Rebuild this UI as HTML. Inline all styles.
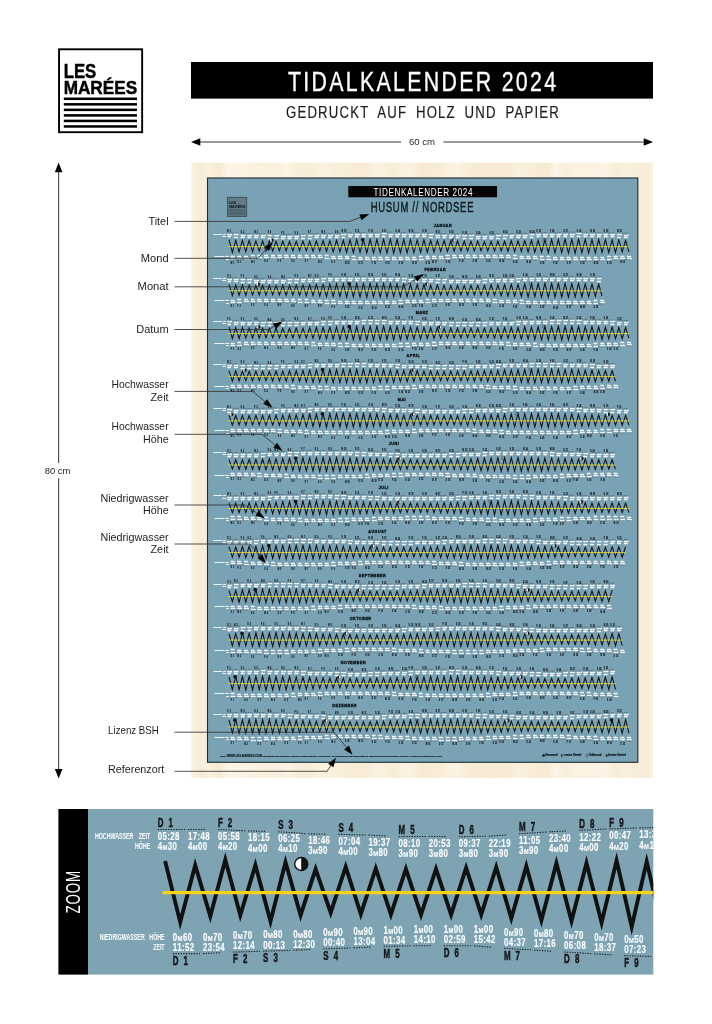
<!DOCTYPE html>
<html lang="de"><head><meta charset="utf-8"><title>Tidalkalender 2024</title>
<style>
html,body{margin:0;padding:0;background:#fff}
svg{display:block}
text{font-family:"Liberation Sans",sans-serif}
.lb{font-size:10.2px;fill:#1e1e1e}
.w{fill:#fff;font-weight:bold;font-size:10.6px;font-variant:small-caps;stroke:#fff;stroke-width:.12px;letter-spacing:.5px}
.d{fill:#161616;font-weight:bold;font-size:12.8px;word-spacing:4.6px;stroke:#161616;stroke-width:.5px}
.h{fill:#fff;font-weight:bold;font-size:8.4px}
.pr .w{stroke:#fff;stroke-width:1.9px;letter-spacing:0}
.pr .z{stroke-width:4.7px}
.pr .y{stroke-width:3.6px;stroke:#f6e52a}
.pr .d{stroke:#161616;stroke-width:.7px}
.pr .h{stroke:#fff;stroke-width:1px}
.pr .dt{stroke-width:1.6px;stroke-dasharray:none;stroke:#2a3a42}
.z{fill:none;stroke:#111;stroke-width:3.9;stroke-linejoin:miter;stroke-miterlimit:10}
.y{stroke:#f2d21a;stroke-width:3.3;fill:none}
.dt{stroke:#1b1b1b;stroke-width:1.1;stroke-dasharray:1.3 1.3;fill:none}
.mo{font-weight:bold;font-size:3.7px;fill:#10191d;stroke:#10191d;stroke-width:.35px}
</style></head><body>
<svg width="712" height="1024" viewBox="0 0 712 1024">
<defs>
<linearGradient id="wood" x1="0" x2="1" y1="0" y2="0">
<stop offset="0" stop-color="#fbf2e2"/><stop offset="0.02" stop-color="#f8ecd7"/><stop offset="0.04" stop-color="#faf0dd"/><stop offset="0.06" stop-color="#f7ead3"/><stop offset="0.08" stop-color="#fcf4e5"/><stop offset="0.1" stop-color="#fcf4e5"/><stop offset="0.12" stop-color="#fbf2e2"/><stop offset="0.15" stop-color="#faf0dd"/><stop offset="0.17" stop-color="#faf0dd"/><stop offset="0.19" stop-color="#faf0dd"/><stop offset="0.21" stop-color="#fcf4e5"/><stop offset="0.23" stop-color="#f9eeda"/><stop offset="0.25" stop-color="#f8ecd7"/><stop offset="0.27" stop-color="#faf0dd"/><stop offset="0.29" stop-color="#fbf2e2"/><stop offset="0.31" stop-color="#f9eeda"/><stop offset="0.33" stop-color="#f9eeda"/><stop offset="0.35" stop-color="#f8ecd7"/><stop offset="0.38" stop-color="#f8ecd7"/><stop offset="0.4" stop-color="#fbf2e2"/><stop offset="0.42" stop-color="#faf0dd"/><stop offset="0.44" stop-color="#f8ecd7"/><stop offset="0.46" stop-color="#fbf2e2"/><stop offset="0.48" stop-color="#faf0dd"/><stop offset="0.5" stop-color="#f7ead3"/><stop offset="0.52" stop-color="#f8ecd7"/><stop offset="0.54" stop-color="#f8ecd7"/><stop offset="0.56" stop-color="#fbf2e2"/><stop offset="0.58" stop-color="#fbf2e2"/><stop offset="0.6" stop-color="#f8ecd7"/><stop offset="0.62" stop-color="#f8ecd7"/><stop offset="0.65" stop-color="#f7ead3"/><stop offset="0.67" stop-color="#f7ead3"/><stop offset="0.69" stop-color="#f8ecd7"/><stop offset="0.71" stop-color="#faf0dd"/><stop offset="0.73" stop-color="#f9eeda"/><stop offset="0.75" stop-color="#f8ecd7"/><stop offset="0.77" stop-color="#f7ead3"/><stop offset="0.79" stop-color="#fcf4e5"/><stop offset="0.81" stop-color="#f9eeda"/><stop offset="0.83" stop-color="#fbf2e2"/><stop offset="0.85" stop-color="#fbf2e2"/><stop offset="0.88" stop-color="#fbf2e2"/><stop offset="0.9" stop-color="#fcf4e5"/><stop offset="0.92" stop-color="#f8ecd7"/><stop offset="0.94" stop-color="#faf0dd"/><stop offset="0.96" stop-color="#f9eeda"/><stop offset="0.98" stop-color="#f8ecd7"/><stop offset="1" stop-color="#faf0dd"/>
</linearGradient>
<clipPath id="zc"><rect x="88" y="809" width="565.3" height="165.6"/></clipPath>
</defs>
<rect width="712" height="1024" fill="#fff"/>
<g id="logo">
<rect x="59.05" y="49.3" width="83.1" height="82.9" fill="#fff" stroke="#000" stroke-width="1.9"/>
<text x="63.7" y="78.1" font-size="19.6" font-weight="bold" stroke="#000" stroke-width="0.45" textLength="32.6" lengthAdjust="spacingAndGlyphs">LES</text>
<text x="63.7" y="94.1" font-size="18" font-weight="bold" stroke="#000" stroke-width="0.45" textLength="73.4" lengthAdjust="spacingAndGlyphs">MARÉES</text>
<rect x="63.8" y="97.55" width="73.2" height="2.5"/>
<rect x="63.8" y="103.08" width="73.2" height="2.5"/>
<rect x="63.8" y="108.61" width="73.2" height="2.5"/>
<rect x="63.8" y="114.14" width="73.2" height="2.5"/>
<rect x="63.8" y="119.67" width="73.2" height="2.5"/>
<rect x="63.8" y="125.2" width="73.2" height="2.5"/>
</g>
<rect x="191" y="62" width="462" height="36.6" fill="#000"/>
<text x="288" y="91.2" font-size="28" fill="#fff" stroke="#fff" stroke-width="0.35" letter-spacing="3" textLength="270.3" lengthAdjust="spacingAndGlyphs">TIDALKALENDER 2024</text>
<text x="286" y="118.4" font-size="16.8" fill="#1c1c1c" stroke="#1c1c1c" stroke-width="0.2" letter-spacing="1.5" word-spacing="5" textLength="274" lengthAdjust="spacingAndGlyphs">GEDRUCKT AUF HOLZ UND PAPIER</text>
<g stroke="#333" stroke-width="1" fill="none">
<path d="M198 142H401M443.5 142H646"/>
<path d="M58.65 170V463M58.65 478.2V771"/>
</g>
<g fill="#000">
<path d="M191 142l9.3-3.7v7.4z"/><path d="M653 142l-9.3-3.7v7.4z"/>
<path d="M58.65 162.6l-3.8 9.6h7.6z"/><path d="M58.65 778.5l-3.8-9.6h7.6z"/>
</g>
<text x="409" y="145.1" font-size="9.4" fill="#1e1e1e" textLength="26" lengthAdjust="spacingAndGlyphs">60 cm</text>
<text x="44.7" y="474.1" font-size="9.4" fill="#1e1e1e" textLength="25.6" lengthAdjust="spacingAndGlyphs">80 cm</text>
<rect x="191.2" y="162.6" width="461.7" height="615.4" fill="url(#wood)"/>
<rect x="207.5" y="178" width="430.3" height="584.3" fill="#79a2b4" stroke="#1b2d35" stroke-width="1.1"/>
<g id="plogo"><rect x="227.4" y="197.2" width="19.4" height="19.3" fill="#5f7b86" stroke="#22343b" stroke-width="0.6"/>
<text x="228.9" y="204.3" font-size="4.3" font-weight="bold" fill="#0e1518" textLength="7.4" lengthAdjust="spacingAndGlyphs">LES</text>
<text x="228.9" y="208.1" font-size="4.1" font-weight="bold" fill="#0e1518" textLength="16.5" lengthAdjust="spacingAndGlyphs">MARÉES</text>
<path d="M228.9 209.6h16.5M228.9 210.9h16.5M228.9 212.2h16.5M228.9 213.5h16.5M228.9 214.8h16.5" stroke="#3c525b" stroke-width="0.6"/></g>
<rect x="348.3" y="186" width="148.8" height="11.3" fill="#050505"/>
<text x="373.5" y="195.5" font-size="10.9" fill="#fff" letter-spacing="0.8" textLength="99.6" lengthAdjust="spacingAndGlyphs">TIDENKALENDER 2024</text>
<text x="370.7" y="212.2" font-size="13.8" fill="#121c20" stroke="#121c20" stroke-width="0.45" letter-spacing="1" textLength="103.5" lengthAdjust="spacingAndGlyphs">HUSUM // NORDSEE</text>
<text class="mo" x="443" y="226.8" text-anchor="middle" letter-spacing="0.5">JANUAR</text>
<g class="pr" transform="translate(229 246.7) scale(0.2233)">
<path class="z" d="M0 -31.1 15.1 25.7 30.1 -29.3 45.2 23.2 60.2 -28.2 75.2 22.7 90.3 -28.2 105.4 22.5 120.4 -25.9 135.5 20 150.5 -26 165.6 19.8 180.6 -25.2 195.7 20 210.7 -23.8 225.8 18 240.8 -24.9 255.9 18.4 270.9 -23.6 286 19.2 301 -24 316.1 17.9 331.1 -25 346.2 19.1 361.2 -24.2 376.3 20.5 391.3 -26.2 406.4 19.9 421.4 -26.4 436.5 21.6 451.5 -26.9 466.6 23.4 481.6 -29.2 496.7 23 511.7 -28.8 526.8 24.8 541.8 -30.5 556.9 26.6 571.9 -31.7 586.9 26 602 -31.3 617 27.5 632.1 -33.3 647.1 28.7 662.2 -32.7 677.2 27.5 692.3 -32.9 707.4 28.4 722.4 -33.8 737.5 29 752.5 -32.1 767.5 27.1 782.6 -32.8 797.6 27.3 812.7 -31.9 827.8 27.2 842.8 -30.4 857.9 24.7 872.9 -30.8 888 24.5 903 -28.5 918 24.1 933.1 -28.1 948.1 21.5 963.2 -27.6 978.2 21.3 993.3 -25.4 1008.4 21 1023.4 -26 1038.5 18.7 1053.5 -24.6 1068.5 19 1083.6 -23.9 1098.7 19.3 1113.7 -24.8 1128.8 17.6 1143.8 -23.3 1158.8 18.6 1173.9 -24.5 1189 19.5 1204 -24.9 1219 18.6 1234.1 -24.5 1249.2 20.3 1264.2 -26.7 1279.2 21.7 1294.3 -26.5 1309.3 21.3 1324.4 -27.7 1339.5 23.3 1354.5 -29.5 1369.5 24.9 1384.6 -29.1 1399.7 24.5 1414.7 -31.3 1429.8 26.4 1444.8 -31.7 1459.9 27.8 1474.9 -31.8 1490 26.9 1505 -33.6 1520 28.3 1535.1 -32.5 1550.2 29 1565.2 -33.3 1580.2 27.5 1595.3 -33.5 1610.4 28.3 1625.4 -31.9 1640.5 28.2 1655.5 -32.8 1670.5 26 1685.6 -31.2 1700.7 26.2 1715.7 -30.2 1730.8 25.7 1745.8 -30.3 1760.9 23.1 1775.9 -27.9 1791 23"/>
<path class="y" d="M-2.7 0H1791"/>
<circle cx="191.3" cy="-28.8" r="7.5" fill="#fff" stroke="#111" stroke-width="1.4"/><path d="M191.3 -37a8.2 8.2 0 0 1 0 16.4z" fill="#111"/>
<circle cx="598.4" cy="-31.3" r="8.2" fill="#111"/>
<circle cx="1005.6" cy="-29.1" r="7.5" fill="#fff" stroke="#111" stroke-width="1.4"/><path d="M1005.6 -37.3a8.2 8.2 0 0 0 0 16.4z" fill="#111"/>
<circle cx="1412.7" cy="-30.8" r="7.4" fill="none" stroke="#111" stroke-width="1.6"/>
<path class="dt" d="M-7.3 -62.5l27.5 0.9M22.8 -61.5l18 0.6M52.9 -60.5l27.5 0.9M83 -59.5l18 0.6M113.1 -58.6l27.5 0.8M143.2 -57.7l18 0.4M173.3 -57l27.5 0.5M203.4 -56.5l18 0.2M233.5 -56.1l27.5 0.1M263.6 -56l18 -0.1M293.7 -56.1l27.5 -0.3M323.8 -56.4l18 -0.3M353.9 -56.9l27.5 -0.6M384 -57.6l18 -0.5M414.1 -58.5l27.5 -0.9M444.2 -59.4l18 -0.6M474.3 -60.4l27.5 -0.9M504.4 -61.4l27.5 -0.9M534.5 -62.4l18 -0.5M564.6 -63.3l27.5 -0.7M594.7 -64l18 -0.4M624.8 -64.6l27.5 -0.4M654.9 -65l18 -0.1M685 -65.2l27.5 0M715.1 -65.1l18 0.2M745.2 -64.9l27.5 0.4M775.3 -64.4l18 0.4M805.4 -63.8l27.5 0.7M835.5 -63l18 0.5M865.6 -62.1l27.5 0.9M895.7 -61.1l18 0.6M925.8 -60.1l27.5 0.9M955.9 -59.1l18 0.5M986 -58.2l27.5 0.7M1016.1 -57.4l18 0.4M1046.2 -56.7l27.5 0.4M1076.3 -56.3l18 0.1M1106.4 -56l27.5 0M1136.5 -56l18 -0.1M1166.6 -56.2l27.5 -0.4M1196.7 -56.6l18 -0.4M1226.8 -57.2l27.5 -0.7M1256.9 -58l18 -0.5M1287 -58.9l27.5 -0.9M1317.1 -59.9l18 -0.6M1347.2 -60.9l27.5 -0.9M1377.3 -61.9l27.5 -0.9M1407.4 -62.8l18 -0.5M1437.5 -63.6l27.5 -0.6M1467.6 -64.3l18 -0.3M1497.7 -64.8l27.5 -0.3M1527.8 -65.1l18 0M1557.9 -65.2l27.5 0.1M1588 -65.1l18 0.2M1618.1 -64.7l27.5 0.5M1648.2 -64.1l18 0.4M1678.3 -63.4l27.5 0.8M1708.4 -62.6l18 0.6M1738.5 -61.6l27.5 0.9M1768.6 -60.6l18 0M7.8 59.7l27 -1M37.9 58.6l27 -1M68 57.4l17.5 -0.6M98.1 56.3l27 -0.9M128.2 55.3l17.5 -0.5M158.2 54.4l27 -0.6M188.4 53.7l17.5 -0.3M218.5 53.2l27 -0.2M248.6 52.9l17.5 0M278.7 52.9l27 0.2M308.8 53.2l17.5 0.3M338.9 53.6l27 0.6M369 54.3l17.5 0.5M399.1 55.2l27 0.9M429.2 56.2l17.5 0.6M459.2 57.3l27 1M489.4 58.4l17.5 0.7M519.5 59.6l27 0.9M549.6 60.6l17.5 0.5M579.6 61.6l27 0.7M609.8 62.3l17.5 0.3M639.9 62.9l27 0.3M670 63.2l17.5 0M700.1 63.3l27 -0.2M730.2 63.1l17.5 -0.2M760.2 62.7l27 -0.6M790.4 62.1l17.5 -0.5M820.5 61.3l27 -0.9M850.6 60.3l17.5 -0.6M880.7 59.2l27 -1M910.8 58.1l27 -1M940.9 56.9l17.5 -0.6M971 55.8l27 -0.9M1001.1 54.9l17.5 -0.5M1031.2 54.1l27 -0.6M1061.2 53.4l17.5 -0.2M1091.4 53l27 -0.1M1121.5 52.9l17.5 0.1M1151.5 53l27 0.3M1181.7 53.4l17.5 0.3M1211.8 53.9l27 0.7M1241.9 54.7l17.5 0.5M1272 55.7l27 1M1302 56.7l17.5 0.7M1332.2 57.8l27 1M1362.2 59l17.5 0.6M1392.4 60.1l27 0.9M1422.5 61.1l17.5 0.5M1452.6 61.9l27 0.6M1482.7 62.6l17.5 0.3M1512.8 63.1l27 0.2M1542.9 63.3l17.5 0M1573 63.2l27 -0.3M1603.1 63l17.5 -0.3M1633.2 62.4l27 -0.7M1663.2 61.7l17.5 -0.5M1693.4 60.8l27 -0.9M1723.5 59.8l17.5 -0.6M1753.6 58.7l27 -1M1783.7 57.5l17.5 0"/>
<g class="w" transform="scale(0.745 1)"><text x="-9.8" y="-52">05:28<tspan x="-9.8" dy="10.1">4m10</tspan></text><text x="30.6" y="-51">17:53<tspan x="30.6" dy="10.1">4m10</tspan></text><text x="71" y="-50">06:19<tspan x="71" dy="10.1">4m00</tspan></text><text x="111.4" y="-49">18:44<tspan x="111.4" dy="10.1">4m00</tspan></text><text x="151.8" y="-48.1">07:09<tspan x="151.8" dy="10.1">3m90</tspan></text><text x="192.2" y="-47.2">19:34<tspan x="192.2" dy="10.1">3m90</tspan></text><text x="232.6" y="-46.5">07:59<tspan x="232.6" dy="10.1">3m90</tspan></text><text x="273" y="-46">20:25<tspan x="273" dy="10.1">3m80</tspan></text><text x="313.4" y="-45.6">08:50<tspan x="313.4" dy="10.1">3m80</tspan></text><text x="353.8" y="-45.5">21:15<tspan x="353.8" dy="10.1">3m80</tspan></text><text x="394.2" y="-45.6">09:40<tspan x="394.2" dy="10.1">3m80</tspan></text><text x="434.6" y="-45.9">22:06<tspan x="434.6" dy="10.1">3m90</tspan></text><text x="475" y="-46.4">10:31<tspan x="475" dy="10.1">3m80</tspan></text><text x="515.4" y="-47.1">22:56<tspan x="515.4" dy="10.1">3m90</tspan></text><text x="555.8" y="-48">11:21<tspan x="555.8" dy="10.1">3m90</tspan></text><text x="596.2" y="-48.9">23:47<tspan x="596.2" dy="10.1">3m90</tspan></text><text x="636.6" y="-49.9">12:12<tspan x="636.6" dy="10.1">4m10</tspan></text><text x="677" y="-50.9">00:37<tspan x="677" dy="10.1">4m00</tspan></text><text x="717.4" y="-51.9">13:02<tspan x="717.4" dy="10.1">4m10</tspan></text><text x="757.9" y="-52.8">01:28<tspan x="757.9" dy="10.1">4m20</tspan></text><text x="798.3" y="-53.5">13:53<tspan x="798.3" dy="10.1">4m10</tspan></text><text x="838.7" y="-54.1">02:18<tspan x="838.7" dy="10.1">4m20</tspan></text><text x="879.1" y="-54.5">14:43<tspan x="879.1" dy="10.1">4m20</tspan></text><text x="919.5" y="-54.7">03:08<tspan x="919.5" dy="10.1">4m20</tspan></text><text x="959.9" y="-54.6">15:34<tspan x="959.9" dy="10.1">4m30</tspan></text><text x="1000.3" y="-54.4">03:59<tspan x="1000.3" dy="10.1">4m20</tspan></text><text x="1040.7" y="-53.9">16:24<tspan x="1040.7" dy="10.1">4m20</tspan></text><text x="1081.1" y="-53.3">04:49<tspan x="1081.1" dy="10.1">4m20</tspan></text><text x="1121.5" y="-52.5">17:15<tspan x="1121.5" dy="10.1">4m10</tspan></text><text x="1161.9" y="-51.6">05:40<tspan x="1161.9" dy="10.1">4m10</tspan></text><text x="1202.3" y="-50.6">18:05<tspan x="1202.3" dy="10.1">4m00</tspan></text><text x="1242.7" y="-49.6">06:30<tspan x="1242.7" dy="10.1">4m00</tspan></text><text x="1283.1" y="-48.6">18:56<tspan x="1283.1" dy="10.1">4m00</tspan></text><text x="1323.5" y="-47.7">07:21<tspan x="1323.5" dy="10.1">3m90</tspan></text><text x="1363.9" y="-46.9">19:46<tspan x="1363.9" dy="10.1">3m90</tspan></text><text x="1404.3" y="-46.2">08:11<tspan x="1404.3" dy="10.1">3m80</tspan></text><text x="1444.7" y="-45.8">20:37<tspan x="1444.7" dy="10.1">3m80</tspan></text><text x="1485.1" y="-45.5">09:02<tspan x="1485.1" dy="10.1">3m80</tspan></text><text x="1525.5" y="-45.5">21:27<tspan x="1525.5" dy="10.1">3m80</tspan></text><text x="1565.9" y="-45.7">09:52<tspan x="1565.9" dy="10.1">3m80</tspan></text><text x="1606.3" y="-46.1">22:17<tspan x="1606.3" dy="10.1">3m80</tspan></text><text x="1646.7" y="-46.7">10:43<tspan x="1646.7" dy="10.1">3m80</tspan></text><text x="1687.1" y="-47.5">23:08<tspan x="1687.1" dy="10.1">3m90</tspan></text><text x="1727.5" y="-48.4">11:33<tspan x="1727.5" dy="10.1">3m90</tspan></text><text x="1767.9" y="-49.4">23:58<tspan x="1767.9" dy="10.1">4m00</tspan></text><text x="1808.3" y="-50.4">12:24<tspan x="1808.3" dy="10.1">4m10</tspan></text><text x="1848.7" y="-51.4">00:49<tspan x="1848.7" dy="10.1">4m00</tspan></text><text x="1889.1" y="-52.3">13:14<tspan x="1889.1" dy="10.1">4m20</tspan></text><text x="1929.5" y="-53.1">01:39<tspan x="1929.5" dy="10.1">4m20</tspan></text><text x="1969.9" y="-53.8">14:05<tspan x="1969.9" dy="10.1">4m20</tspan></text><text x="2010.3" y="-54.3">02:30<tspan x="2010.3" dy="10.1">4m30</tspan></text><text x="2050.7" y="-54.6">14:55<tspan x="2050.7" dy="10.1">4m20</tspan></text><text x="2091.1" y="-54.7">03:20<tspan x="2091.1" dy="10.1">4m20</tspan></text><text x="2131.5" y="-54.6">15:46<tspan x="2131.5" dy="10.1">4m30</tspan></text><text x="2171.9" y="-54.2">04:11<tspan x="2171.9" dy="10.1">4m20</tspan></text><text x="2212.3" y="-53.6">16:36<tspan x="2212.3" dy="10.1">4m20</tspan></text><text x="2252.8" y="-52.9">05:01<tspan x="2252.8" dy="10.1">4m10</tspan></text><text x="2293.2" y="-52.1">17:26<tspan x="2293.2" dy="10.1">4m10</tspan></text><text x="2333.6" y="-51.1">05:52<tspan x="2333.6" dy="10.1">4m10</tspan></text><text x="2374" y="-50.1">18:17<tspan x="2374" dy="10.1">4m00</tspan></text><text x="10.4" y="47">0m70<tspan x="10.4" dy="10.1">11:41</tspan></text><text x="50.8" y="45.9">0m70<tspan x="50.8" dy="10.1">00:06</tspan></text><text x="91.2" y="44.7">0m80<tspan x="91.2" dy="10.1">12:31</tspan></text><text x="131.6" y="43.6">0m90<tspan x="131.6" dy="10.1">00:56</tspan></text><text x="172" y="42.6">0m90<tspan x="172" dy="10.1">13:22</tspan></text><text x="212.4" y="41.7">0m90<tspan x="212.4" dy="10.1">01:47</tspan></text><text x="252.8" y="41">1m00<tspan x="252.8" dy="10.1">14:12</tspan></text><text x="293.2" y="40.5">1m00<tspan x="293.2" dy="10.1">02:37</tspan></text><text x="333.6" y="40.2">1m00<tspan x="333.6" dy="10.1">15:03</tspan></text><text x="374" y="40.2">1m00<tspan x="374" dy="10.1">03:28</tspan></text><text x="414.4" y="40.5">1m00<tspan x="414.4" dy="10.1">15:53</tspan></text><text x="454.8" y="40.9">1m00<tspan x="454.8" dy="10.1">04:18</tspan></text><text x="495.2" y="41.6">1m00<tspan x="495.2" dy="10.1">16:43</tspan></text><text x="535.6" y="42.5">0m90<tspan x="535.6" dy="10.1">05:09</tspan></text><text x="576" y="43.5">0m90<tspan x="576" dy="10.1">17:34</tspan></text><text x="616.4" y="44.6">0m80<tspan x="616.4" dy="10.1">05:59</tspan></text><text x="656.8" y="45.7">0m70<tspan x="656.8" dy="10.1">18:24</tspan></text><text x="697.2" y="46.9">0m70<tspan x="697.2" dy="10.1">06:50</tspan></text><text x="737.7" y="47.9">0m70<tspan x="737.7" dy="10.1">19:15</tspan></text><text x="778.1" y="48.9">0m60<tspan x="778.1" dy="10.1">07:40</tspan></text><text x="818.5" y="49.6">0m60<tspan x="818.5" dy="10.1">20:05</tspan></text><text x="858.9" y="50.2">0m60<tspan x="858.9" dy="10.1">08:31</tspan></text><text x="899.3" y="50.5">0m50<tspan x="899.3" dy="10.1">20:56</tspan></text><text x="939.7" y="50.6">0m60<tspan x="939.7" dy="10.1">09:21</tspan></text><text x="980.1" y="50.4">0m60<tspan x="980.1" dy="10.1">21:46</tspan></text><text x="1020.5" y="50">0m60<tspan x="1020.5" dy="10.1">10:12</tspan></text><text x="1060.9" y="49.4">0m60<tspan x="1060.9" dy="10.1">22:37</tspan></text><text x="1101.3" y="48.6">0m70<tspan x="1101.3" dy="10.1">11:02</tspan></text><text x="1141.7" y="47.6">0m70<tspan x="1141.7" dy="10.1">23:27</tspan></text><text x="1182.1" y="46.5">0m70<tspan x="1182.1" dy="10.1">11:52</tspan></text><text x="1222.5" y="45.4">0m80<tspan x="1222.5" dy="10.1">00:18</tspan></text><text x="1262.9" y="44.2">0m80<tspan x="1262.9" dy="10.1">12:43</tspan></text><text x="1303.3" y="43.1">0m90<tspan x="1303.3" dy="10.1">01:08</tspan></text><text x="1343.7" y="42.2">0m90<tspan x="1343.7" dy="10.1">13:33</tspan></text><text x="1384.1" y="41.4">0m90<tspan x="1384.1" dy="10.1">01:59</tspan></text><text x="1424.5" y="40.7">1m00<tspan x="1424.5" dy="10.1">14:24</tspan></text><text x="1464.9" y="40.3">1m00<tspan x="1464.9" dy="10.1">02:49</tspan></text><text x="1505.3" y="40.2">1m00<tspan x="1505.3" dy="10.1">15:14</tspan></text><text x="1545.7" y="40.3">1m00<tspan x="1545.7" dy="10.1">03:40</tspan></text><text x="1586.1" y="40.7">1m00<tspan x="1586.1" dy="10.1">16:05</tspan></text><text x="1626.5" y="41.2">0m90<tspan x="1626.5" dy="10.1">04:30</tspan></text><text x="1666.9" y="42">0m90<tspan x="1666.9" dy="10.1">16:55</tspan></text><text x="1707.3" y="43">0m90<tspan x="1707.3" dy="10.1">05:21</tspan></text><text x="1747.7" y="44">0m80<tspan x="1747.7" dy="10.1">17:46</tspan></text><text x="1788.1" y="45.1">0m80<tspan x="1788.1" dy="10.1">06:11</tspan></text><text x="1828.5" y="46.3">0m80<tspan x="1828.5" dy="10.1">18:36</tspan></text><text x="1868.9" y="47.4">0m70<tspan x="1868.9" dy="10.1">07:02</tspan></text><text x="1909.3" y="48.4">0m70<tspan x="1909.3" dy="10.1">19:27</tspan></text><text x="1949.7" y="49.2">0m60<tspan x="1949.7" dy="10.1">07:52</tspan></text><text x="1990.1" y="49.9">0m60<tspan x="1990.1" dy="10.1">20:17</tspan></text><text x="2030.5" y="50.4">0m60<tspan x="2030.5" dy="10.1">08:42</tspan></text><text x="2070.9" y="50.6">0m60<tspan x="2070.9" dy="10.1">21:08</tspan></text><text x="2111.3" y="50.5">0m50<tspan x="2111.3" dy="10.1">09:33</tspan></text><text x="2151.7" y="50.3">0m60<tspan x="2151.7" dy="10.1">21:58</tspan></text><text x="2192.1" y="49.7">0m60<tspan x="2192.1" dy="10.1">10:23</tspan></text><text x="2232.6" y="49">0m60<tspan x="2232.6" dy="10.1">22:49</tspan></text><text x="2273" y="48.1">0m70<tspan x="2273" dy="10.1">11:14</tspan></text><text x="2313.4" y="47.1">0m70<tspan x="2313.4" dy="10.1">23:39</tspan></text><text x="2353.8" y="46">0m70<tspan x="2353.8" dy="10.1">12:04</tspan></text><text x="2394.2" y="44.8">0m80<tspan x="2394.2" dy="10.1">00:30</tspan></text></g>
<g class="d" transform="scale(0.62 1)"><text x="-11.8" y="-64.9">M 1</text><text x="85.3" y="-62.9">D 2</text><text x="182.4" y="-61">M 3</text><text x="279.5" y="-59.4">D 4</text><text x="376.6" y="-58.5">F 5</text><text x="473.7" y="-58.5">S 6</text><text x="570.8" y="-59.3">S 7</text><text x="667.9" y="-60.9">M 8</text><text x="765" y="-62.8">D 9</text><text x="813.5" y="-63.8">M 10</text><text x="910.6" y="-65.7">D 11</text><text x="1007.7" y="-67">F 12</text><text x="1104.8" y="-67.6">S 13</text><text x="1201.9" y="-67.3">S 14</text><text x="1299" y="-66.2">M 15</text><text x="1396.1" y="-64.5">D 16</text><text x="1493.2" y="-62.5">M 17</text><text x="1590.3" y="-60.6">D 18</text><text x="1687.4" y="-59.1">F 19</text><text x="1784.5" y="-58.4">S 20</text><text x="1881.6" y="-58.6">S 21</text><text x="1978.7" y="-59.6">M 22</text><text x="2075.8" y="-61.3">D 23</text><text x="2172.9" y="-63.3">M 24</text><text x="2221.5" y="-64.3">D 25</text><text x="2318.5" y="-66">F 26</text><text x="2415.6" y="-67.2">S 27</text><text x="2512.7" y="-67.6">S 28</text><text x="2609.8" y="-67.1">M 29</text><text x="2706.9" y="-65.8">D 30</text><text x="2804" y="-64">M 31</text><text x="12.5" y="76">M 1</text><text x="61" y="74.9">D 2</text><text x="158.1" y="72.6">M 3</text><text x="255.2" y="70.7">D 4</text><text x="352.3" y="69.5">F 5</text><text x="449.4" y="69.2">S 6</text><text x="546.5" y="69.9">S 7</text><text x="643.6" y="71.5">M 8</text><text x="740.7" y="73.6">D 9</text><text x="837.8" y="75.9">M 10</text><text x="934.9" y="77.9">D 11</text><text x="1032" y="79.2">F 12</text><text x="1129.1" y="79.6">S 13</text><text x="1226.2" y="79">S 14</text><text x="1323.3" y="77.6">M 15</text><text x="1420.4" y="75.5">D 16</text><text x="1469" y="74.4">M 17</text><text x="1566" y="72.1">D 18</text><text x="1663.1" y="70.4">F 19</text><text x="1760.2" y="69.3">S 20</text><text x="1857.3" y="69.3">S 21</text><text x="1954.4" y="70.2">M 22</text><text x="2051.5" y="72">D 23</text><text x="2148.6" y="74.1">M 24</text><text x="2245.7" y="76.4">D 25</text><text x="2342.8" y="78.2">F 26</text><text x="2439.9" y="79.4">S 27</text><text x="2537" y="79.5">S 28</text><text x="2634.1" y="78.7">M 29</text><text x="2731.2" y="77.1">D 30</text><text x="2828.3" y="75">M 31</text></g>
<g class="h" transform="scale(0.63 1)"><text x="-50.3" y="-53.4" text-anchor="end">HOCHWASSER</text><text x="-23.5" y="-53.4" text-anchor="end">ZEIT</text><text x="-23.5" y="-43.5" text-anchor="end">HÖHE</text><text x="-32.4" y="47.3" text-anchor="end">NIEDRIGWASSER</text><text x="-0.8" y="47.3" text-anchor="end">HÖHE</text><text x="-0.8" y="57.7" text-anchor="end">ZEIT</text></g>
</g>
<text class="mo" x="435.3" y="270.9" text-anchor="middle" letter-spacing="0.5">FEBRUAR</text>
<g class="pr" transform="translate(229 290.8) scale(0.2233)">
<path class="z" d="M0 -28.3 15.1 21.1 30.1 -25.9 45.2 20.6 60.2 -26.1 75.2 20.7 90.3 -25.2 105.4 18.5 120.4 -23.9 135.5 18.6 150.5 -24.9 165.6 19.3 180.6 -23.5 195.7 17.7 210.7 -24 225.8 18.5 240.8 -24.9 255.9 19.9 270.9 -24.1 286 19 301 -26.2 316.1 20.4 331.1 -26.3 346.2 22.3 361.2 -26.9 376.3 21.9 391.3 -29.1 406.4 23.6 421.4 -28.7 436.5 25.6 451.5 -30.6 466.6 25.1 481.6 -31.5 496.7 26.6 511.7 -31.3 526.8 28.2 541.8 -33.3 556.9 27.3 571.9 -32.6 586.9 28.2 602 -33 617 29.2 632.1 -33.8 647.1 27.5 662.2 -32.2 677.2 27.8 692.3 -32.9 707.4 28.1 722.4 -31.9 737.5 25.8 752.5 -30.5 767.5 25.5 782.6 -30.9 797.6 25.3 812.7 -28.6 827.8 22.7 842.8 -28.2 857.9 22.3 872.9 -27.6 888 22.1 903 -25.5 918 19.6 933.1 -26.1 948.1 19.5 963.2 -24.6 978.2 19.7 993.3 -23.9 1008.4 17.8 1023.4 -24.8 1038.5 18.4 1053.5 -23.3 1068.5 19.2 1083.6 -24.5 1098.7 18 1113.7 -24.8 1128.8 19.4 1143.8 -24.5 1158.8 20.8 1173.9 -26.7 1189 20.2 1204 -26.4 1219 22 1234.1 -27.7 1249.2 23.8 1264.2 -29.4 1279.2 23.4 1294.3 -29 1309.3 25.3 1324.4 -31.3 1339.5 26.9 1354.5 -31.6 1369.5 26.3 1384.6 -31.8 1399.7 27.8 1414.7 -33.6 1429.8 28.9 1444.8 -32.5 1459.9 27.6 1474.9 -33.4 1490 28.4 1505 -33.5 1520 28.8 1535.1 -32 1550.2 26.8 1565.2 -32.9 1580.2 27 1595.3 -31.2 1610.4 26.8 1625.4 -30.3 1640.5 24.3 1655.5 -30.3 1670.5 24.1"/>
<path class="y" d="M-2.7 0H1670.5"/>
<circle cx="130.2" cy="-28.6" r="7.5" fill="#fff" stroke="#111" stroke-width="1.4"/><path d="M130.2 -36.8a8.2 8.2 0 0 1 0 16.4z" fill="#111"/>
<circle cx="537.3" cy="-31.4" r="8.2" fill="#111"/>
<circle cx="886.3" cy="-29.4" r="7.5" fill="#fff" stroke="#111" stroke-width="1.4"/><path d="M886.3 -37.6a8.2 8.2 0 0 0 0 16.4z" fill="#111"/>
<circle cx="1351.5" cy="-31.1" r="7.4" fill="none" stroke="#111" stroke-width="1.6"/>
<path class="dt" d="M-7.3 -59.6l27.5 0.9M22.8 -58.6l18 0.5M52.9 -57.8l27.5 0.7M83 -57l18 0.3M113.1 -56.5l27.5 0.3M143.2 -56.1l18 0.1M173.3 -56l27.5 -0.1M203.4 -56.1l18 -0.2M233.5 -56.4l27.5 -0.5M263.6 -56.9l18 -0.4M293.7 -57.6l27.5 -0.8M323.8 -58.4l18 -0.6M353.9 -59.3l27.5 -0.9M384 -60.3l27.5 -0.9M414.1 -61.4l18 -0.6M444.2 -62.3l27.5 -0.8M474.3 -63.2l18 -0.5M504.4 -64l27.5 -0.5M534.5 -64.6l18 -0.2M564.6 -65l27.5 -0.2M594.7 -65.2l18 0M624.8 -65.2l27.5 0.2M654.9 -64.9l18 0.3M685 -64.5l27.5 0.6M715.1 -63.8l18 0.5M745.2 -63l27.5 0.8M775.3 -62.1l18 0.6M805.4 -61.1l27.5 0.9M835.5 -60.1l18 0.6M865.6 -59.1l27.5 0.8M895.7 -58.2l18 0.5M925.8 -57.4l27.5 0.6M955.9 -56.8l18 0.3M986 -56.3l27.5 0.2M1016.1 -56l18 0M1046.2 -56l27.5 -0.2M1076.3 -56.2l18 -0.2M1106.4 -56.6l27.5 -0.5M1136.5 -57.2l18 -0.5M1166.6 -58l27.5 -0.8M1196.7 -58.8l18 -0.6M1226.8 -59.8l27.5 -0.9M1256.9 -60.8l27.5 -0.9M1287 -61.8l18 -0.6M1317.1 -62.8l27.5 -0.8M1347.2 -63.6l18 -0.4M1377.3 -64.3l27.5 -0.5M1407.4 -64.8l18 -0.2M1437.5 -65.1l27.5 -0.1M1467.6 -65.2l18 0.1M1497.7 -65.1l27.5 0.3M1527.8 -64.7l18 0.3M1557.9 -64.2l27.5 0.7M1588 -63.5l18 0.5M1618.1 -62.6l27.5 0.9M1648.2 -61.7l18 0M7.8 56.4l27 -0.9M37.9 55.4l27 -0.8M68 54.5l17.5 -0.4M98.1 53.7l27 -0.5M128.2 53.2l17.5 -0.2M158.2 52.9l27 0M188.4 52.9l17.5 0.1M218.5 53.1l27 0.4M248.6 53.6l17.5 0.4M278.7 54.3l27 0.8M308.8 55.1l17.5 0.6M338.9 56.1l27 1M369 57.2l17.5 0.7M399.1 58.4l27 1M429.2 59.5l17.5 0.6M459.2 60.6l27 0.8M489.4 61.5l17.5 0.5M519.5 62.3l27 0.5M549.6 62.9l17.5 0.2M579.6 63.2l27 0.1M609.8 63.3l17.5 -0.1M639.9 63.1l27 -0.4M670 62.7l17.5 -0.4M700.1 62.1l27 -0.7M730.2 61.3l17.5 -0.6M760.2 60.3l27 -1M790.4 59.3l17.5 -0.7M820.5 58.1l27 -1M850.6 57l27 -1M880.7 55.9l17.5 -0.6M910.8 54.9l27 -0.7M940.9 54.1l17.5 -0.4M971 53.5l27 -0.4M1001.1 53.1l17.5 -0.1M1031.2 52.9l27 0.1M1061.2 53l17.5 0.2M1091.4 53.3l27 0.5M1121.5 53.9l17.5 0.4M1151.5 54.7l27 0.8M1181.7 55.6l17.5 0.6M1211.8 56.6l27 1M1241.9 57.8l17.5 0.7M1272 58.9l27 1M1302 60l17.5 0.6M1332.2 61l27 0.8M1362.2 61.9l17.5 0.4M1392.4 62.6l27 0.4M1422.5 63l17.5 0.1M1452.6 63.3l27 0M1482.7 63.3l17.5 -0.2M1512.8 63l27 -0.5M1542.9 62.5l17.5 -0.4M1573 61.8l27 -0.8M1603.1 60.9l17.5 -0.6M1633.2 59.8l27 -1M1663.2 58.7l17.5 0"/>
<g class="w" transform="scale(0.745 1)"><text x="-9.8" y="-49.1">06:42<tspan x="-9.8" dy="10.1">4m00</tspan></text><text x="30.6" y="-48.1">19:07<tspan x="30.6" dy="10.1">3m90</tspan></text><text x="71" y="-47.3">07:33<tspan x="71" dy="10.1">3m90</tspan></text><text x="111.4" y="-46.5">19:58<tspan x="111.4" dy="10.1">3m90</tspan></text><text x="151.8" y="-46">08:23<tspan x="151.8" dy="10.1">3m80</tspan></text><text x="192.2" y="-45.6">20:48<tspan x="192.2" dy="10.1">3m80</tspan></text><text x="232.6" y="-45.5">09:14<tspan x="232.6" dy="10.1">3m80</tspan></text><text x="273" y="-45.6">21:39<tspan x="273" dy="10.1">3m80</tspan></text><text x="313.4" y="-45.9">10:04<tspan x="313.4" dy="10.1">3m80</tspan></text><text x="353.8" y="-46.4">22:29<tspan x="353.8" dy="10.1">3m80</tspan></text><text x="394.2" y="-47.1">10:55<tspan x="394.2" dy="10.1">3m90</tspan></text><text x="434.6" y="-47.9">23:20<tspan x="434.6" dy="10.1">3m90</tspan></text><text x="475" y="-48.8">11:45<tspan x="475" dy="10.1">3m90</tspan></text><text x="515.4" y="-49.8">00:10<tspan x="515.4" dy="10.1">4m00</tspan></text><text x="555.8" y="-50.9">12:35<tspan x="555.8" dy="10.1">4m00</tspan></text><text x="596.2" y="-51.8">01:01<tspan x="596.2" dy="10.1">4m10</tspan></text><text x="636.6" y="-52.7">13:26<tspan x="636.6" dy="10.1">4m20</tspan></text><text x="677" y="-53.5">01:51<tspan x="677" dy="10.1">4m10</tspan></text><text x="717.4" y="-54.1">14:16<tspan x="717.4" dy="10.1">4m20</tspan></text><text x="757.9" y="-54.5">02:42<tspan x="757.9" dy="10.1">4m20</tspan></text><text x="798.3" y="-54.7">15:07<tspan x="798.3" dy="10.1">4m20</tspan></text><text x="838.7" y="-54.7">03:32<tspan x="838.7" dy="10.1">4m30</tspan></text><text x="879.1" y="-54.4">15:57<tspan x="879.1" dy="10.1">4m20</tspan></text><text x="919.5" y="-54">04:23<tspan x="919.5" dy="10.1">4m20</tspan></text><text x="959.9" y="-53.3">16:48<tspan x="959.9" dy="10.1">4m20</tspan></text><text x="1000.3" y="-52.5">05:13<tspan x="1000.3" dy="10.1">4m10</tspan></text><text x="1040.7" y="-51.6">17:38<tspan x="1040.7" dy="10.1">4m10</tspan></text><text x="1081.1" y="-50.6">06:04<tspan x="1081.1" dy="10.1">4m00</tspan></text><text x="1121.5" y="-49.6">18:29<tspan x="1121.5" dy="10.1">4m00</tspan></text><text x="1161.9" y="-48.6">06:54<tspan x="1161.9" dy="10.1">4m00</tspan></text><text x="1202.3" y="-47.7">19:19<tspan x="1202.3" dy="10.1">3m90</tspan></text><text x="1242.7" y="-46.9">07:45<tspan x="1242.7" dy="10.1">3m90</tspan></text><text x="1283.1" y="-46.3">20:10<tspan x="1283.1" dy="10.1">3m80</tspan></text><text x="1323.5" y="-45.8">08:35<tspan x="1323.5" dy="10.1">3m80</tspan></text><text x="1363.9" y="-45.5">21:00<tspan x="1363.9" dy="10.1">3m80</tspan></text><text x="1404.3" y="-45.5">09:25<tspan x="1404.3" dy="10.1">3m80</tspan></text><text x="1444.7" y="-45.7">21:51<tspan x="1444.7" dy="10.1">3m80</tspan></text><text x="1485.1" y="-46.1">10:16<tspan x="1485.1" dy="10.1">3m80</tspan></text><text x="1525.5" y="-46.7">22:41<tspan x="1525.5" dy="10.1">3m80</tspan></text><text x="1565.9" y="-47.5">11:06<tspan x="1565.9" dy="10.1">3m90</tspan></text><text x="1606.3" y="-48.3">23:32<tspan x="1606.3" dy="10.1">3m90</tspan></text><text x="1646.7" y="-49.3">11:57<tspan x="1646.7" dy="10.1">4m00</tspan></text><text x="1687.1" y="-50.3">00:22<tspan x="1687.1" dy="10.1">4m10</tspan></text><text x="1727.5" y="-51.3">12:47<tspan x="1727.5" dy="10.1">4m00</tspan></text><text x="1767.9" y="-52.3">01:13<tspan x="1767.9" dy="10.1">4m20</tspan></text><text x="1808.3" y="-53.1">13:38<tspan x="1808.3" dy="10.1">4m20</tspan></text><text x="1848.7" y="-53.8">02:03<tspan x="1848.7" dy="10.1">4m20</tspan></text><text x="1889.1" y="-54.3">14:28<tspan x="1889.1" dy="10.1">4m30</tspan></text><text x="1929.5" y="-54.6">02:54<tspan x="1929.5" dy="10.1">4m20</tspan></text><text x="1969.9" y="-54.7">15:19<tspan x="1969.9" dy="10.1">4m20</tspan></text><text x="2010.3" y="-54.6">03:44<tspan x="2010.3" dy="10.1">4m30</tspan></text><text x="2050.7" y="-54.2">16:09<tspan x="2050.7" dy="10.1">4m20</tspan></text><text x="2091.1" y="-53.7">04:34<tspan x="2091.1" dy="10.1">4m20</tspan></text><text x="2131.5" y="-53">17:00<tspan x="2131.5" dy="10.1">4m10</tspan></text><text x="2171.9" y="-52.1">05:25<tspan x="2171.9" dy="10.1">4m10</tspan></text><text x="2212.3" y="-51.2">17:50<tspan x="2212.3" dy="10.1">4m10</tspan></text><text x="10.4" y="43.7">0m80<tspan x="10.4" dy="10.1">12:55</tspan></text><text x="50.8" y="42.7">0m90<tspan x="50.8" dy="10.1">01:20</tspan></text><text x="91.2" y="41.8">1m00<tspan x="91.2" dy="10.1">13:45</tspan></text><text x="131.6" y="41">0m90<tspan x="131.6" dy="10.1">02:11</tspan></text><text x="172" y="40.5">1m00<tspan x="172" dy="10.1">14:36</tspan></text><text x="212.4" y="40.2">1m00<tspan x="212.4" dy="10.1">03:01</tspan></text><text x="252.8" y="40.2">1m00<tspan x="252.8" dy="10.1">15:26</tspan></text><text x="293.2" y="40.4">1m00<tspan x="293.2" dy="10.1">03:51</tspan></text><text x="333.6" y="40.9">1m00<tspan x="333.6" dy="10.1">16:17</tspan></text><text x="374" y="41.6">0m90<tspan x="374" dy="10.1">04:42</tspan></text><text x="414.4" y="42.4">0m90<tspan x="414.4" dy="10.1">17:07</tspan></text><text x="454.8" y="43.4">0m90<tspan x="454.8" dy="10.1">05:32</tspan></text><text x="495.2" y="44.5">0m80<tspan x="495.2" dy="10.1">17:58</tspan></text><text x="535.6" y="45.7">0m80<tspan x="535.6" dy="10.1">06:23</tspan></text><text x="576" y="46.8">0m80<tspan x="576" dy="10.1">18:48</tspan></text><text x="616.4" y="47.9">0m60<tspan x="616.4" dy="10.1">07:13</tspan></text><text x="656.8" y="48.8">0m60<tspan x="656.8" dy="10.1">19:39</tspan></text><text x="697.2" y="49.6">0m60<tspan x="697.2" dy="10.1">08:04</tspan></text><text x="737.7" y="50.2">0m60<tspan x="737.7" dy="10.1">20:29</tspan></text><text x="778.1" y="50.5">0m60<tspan x="778.1" dy="10.1">08:54</tspan></text><text x="818.5" y="50.6">0m60<tspan x="818.5" dy="10.1">21:20</tspan></text><text x="858.9" y="50.4">0m50<tspan x="858.9" dy="10.1">09:45</tspan></text><text x="899.3" y="50">0m60<tspan x="899.3" dy="10.1">22:10</tspan></text><text x="939.7" y="49.4">0m60<tspan x="939.7" dy="10.1">10:35</tspan></text><text x="980.1" y="48.6">0m60<tspan x="980.1" dy="10.1">23:00</tspan></text><text x="1020.5" y="47.6">0m70<tspan x="1020.5" dy="10.1">11:26</tspan></text><text x="1060.9" y="46.6">0m80<tspan x="1060.9" dy="10.1">23:51</tspan></text><text x="1101.3" y="45.4">0m70<tspan x="1101.3" dy="10.1">12:16</tspan></text><text x="1141.7" y="44.3">0m80<tspan x="1141.7" dy="10.1">00:41</tspan></text><text x="1182.1" y="43.2">0m90<tspan x="1182.1" dy="10.1">13:07</tspan></text><text x="1222.5" y="42.2">0m90<tspan x="1222.5" dy="10.1">01:32</tspan></text><text x="1262.9" y="41.4">0m90<tspan x="1262.9" dy="10.1">13:57</tspan></text><text x="1303.3" y="40.8">1m00<tspan x="1303.3" dy="10.1">02:22</tspan></text><text x="1343.7" y="40.4">1m00<tspan x="1343.7" dy="10.1">14:48</tspan></text><text x="1384.1" y="40.2">1m00<tspan x="1384.1" dy="10.1">03:13</tspan></text><text x="1424.5" y="40.3">1m00<tspan x="1424.5" dy="10.1">15:38</tspan></text><text x="1464.9" y="40.6">1m00<tspan x="1464.9" dy="10.1">04:03</tspan></text><text x="1505.3" y="41.2">1m00<tspan x="1505.3" dy="10.1">16:29</tspan></text><text x="1545.7" y="42">1m00<tspan x="1545.7" dy="10.1">04:54</tspan></text><text x="1586.1" y="42.9">0m90<tspan x="1586.1" dy="10.1">17:19</tspan></text><text x="1626.5" y="43.9">0m80<tspan x="1626.5" dy="10.1">05:44</tspan></text><text x="1666.9" y="45.1">0m80<tspan x="1666.9" dy="10.1">18:09</tspan></text><text x="1707.3" y="46.2">0m70<tspan x="1707.3" dy="10.1">06:35</tspan></text><text x="1747.7" y="47.3">0m70<tspan x="1747.7" dy="10.1">19:00</tspan></text><text x="1788.1" y="48.3">0m70<tspan x="1788.1" dy="10.1">07:25</tspan></text><text x="1828.5" y="49.2">0m60<tspan x="1828.5" dy="10.1">19:50</tspan></text><text x="1868.9" y="49.9">0m60<tspan x="1868.9" dy="10.1">08:16</tspan></text><text x="1909.3" y="50.3">0m60<tspan x="1909.3" dy="10.1">20:41</tspan></text><text x="1949.7" y="50.6">0m50<tspan x="1949.7" dy="10.1">09:06</tspan></text><text x="1990.1" y="50.6">0m60<tspan x="1990.1" dy="10.1">21:31</tspan></text><text x="2030.5" y="50.3">0m60<tspan x="2030.5" dy="10.1">09:57</tspan></text><text x="2070.9" y="49.8">0m60<tspan x="2070.9" dy="10.1">22:22</tspan></text><text x="2111.3" y="49.1">0m60<tspan x="2111.3" dy="10.1">10:47</tspan></text><text x="2151.7" y="48.2">0m70<tspan x="2151.7" dy="10.1">23:12</tspan></text><text x="2192.1" y="47.1">0m70<tspan x="2192.1" dy="10.1">11:38</tspan></text><text x="2232.6" y="46">0m80<tspan x="2232.6" dy="10.1">00:03</tspan></text></g>
<g class="d" transform="scale(0.62 1)"><text x="-11.8" y="-62">D 1</text><text x="85.3" y="-60.2">F 2</text><text x="182.4" y="-58.9">S 3</text><text x="279.5" y="-58.4">S 4</text><text x="376.6" y="-58.8">M 5</text><text x="473.7" y="-60">D 6</text><text x="570.8" y="-61.7">M 7</text><text x="619.4" y="-62.7">D 8</text><text x="716.5" y="-64.7">F 9</text><text x="813.5" y="-66.4">S 10</text><text x="910.6" y="-67.4">S 11</text><text x="1007.7" y="-67.6">M 12</text><text x="1104.8" y="-66.9">D 13</text><text x="1201.9" y="-65.4">M 14</text><text x="1299" y="-63.5">D 15</text><text x="1396.1" y="-61.5">F 16</text><text x="1493.2" y="-59.8">S 17</text><text x="1590.3" y="-58.7">S 18</text><text x="1687.4" y="-58.4">M 19</text><text x="1784.5" y="-59">D 20</text><text x="1881.6" y="-60.4">M 21</text><text x="1978.7" y="-62.2">D 22</text><text x="2027.3" y="-63.2">F 23</text><text x="2124.4" y="-65.2">S 24</text><text x="2221.5" y="-66.7">S 25</text><text x="2318.5" y="-67.5">M 26</text><text x="2415.6" y="-67.5">D 27</text><text x="2512.7" y="-66.6">M 28</text><text x="2609.8" y="-65">D 29</text><text x="12.5" y="72.7">D 1</text><text x="61" y="71.7">F 2</text><text x="158.1" y="70">S 3</text><text x="255.2" y="69.2">S 4</text><text x="352.3" y="69.4">M 5</text><text x="449.4" y="70.6">D 6</text><text x="546.5" y="72.4">M 7</text><text x="643.6" y="74.7">D 8</text><text x="740.7" y="76.9">F 9</text><text x="837.8" y="78.6">S 10</text><text x="934.9" y="79.5">S 11</text><text x="1032" y="79.4">M 12</text><text x="1129.1" y="78.4">D 13</text><text x="1226.2" y="76.6">M 14</text><text x="1323.3" y="74.4">D 15</text><text x="1371.9" y="73.3">F 16</text><text x="1469" y="71.2">S 17</text><text x="1566" y="69.8">S 18</text><text x="1663.1" y="69.2">M 19</text><text x="1760.2" y="69.6">D 20</text><text x="1857.3" y="71">M 21</text><text x="1954.4" y="72.9">D 22</text><text x="2051.5" y="75.2">F 23</text><text x="2148.6" y="77.3">S 24</text><text x="2245.7" y="78.9">S 25</text><text x="2342.8" y="79.6">M 26</text><text x="2439.9" y="79.3">D 27</text><text x="2537" y="78.1">M 28</text><text x="2634.1" y="76.1">D 29</text></g>
<g class="h" transform="scale(0.63 1)"><text x="-50.3" y="-53.4" text-anchor="end">HOCHWASSER</text><text x="-23.5" y="-53.4" text-anchor="end">ZEIT</text><text x="-23.5" y="-43.5" text-anchor="end">HÖHE</text><text x="-32.4" y="47.3" text-anchor="end">NIEDRIGWASSER</text><text x="-0.8" y="47.3" text-anchor="end">HÖHE</text><text x="-0.8" y="57.7" text-anchor="end">ZEIT</text></g>
</g>
<text class="mo" x="422" y="313.7" text-anchor="middle" letter-spacing="0.5">MÄRZ</text>
<g class="pr" transform="translate(229 333.6) scale(0.2233)">
<path class="z" d="M0 -28.8 15.1 22.7 30.1 -27 45.2 22.7 60.2 -27.5 75.2 20.2 90.3 -25.3 105.4 19.7 120.4 -25.1 135.5 20.1 150.5 -25 165.6 18.1 180.6 -23.4 195.7 18.2 210.7 -24.6 225.8 19.3 240.8 -23.9 255.9 18 270.9 -24 286 18.8 301 -25.6 316.1 20.5 331.1 -24.8 346.2 19.9 361.2 -26.6 376.3 21.3 391.3 -27.6 406.4 23.3 421.4 -27.6 436.5 23 451.5 -30 466.6 24.5 481.6 -29.9 496.7 26.5 511.7 -31 526.8 26 541.8 -32.6 556.9 27.2 571.9 -31.8 586.9 28.8 602 -33.5 617 27.6 632.1 -33.2 647.1 28.3 662.2 -32.6 677.2 29.1 692.3 -33.7 707.4 27.2 722.4 -31.9 737.5 27.2 752.5 -32 767.5 27.3 782.6 -31.5 797.6 24.9 812.7 -29.4 827.8 24.5 842.8 -29.9 857.9 24.3 872.9 -27.9 888 21.7 903 -26.9 918 21.2 933.1 -27 948.1 21.2 963.2 -24.7 978.2 18.9 993.3 -25.2 1008.4 18.9 1023.4 -24.5 1038.5 19.4 1053.5 -23.4 1068.5 17.7 1083.6 -24.8 1098.7 18.4 1113.7 -23.7 1128.8 19.6 1143.8 -24.5 1158.8 18.6 1173.9 -25.7 1189 20 1204 -25.1 1219 21.7 1234.1 -27.4 1249.2 21.2 1264.2 -27.7 1279.2 23 1294.3 -28.3 1309.3 24.9 1324.4 -30.5 1339.5 24.4 1354.5 -30 1369.5 26.1 1384.6 -31.8 1399.7 27.8 1414.7 -32.6 1429.8 26.9 1444.8 -32.1 1459.9 28.1 1474.9 -33.8 1490 29.1 1505 -32.8 1520 27.6 1535.1 -32.9 1550.2 28.1 1565.2 -33.4 1580.2 28.4 1595.3 -31.5 1610.4 26.2 1625.4 -32 1640.5 26.1 1655.5 -30.7 1670.5 25.9 1685.6 -29.1 1700.7 23.3 1715.7 -29.5 1730.8 23 1745.8 -27.1 1760.9 22.6 1775.9 -26.8 1791 20.1"/>
<path class="y" d="M-2.7 0H1791"/>
<circle cx="131.2" cy="-28.8" r="7.5" fill="#fff" stroke="#111" stroke-width="1.4"/><path d="M131.2 -37a8.2 8.2 0 0 1 0 16.4z" fill="#111"/>
<circle cx="538.4" cy="-31.2" r="8.2" fill="#111"/>
<circle cx="945.5" cy="-29.2" r="7.5" fill="#fff" stroke="#111" stroke-width="1.4"/><path d="M945.5 -37.4a8.2 8.2 0 0 0 0 16.4z" fill="#111"/>
<circle cx="1410.8" cy="-31.3" r="7.4" fill="none" stroke="#111" stroke-width="1.6"/>
<path class="dt" d="M-7.3 -60.7l27.5 0.9M22.8 -59.6l18 0.6M52.9 -58.7l27.5 0.8M83 -57.8l18 0.4M113.1 -57.1l27.5 0.5M143.2 -56.5l18 0.2M173.3 -56.2l27.5 0.1M203.4 -56l18 0M233.5 -56.1l27.5 -0.3M263.6 -56.4l18 -0.3M293.7 -56.9l27.5 -0.6M323.8 -57.5l18 -0.5M353.9 -58.4l27.5 -0.9M384 -59.3l18 -0.6M414.1 -60.3l27.5 -0.9M444.2 -61.3l27.5 -0.9M474.3 -62.3l18 -0.5M504.4 -63.2l27.5 -0.7M534.5 -63.9l18 -0.4M564.6 -64.5l27.5 -0.4M594.7 -65l18 -0.1M624.8 -65.2l27.5 0M654.9 -65.2l18 0.1M685 -64.9l27.5 0.4M715.1 -64.5l18 0.4M745.2 -63.9l27.5 0.7M775.3 -63.1l18 0.5M805.4 -62.2l27.5 0.9M835.5 -61.2l18 0.6M865.6 -60.2l27.5 0.9M895.7 -59.2l18 0.6M925.8 -58.3l27.5 0.7M955.9 -57.5l18 0.4M986 -56.8l27.5 0.4M1016.1 -56.3l18 0.2M1046.2 -56.1l27.5 0M1076.3 -56l18 -0.1M1106.4 -56.2l27.5 -0.4M1136.5 -56.6l18 -0.3M1166.6 -57.2l27.5 -0.7M1196.7 -57.9l18 -0.5M1226.8 -58.8l27.5 -0.9M1256.9 -59.7l18 -0.6M1287 -60.8l27.5 -0.9M1317.1 -61.8l27.5 -0.9M1347.2 -62.7l18 -0.5M1377.3 -63.5l27.5 -0.6M1407.4 -64.2l18 -0.3M1437.5 -64.8l27.5 -0.3M1467.6 -65.1l18 -0.1M1497.7 -65.2l27.5 0.1M1527.8 -65.1l18 0.2M1557.9 -64.8l27.5 0.5M1588 -64.2l18 0.4M1618.1 -63.5l27.5 0.8M1648.2 -62.7l18 0.6M1678.3 -61.7l27.5 0.9M1708.4 -60.7l18 0.6M1738.5 -59.7l27.5 0.9M1768.6 -58.7l18 0M7.8 57.6l27 -1M37.9 56.5l27 -0.9M68 55.4l17.5 -0.5M98.1 54.5l27 -0.7M128.2 53.8l17.5 -0.3M158.2 53.3l27 -0.3M188.4 53l17.5 0M218.5 52.9l27 0.2M248.6 53.1l17.5 0.3M278.7 53.6l27 0.6M308.8 54.2l17.5 0.5M338.9 55.1l27 0.9M369 56.1l17.5 0.6M399.1 57.2l27 1M429.2 58.3l17.5 0.7M459.2 59.4l27 1M489.4 60.5l17.5 0.6M519.5 61.5l27 0.7M549.6 62.2l17.5 0.3M579.6 62.8l27 0.3M609.8 63.2l17.5 0.1M639.9 63.3l27 -0.1M670 63.2l17.5 -0.2M700.1 62.8l27 -0.5M730.2 62.2l17.5 -0.5M760.2 61.4l27 -0.9M790.4 60.4l17.5 -0.6M820.5 59.3l27 -1M850.6 58.2l27 -1M880.7 57.1l17.5 -0.6M910.8 56l27 -0.9M940.9 55l17.5 -0.5M971 54.1l27 -0.6M1001.1 53.5l17.5 -0.2M1031.2 53.1l27 -0.2M1061.2 52.9l17.5 0M1091.4 53l27 0.3M1121.5 53.3l17.5 0.3M1151.5 53.8l27 0.7M1181.7 54.6l17.5 0.5M1211.8 55.5l27 0.9M1241.9 56.6l17.5 0.7M1272 57.7l27 1M1302 58.8l17.5 0.6M1332.2 60l27 0.9M1362.2 61l17.5 0.5M1392.4 61.8l27 0.6M1422.5 62.5l17.5 0.3M1452.6 63l27 0.2M1482.7 63.3l17.5 0M1512.8 63.3l27 -0.2M1542.9 63l17.5 -0.3M1573 62.5l27 -0.6M1603.1 61.8l17.5 -0.5M1633.2 60.9l27 -0.9M1663.2 59.9l17.5 -0.6M1693.4 58.8l27 -1M1723.5 57.7l27 -1M1753.6 56.5l17.5 -0.6M1783.7 55.5l17.5 0"/>
<g class="w" transform="scale(0.745 1)"><text x="-9.8" y="-50.2">06:15<tspan x="-9.8" dy="10.1">4m00</tspan></text><text x="30.6" y="-49.1">18:41<tspan x="30.6" dy="10.1">3m90</tspan></text><text x="71" y="-48.2">07:06<tspan x="71" dy="10.1">4m00</tspan></text><text x="111.4" y="-47.3">19:31<tspan x="111.4" dy="10.1">3m90</tspan></text><text x="151.8" y="-46.6">07:56<tspan x="151.8" dy="10.1">3m90</tspan></text><text x="192.2" y="-46">20:22<tspan x="192.2" dy="10.1">3m90</tspan></text><text x="232.6" y="-45.7">08:47<tspan x="232.6" dy="10.1">3m80</tspan></text><text x="273" y="-45.5">21:12<tspan x="273" dy="10.1">3m80</tspan></text><text x="313.4" y="-45.6">09:37<tspan x="313.4" dy="10.1">3m80</tspan></text><text x="353.8" y="-45.9">22:03<tspan x="353.8" dy="10.1">3m80</tspan></text><text x="394.2" y="-46.4">10:28<tspan x="394.2" dy="10.1">3m90</tspan></text><text x="434.6" y="-47">22:53<tspan x="434.6" dy="10.1">3m80</tspan></text><text x="475" y="-47.9">11:18<tspan x="475" dy="10.1">3m90</tspan></text><text x="515.4" y="-48.8">23:43<tspan x="515.4" dy="10.1">4m00</tspan></text><text x="555.8" y="-49.8">12:09<tspan x="555.8" dy="10.1">4m00</tspan></text><text x="596.2" y="-50.8">00:34<tspan x="596.2" dy="10.1">4m10</tspan></text><text x="636.6" y="-51.8">12:59<tspan x="636.6" dy="10.1">4m10</tspan></text><text x="677" y="-52.7">01:24<tspan x="677" dy="10.1">4m10</tspan></text><text x="717.4" y="-53.4">13:50<tspan x="717.4" dy="10.1">4m20</tspan></text><text x="757.9" y="-54">02:15<tspan x="757.9" dy="10.1">4m20</tspan></text><text x="798.3" y="-54.5">14:40<tspan x="798.3" dy="10.1">4m30</tspan></text><text x="838.7" y="-54.7">03:05<tspan x="838.7" dy="10.1">4m20</tspan></text><text x="879.1" y="-54.7">15:31<tspan x="879.1" dy="10.1">4m20</tspan></text><text x="919.5" y="-54.4">03:56<tspan x="919.5" dy="10.1">4m30</tspan></text><text x="959.9" y="-54">16:21<tspan x="959.9" dy="10.1">4m20</tspan></text><text x="1000.3" y="-53.4">04:46<tspan x="1000.3" dy="10.1">4m20</tspan></text><text x="1040.7" y="-52.6">17:12<tspan x="1040.7" dy="10.1">4m20</tspan></text><text x="1081.1" y="-51.7">05:37<tspan x="1081.1" dy="10.1">4m10</tspan></text><text x="1121.5" y="-50.7">18:02<tspan x="1121.5" dy="10.1">4m10</tspan></text><text x="1161.9" y="-49.7">06:27<tspan x="1161.9" dy="10.1">4m00</tspan></text><text x="1202.3" y="-48.7">18:52<tspan x="1202.3" dy="10.1">3m90</tspan></text><text x="1242.7" y="-47.8">07:18<tspan x="1242.7" dy="10.1">3m90</tspan></text><text x="1283.1" y="-47">19:43<tspan x="1283.1" dy="10.1">3m80</tspan></text><text x="1323.5" y="-46.3">08:08<tspan x="1323.5" dy="10.1">3m90</tspan></text><text x="1363.9" y="-45.8">20:33<tspan x="1363.9" dy="10.1">3m80</tspan></text><text x="1404.3" y="-45.6">08:59<tspan x="1404.3" dy="10.1">3m80</tspan></text><text x="1444.7" y="-45.5">21:24<tspan x="1444.7" dy="10.1">3m80</tspan></text><text x="1485.1" y="-45.7">09:49<tspan x="1485.1" dy="10.1">3m80</tspan></text><text x="1525.5" y="-46.1">22:14<tspan x="1525.5" dy="10.1">3m80</tspan></text><text x="1565.9" y="-46.7">10:40<tspan x="1565.9" dy="10.1">3m90</tspan></text><text x="1606.3" y="-47.4">23:05<tspan x="1606.3" dy="10.1">3m80</tspan></text><text x="1646.7" y="-48.3">11:30<tspan x="1646.7" dy="10.1">4m00</tspan></text><text x="1687.1" y="-49.2">23:55<tspan x="1687.1" dy="10.1">4m00</tspan></text><text x="1727.5" y="-50.3">12:21<tspan x="1727.5" dy="10.1">4m00</tspan></text><text x="1767.9" y="-51.3">00:46<tspan x="1767.9" dy="10.1">4m10</tspan></text><text x="1808.3" y="-52.2">13:11<tspan x="1808.3" dy="10.1">4m10</tspan></text><text x="1848.7" y="-53">01:36<tspan x="1848.7" dy="10.1">4m20</tspan></text><text x="1889.1" y="-53.7">14:02<tspan x="1889.1" dy="10.1">4m20</tspan></text><text x="1929.5" y="-54.3">02:27<tspan x="1929.5" dy="10.1">4m20</tspan></text><text x="1969.9" y="-54.6">14:52<tspan x="1969.9" dy="10.1">4m30</tspan></text><text x="2010.3" y="-54.7">03:17<tspan x="2010.3" dy="10.1">4m20</tspan></text><text x="2050.7" y="-54.6">15:42<tspan x="2050.7" dy="10.1">4m20</tspan></text><text x="2091.1" y="-54.3">04:08<tspan x="2091.1" dy="10.1">4m30</tspan></text><text x="2131.5" y="-53.7">16:33<tspan x="2131.5" dy="10.1">4m20</tspan></text><text x="2171.9" y="-53">04:58<tspan x="2171.9" dy="10.1">4m20</tspan></text><text x="2212.3" y="-52.2">17:23<tspan x="2212.3" dy="10.1">4m10</tspan></text><text x="2252.8" y="-51.2">05:49<tspan x="2252.8" dy="10.1">4m00</tspan></text><text x="2293.2" y="-50.2">18:14<tspan x="2293.2" dy="10.1">4m10</tspan></text><text x="2333.6" y="-49.2">06:39<tspan x="2333.6" dy="10.1">3m90</tspan></text><text x="2374" y="-48.2">19:04<tspan x="2374" dy="10.1">3m90</tspan></text><text x="10.4" y="44.9">0m80<tspan x="10.4" dy="10.1">12:28</tspan></text><text x="50.8" y="43.8">0m90<tspan x="50.8" dy="10.1">00:53</tspan></text><text x="91.2" y="42.7">0m90<tspan x="91.2" dy="10.1">13:18</tspan></text><text x="131.6" y="41.8">0m90<tspan x="131.6" dy="10.1">01:44</tspan></text><text x="172" y="41.1">1m00<tspan x="172" dy="10.1">14:09</tspan></text><text x="212.4" y="40.6">1m00<tspan x="212.4" dy="10.1">02:34</tspan></text><text x="252.8" y="40.3">1m00<tspan x="252.8" dy="10.1">14:59</tspan></text><text x="293.2" y="40.2">1m00<tspan x="293.2" dy="10.1">03:25</tspan></text><text x="333.6" y="40.4">1m00<tspan x="333.6" dy="10.1">15:50</tspan></text><text x="374" y="40.9">1m00<tspan x="374" dy="10.1">04:15</tspan></text><text x="414.4" y="41.5">1m00<tspan x="414.4" dy="10.1">16:40</tspan></text><text x="454.8" y="42.4">0m90<tspan x="454.8" dy="10.1">05:06</tspan></text><text x="495.2" y="43.4">0m90<tspan x="495.2" dy="10.1">17:31</tspan></text><text x="535.6" y="44.5">0m90<tspan x="535.6" dy="10.1">05:56</tspan></text><text x="576" y="45.6">0m70<tspan x="576" dy="10.1">18:21</tspan></text><text x="616.4" y="46.7">0m70<tspan x="616.4" dy="10.1">06:47</tspan></text><text x="656.8" y="47.8">0m70<tspan x="656.8" dy="10.1">19:12</tspan></text><text x="697.2" y="48.8">0m60<tspan x="697.2" dy="10.1">07:37</tspan></text><text x="737.7" y="49.5">0m60<tspan x="737.7" dy="10.1">20:02</tspan></text><text x="778.1" y="50.1">0m60<tspan x="778.1" dy="10.1">08:28</tspan></text><text x="818.5" y="50.5">0m50<tspan x="818.5" dy="10.1">20:53</tspan></text><text x="858.9" y="50.6">0m60<tspan x="858.9" dy="10.1">09:18</tspan></text><text x="899.3" y="50.5">0m60<tspan x="899.3" dy="10.1">21:43</tspan></text><text x="939.7" y="50.1">0m60<tspan x="939.7" dy="10.1">10:08</tspan></text><text x="980.1" y="49.5">0m60<tspan x="980.1" dy="10.1">22:34</tspan></text><text x="1020.5" y="48.7">0m70<tspan x="1020.5" dy="10.1">10:59</tspan></text><text x="1060.9" y="47.7">0m70<tspan x="1060.9" dy="10.1">23:24</tspan></text><text x="1101.3" y="46.6">0m70<tspan x="1101.3" dy="10.1">11:49</tspan></text><text x="1141.7" y="45.5">0m80<tspan x="1141.7" dy="10.1">00:15</tspan></text><text x="1182.1" y="44.4">0m80<tspan x="1182.1" dy="10.1">12:40</tspan></text><text x="1222.5" y="43.3">0m90<tspan x="1222.5" dy="10.1">01:05</tspan></text><text x="1262.9" y="42.3">0m90<tspan x="1262.9" dy="10.1">13:30</tspan></text><text x="1303.3" y="41.4">0m90<tspan x="1303.3" dy="10.1">01:56</tspan></text><text x="1343.7" y="40.8">1m00<tspan x="1343.7" dy="10.1">14:21</tspan></text><text x="1384.1" y="40.4">1m00<tspan x="1384.1" dy="10.1">02:46</tspan></text><text x="1424.5" y="40.2">1m00<tspan x="1424.5" dy="10.1">15:11</tspan></text><text x="1464.9" y="40.3">1m00<tspan x="1464.9" dy="10.1">03:37</tspan></text><text x="1505.3" y="40.6">1m00<tspan x="1505.3" dy="10.1">16:02</tspan></text><text x="1545.7" y="41.1">0m90<tspan x="1545.7" dy="10.1">04:27</tspan></text><text x="1586.1" y="41.9">0m90<tspan x="1586.1" dy="10.1">16:52</tspan></text><text x="1626.5" y="42.8">0m90<tspan x="1626.5" dy="10.1">05:17</tspan></text><text x="1666.9" y="43.9">0m80<tspan x="1666.9" dy="10.1">17:43</tspan></text><text x="1707.3" y="45">0m80<tspan x="1707.3" dy="10.1">06:08</tspan></text><text x="1747.7" y="46.1">0m80<tspan x="1747.7" dy="10.1">18:33</tspan></text><text x="1788.1" y="47.3">0m70<tspan x="1788.1" dy="10.1">06:58</tspan></text><text x="1828.5" y="48.3">0m70<tspan x="1828.5" dy="10.1">19:24</tspan></text><text x="1868.9" y="49.1">0m70<tspan x="1868.9" dy="10.1">07:49</tspan></text><text x="1909.3" y="49.8">0m60<tspan x="1909.3" dy="10.1">20:14</tspan></text><text x="1949.7" y="50.3">0m60<tspan x="1949.7" dy="10.1">08:39</tspan></text><text x="1990.1" y="50.6">0m60<tspan x="1990.1" dy="10.1">21:05</tspan></text><text x="2030.5" y="50.6">0m50<tspan x="2030.5" dy="10.1">09:30</tspan></text><text x="2070.9" y="50.3">0m60<tspan x="2070.9" dy="10.1">21:55</tspan></text><text x="2111.3" y="49.8">0m60<tspan x="2111.3" dy="10.1">10:20</tspan></text><text x="2151.7" y="49.1">0m60<tspan x="2151.7" dy="10.1">22:46</tspan></text><text x="2192.1" y="48.2">0m70<tspan x="2192.1" dy="10.1">11:11</tspan></text><text x="2232.6" y="47.2">0m70<tspan x="2232.6" dy="10.1">23:36</tspan></text><text x="2273" y="46.1">0m70<tspan x="2273" dy="10.1">12:01</tspan></text><text x="2313.4" y="45">0m80<tspan x="2313.4" dy="10.1">00:26</tspan></text><text x="2353.8" y="43.8">0m90<tspan x="2353.8" dy="10.1">12:52</tspan></text><text x="2394.2" y="42.8">0m90<tspan x="2394.2" dy="10.1">01:17</tspan></text></g>
<g class="d" transform="scale(0.62 1)"><text x="-11.8" y="-63.1">F 1</text><text x="85.3" y="-61.1">S 2</text><text x="182.4" y="-59.5">S 3</text><text x="279.5" y="-58.6">M 4</text><text x="376.6" y="-58.5">D 5</text><text x="473.7" y="-59.3">M 6</text><text x="570.8" y="-60.8">D 7</text><text x="667.9" y="-62.7">F 8</text><text x="716.5" y="-63.7">S 9</text><text x="813.5" y="-65.6">S 10</text><text x="910.6" y="-66.9">M 11</text><text x="1007.7" y="-67.6">D 12</text><text x="1104.8" y="-67.3">M 13</text><text x="1201.9" y="-66.3">D 14</text><text x="1299" y="-64.6">F 15</text><text x="1396.1" y="-62.6">S 16</text><text x="1493.2" y="-60.7">S 17</text><text x="1590.3" y="-59.2">M 18</text><text x="1687.4" y="-58.5">D 19</text><text x="1784.5" y="-58.6">M 20</text><text x="1881.6" y="-59.6">D 21</text><text x="1978.7" y="-61.2">F 22</text><text x="2075.8" y="-63.2">S 23</text><text x="2124.4" y="-64.2">S 24</text><text x="2221.5" y="-65.9">M 25</text><text x="2318.5" y="-67.2">D 26</text><text x="2415.6" y="-67.6">M 27</text><text x="2512.7" y="-67.2">D 28</text><text x="2609.8" y="-65.9">F 29</text><text x="2706.9" y="-64.1">S 30</text><text x="2804" y="-62.1">S 31</text><text x="12.5" y="73.9">F 1</text><text x="61" y="72.8">S 2</text><text x="158.1" y="70.8">S 3</text><text x="255.2" y="69.6">M 4</text><text x="352.3" y="69.2">D 5</text><text x="449.4" y="69.9">M 6</text><text x="546.5" y="71.4">D 7</text><text x="643.6" y="73.5">F 8</text><text x="740.7" y="75.7">S 9</text><text x="837.8" y="77.8">S 10</text><text x="934.9" y="79.1">M 11</text><text x="1032" y="79.6">D 12</text><text x="1129.1" y="79.1">M 13</text><text x="1226.2" y="77.7">D 14</text><text x="1323.3" y="75.6">F 15</text><text x="1371.9" y="74.5">S 16</text><text x="1469" y="72.3">S 17</text><text x="1566" y="70.4">M 18</text><text x="1663.1" y="69.4">D 19</text><text x="1760.2" y="69.3">M 20</text><text x="1857.3" y="70.1">D 21</text><text x="1954.4" y="71.8">F 22</text><text x="2051.5" y="74">S 23</text><text x="2148.6" y="76.3">S 24</text><text x="2245.7" y="78.1">M 25</text><text x="2342.8" y="79.3">D 26</text><text x="2439.9" y="79.6">M 27</text><text x="2537" y="78.8">D 28</text><text x="2634.1" y="77.2">F 29</text><text x="2731.2" y="75.1">S 30</text><text x="2779.8" y="74">S 31</text></g>
<g class="h" transform="scale(0.63 1)"><text x="-50.3" y="-53.4" text-anchor="end">HOCHWASSER</text><text x="-23.5" y="-53.4" text-anchor="end">ZEIT</text><text x="-23.5" y="-43.5" text-anchor="end">HÖHE</text><text x="-32.4" y="47.3" text-anchor="end">NIEDRIGWASSER</text><text x="-0.8" y="47.3" text-anchor="end">HÖHE</text><text x="-0.8" y="57.7" text-anchor="end">ZEIT</text></g>
</g>
<text class="mo" x="413.4" y="356.7" text-anchor="middle" letter-spacing="0.5">APRIL</text>
<g class="pr" transform="translate(229 376.6) scale(0.2233)">
<path class="z" d="M0 -25.3 15.1 20.9 30.1 -25.2 45.2 18.7 60.2 -25 75.2 18.4 90.3 -23.4 105.4 19.3 120.4 -24.7 135.5 17.8 150.5 -23.8 165.6 18.3 180.6 -24 195.7 19.9 210.7 -25.5 225.8 19.1 240.8 -24.8 255.9 20.2 270.9 -26.6 286 22.3 301 -27.4 316.1 21.9 331.1 -27.6 346.2 23.3 361.2 -30 376.3 25.5 391.3 -29.8 406.4 25.1 421.4 -31 436.5 26.3 451.5 -32.5 466.6 28.2 481.6 -31.7 496.7 27.3 511.7 -33.5 526.8 28 541.8 -33.1 556.9 29.2 571.9 -32.7 586.9 27.7 602 -33.7 617 27.7 632.1 -31.9 647.1 28.2 662.2 -32.1 677.2 26 692.3 -31.5 707.4 25.5 722.4 -29.5 737.5 25.5 752.5 -30 767.5 22.9 782.6 -27.9 797.6 22.3 812.7 -27 827.8 22.2 842.8 -27 857.9 19.8 872.9 -24.7 888 19.5 903 -25.3 918 19.8 933.1 -24.5 948.1 17.9 963.2 -23.5 978.2 18.2 993.3 -24.8 1008.4 19.3 1023.4 -23.6 1038.5 18.1 1053.5 -24.6 1068.5 19.1 1083.6 -25.6 1098.7 20.8 1113.7 -25.1 1128.8 20.2 1143.8 -27.4 1158.8 21.7 1173.9 -27.5 1189 23.8 1204 -28.3 1219 23.4 1234.1 -30.4 1249.2 25 1264.2 -30 1279.2 26.9 1294.3 -31.8 1309.3 26.3 1324.4 -32.5 1339.5 27.5 1354.5 -32.1 1369.5 28.9 1384.6 -33.8 1399.7 27.7 1414.7 -32.8 1429.8 28.3 1444.8 -33 1459.9 28.9 1474.9 -33.4 1490 27 1505 -31.5 1520 26.9 1535.1 -32.1 1550.2 27 1565.2 -30.7 1580.2 24.5 1595.3 -29.2 1610.4 24.1 1625.4 -29.5 1640.5 23.8 1655.5 -27.2 1670.5 21.2 1685.6 -26.9 1700.7 20.9 1715.7 -26.3 1730.8 20.8"/>
<path class="y" d="M-2.7 0H1730.8"/>
<circle cx="70.1" cy="-28.6" r="7.5" fill="#fff" stroke="#111" stroke-width="1.4"/><path d="M70.1 -36.8a8.2 8.2 0 0 1 0 16.4z" fill="#111"/>
<circle cx="419.1" cy="-30.9" r="8.2" fill="#111"/>
<circle cx="826.2" cy="-29.5" r="7.5" fill="#fff" stroke="#111" stroke-width="1.4"/><path d="M826.2 -37.7a8.2 8.2 0 0 0 0 16.4z" fill="#111"/>
<circle cx="1349.6" cy="-31.5" r="7.4" fill="none" stroke="#111" stroke-width="1.6"/>
<path class="dt" d="M-7.3 -57.9l27.5 0.7M22.8 -57.1l18 0.3M52.9 -56.5l27.5 0.3M83 -56.2l18 0.1M113.1 -56l27.5 -0.1M143.2 -56.1l18 -0.2M173.3 -56.3l27.5 -0.4M203.4 -56.8l18 -0.4M233.5 -57.5l27.5 -0.7M263.6 -58.3l18 -0.6M293.7 -59.2l27.5 -0.9M323.8 -60.2l27.5 -0.9M353.9 -61.2l18 -0.6M384 -62.2l27.5 -0.8M414.1 -63.1l18 -0.5M444.2 -63.9l27.5 -0.6M474.3 -64.5l18 -0.3M504.4 -64.9l27.5 -0.2M534.5 -65.2l18 0M564.6 -65.2l27.5 0.2M594.7 -65l18 0.3M624.8 -64.5l27.5 0.6M654.9 -63.9l18 0.5M685 -63.1l27.5 0.8M715.1 -62.2l18 0.6M745.2 -61.2l27.5 0.9M775.3 -60.2l18 0.6M805.4 -59.2l27.5 0.8M835.5 -58.3l18 0.5M865.6 -57.5l27.5 0.6M895.7 -56.8l18 0.3M925.8 -56.3l27.5 0.3M955.9 -56.1l18 0M986 -56l27.5 -0.1M1016.1 -56.2l18 -0.2M1046.2 -56.5l27.5 -0.5M1076.3 -57.1l18 -0.4M1106.4 -57.9l27.5 -0.8M1136.5 -58.7l18 -0.6M1166.6 -59.7l27.5 -0.9M1196.7 -60.7l27.5 -0.9M1226.8 -61.7l18 -0.6M1256.9 -62.6l27.5 -0.8M1287 -63.5l18 -0.4M1317.1 -64.2l27.5 -0.5M1347.2 -64.7l18 -0.2M1377.3 -65.1l27.5 -0.1M1407.4 -65.2l18 0.1M1437.5 -65.1l27.5 0.3M1467.6 -64.8l18 0.3M1497.7 -64.3l27.5 0.6M1527.8 -63.6l18 0.5M1557.9 -62.7l27.5 0.9M1588 -61.8l18 0.6M1618.1 -60.8l27.5 0.9M1648.2 -59.8l18 0.6M1678.3 -58.8l27.5 0.8M1708.4 -57.9l18 0M7.8 54.6l27 -0.7M37.9 53.8l27 -0.5M68 53.3l17.5 -0.2M98.1 53l27 -0.1M128.2 52.9l17.5 0.1M158.2 53.1l27 0.4M188.4 53.5l17.5 0.4M218.5 54.2l27 0.8M248.6 55l17.5 0.6M278.7 56l27 1M308.8 57.1l17.5 0.7M338.9 58.2l27 1M369 59.4l17.5 0.6M399.1 60.4l27 0.9M429.2 61.4l17.5 0.5M459.2 62.2l27 0.5M489.4 62.8l17.5 0.2M519.5 63.2l27 0.1M549.6 63.3l17.5 -0.1M579.6 63.2l27 -0.3M609.8 62.8l17.5 -0.3M639.9 62.2l27 -0.7M670 61.4l17.5 -0.6M700.1 60.5l27 -1M730.2 59.4l17.5 -0.7M760.2 58.3l27 -1M790.4 57.1l27 -1M820.5 56l17.5 -0.6M850.6 55l27 -0.8M880.7 54.2l17.5 -0.4M910.8 53.5l27 -0.4M940.9 53.1l17.5 -0.1M971 52.9l27 0.1M1001.1 53l17.5 0.2M1031.2 53.3l27 0.5M1061.2 53.8l17.5 0.4M1091.4 54.6l27 0.8M1121.5 55.5l17.5 0.6M1151.5 56.5l27 1M1181.7 57.6l17.5 0.7M1211.8 58.8l27 1M1241.9 59.9l17.5 0.6M1272 60.9l27 0.8M1302 61.8l17.5 0.4M1332.2 62.5l27 0.4M1362.2 63l17.5 0.2M1392.4 63.3l27 0M1422.5 63.3l17.5 -0.1M1452.6 63l27 -0.4M1482.7 62.6l17.5 -0.4M1512.8 61.9l27 -0.8M1542.9 61l17.5 -0.6M1573 60l27 -1M1603.1 58.9l17.5 -0.7M1633.2 57.7l27 -1M1663.2 56.6l27 -0.9M1693.4 55.5l17.5 -0.5M1723.5 54.6l17.5 0"/>
<g class="w" transform="scale(0.745 1)"><text x="-9.8" y="-47.4">07:30<tspan x="-9.8" dy="10.1">3m90</tspan></text><text x="30.6" y="-46.6">19:55<tspan x="30.6" dy="10.1">3m90</tspan></text><text x="71" y="-46">08:20<tspan x="71" dy="10.1">3m90</tspan></text><text x="111.4" y="-45.7">20:45<tspan x="111.4" dy="10.1">3m80</tspan></text><text x="151.8" y="-45.5">09:11<tspan x="151.8" dy="10.1">3m80</tspan></text><text x="192.2" y="-45.6">21:36<tspan x="192.2" dy="10.1">3m80</tspan></text><text x="232.6" y="-45.8">10:01<tspan x="232.6" dy="10.1">3m80</tspan></text><text x="273" y="-46.3">22:26<tspan x="273" dy="10.1">3m90</tspan></text><text x="313.4" y="-47">10:51<tspan x="313.4" dy="10.1">3m80</tspan></text><text x="353.8" y="-47.8">23:17<tspan x="353.8" dy="10.1">3m90</tspan></text><text x="394.2" y="-48.7">11:42<tspan x="394.2" dy="10.1">4m00</tspan></text><text x="434.6" y="-49.7">00:07<tspan x="434.6" dy="10.1">4m00</tspan></text><text x="475" y="-50.7">12:32<tspan x="475" dy="10.1">4m10</tspan></text><text x="515.4" y="-51.7">00:58<tspan x="515.4" dy="10.1">4m10</tspan></text><text x="555.8" y="-52.6">13:23<tspan x="555.8" dy="10.1">4m10</tspan></text><text x="596.2" y="-53.4">01:48<tspan x="596.2" dy="10.1">4m20</tspan></text><text x="636.6" y="-54">14:13<tspan x="636.6" dy="10.1">4m20</tspan></text><text x="677" y="-54.4">02:39<tspan x="677" dy="10.1">4m30</tspan></text><text x="717.4" y="-54.7">15:04<tspan x="717.4" dy="10.1">4m20</tspan></text><text x="757.9" y="-54.7">03:29<tspan x="757.9" dy="10.1">4m20</tspan></text><text x="798.3" y="-54.5">15:54<tspan x="798.3" dy="10.1">4m30</tspan></text><text x="838.7" y="-54">04:20<tspan x="838.7" dy="10.1">4m20</tspan></text><text x="879.1" y="-53.4">16:45<tspan x="879.1" dy="10.1">4m20</tspan></text><text x="919.5" y="-52.6">05:10<tspan x="919.5" dy="10.1">4m20</tspan></text><text x="959.9" y="-51.7">17:35<tspan x="959.9" dy="10.1">4m10</tspan></text><text x="1000.3" y="-50.7">06:00<tspan x="1000.3" dy="10.1">4m10</tspan></text><text x="1040.7" y="-49.7">18:26<tspan x="1040.7" dy="10.1">4m00</tspan></text><text x="1081.1" y="-48.7">06:51<tspan x="1081.1" dy="10.1">3m90</tspan></text><text x="1121.5" y="-47.8">19:16<tspan x="1121.5" dy="10.1">3m90</tspan></text><text x="1161.9" y="-47">07:41<tspan x="1161.9" dy="10.1">3m80</tspan></text><text x="1202.3" y="-46.3">20:07<tspan x="1202.3" dy="10.1">3m90</tspan></text><text x="1242.7" y="-45.8">08:32<tspan x="1242.7" dy="10.1">3m80</tspan></text><text x="1283.1" y="-45.6">20:57<tspan x="1283.1" dy="10.1">3m80</tspan></text><text x="1323.5" y="-45.5">09:22<tspan x="1323.5" dy="10.1">3m80</tspan></text><text x="1363.9" y="-45.7">21:48<tspan x="1363.9" dy="10.1">3m80</tspan></text><text x="1404.3" y="-46">10:13<tspan x="1404.3" dy="10.1">3m80</tspan></text><text x="1444.7" y="-46.6">22:38<tspan x="1444.7" dy="10.1">3m90</tspan></text><text x="1485.1" y="-47.4">11:03<tspan x="1485.1" dy="10.1">3m80</tspan></text><text x="1525.5" y="-48.2">23:29<tspan x="1525.5" dy="10.1">4m00</tspan></text><text x="1565.9" y="-49.2">11:54<tspan x="1565.9" dy="10.1">4m00</tspan></text><text x="1606.3" y="-50.2">00:19<tspan x="1606.3" dy="10.1">4m00</tspan></text><text x="1646.7" y="-51.2">12:44<tspan x="1646.7" dy="10.1">4m10</tspan></text><text x="1687.1" y="-52.1">01:09<tspan x="1687.1" dy="10.1">4m10</tspan></text><text x="1727.5" y="-53">13:35<tspan x="1727.5" dy="10.1">4m20</tspan></text><text x="1767.9" y="-53.7">02:00<tspan x="1767.9" dy="10.1">4m20</tspan></text><text x="1808.3" y="-54.2">14:25<tspan x="1808.3" dy="10.1">4m20</tspan></text><text x="1848.7" y="-54.6">02:50<tspan x="1848.7" dy="10.1">4m30</tspan></text><text x="1889.1" y="-54.7">15:16<tspan x="1889.1" dy="10.1">4m20</tspan></text><text x="1929.5" y="-54.6">03:41<tspan x="1929.5" dy="10.1">4m20</tspan></text><text x="1969.9" y="-54.3">16:06<tspan x="1969.9" dy="10.1">4m30</tspan></text><text x="2010.3" y="-53.8">04:31<tspan x="2010.3" dy="10.1">4m20</tspan></text><text x="2050.7" y="-53.1">16:57<tspan x="2050.7" dy="10.1">4m20</tspan></text><text x="2091.1" y="-52.2">05:22<tspan x="2091.1" dy="10.1">4m10</tspan></text><text x="2131.5" y="-51.3">17:47<tspan x="2131.5" dy="10.1">4m00</tspan></text><text x="2171.9" y="-50.3">06:12<tspan x="2171.9" dy="10.1">4m10</tspan></text><text x="2212.3" y="-49.3">18:38<tspan x="2212.3" dy="10.1">3m90</tspan></text><text x="2252.8" y="-48.3">07:03<tspan x="2252.8" dy="10.1">3m90</tspan></text><text x="2293.2" y="-47.4">19:28<tspan x="2293.2" dy="10.1">3m90</tspan></text><text x="10.4" y="41.9">1m00<tspan x="10.4" dy="10.1">13:42</tspan></text><text x="50.8" y="41.1">0m90<tspan x="50.8" dy="10.1">02:07</tspan></text><text x="91.2" y="40.6">1m00<tspan x="91.2" dy="10.1">14:33</tspan></text><text x="131.6" y="40.3">1m00<tspan x="131.6" dy="10.1">02:58</tspan></text><text x="172" y="40.2">1m00<tspan x="172" dy="10.1">15:23</tspan></text><text x="212.4" y="40.4">1m00<tspan x="212.4" dy="10.1">03:48</tspan></text><text x="252.8" y="40.8">1m00<tspan x="252.8" dy="10.1">16:14</tspan></text><text x="293.2" y="41.5">0m90<tspan x="293.2" dy="10.1">04:39</tspan></text><text x="333.6" y="42.3">0m90<tspan x="333.6" dy="10.1">17:04</tspan></text><text x="374" y="43.3">0m90<tspan x="374" dy="10.1">05:29</tspan></text><text x="414.4" y="44.4">0m80<tspan x="414.4" dy="10.1">17:55</tspan></text><text x="454.8" y="45.5">0m80<tspan x="454.8" dy="10.1">06:20</tspan></text><text x="495.2" y="46.7">0m80<tspan x="495.2" dy="10.1">18:45</tspan></text><text x="535.6" y="47.7">0m70<tspan x="535.6" dy="10.1">07:10</tspan></text><text x="576" y="48.7">0m60<tspan x="576" dy="10.1">19:35</tspan></text><text x="616.4" y="49.5">0m60<tspan x="616.4" dy="10.1">08:01</tspan></text><text x="656.8" y="50.1">0m60<tspan x="656.8" dy="10.1">20:26</tspan></text><text x="697.2" y="50.5">0m60<tspan x="697.2" dy="10.1">08:51</tspan></text><text x="737.7" y="50.6">0m60<tspan x="737.7" dy="10.1">21:16</tspan></text><text x="778.1" y="50.5">0m50<tspan x="778.1" dy="10.1">09:42</tspan></text><text x="818.5" y="50.1">0m60<tspan x="818.5" dy="10.1">22:07</tspan></text><text x="858.9" y="49.5">0m60<tspan x="858.9" dy="10.1">10:32</tspan></text><text x="899.3" y="48.7">0m60<tspan x="899.3" dy="10.1">22:57</tspan></text><text x="939.7" y="47.8">0m70<tspan x="939.7" dy="10.1">11:23</tspan></text><text x="980.1" y="46.7">0m80<tspan x="980.1" dy="10.1">23:48</tspan></text><text x="1020.5" y="45.6">0m70<tspan x="1020.5" dy="10.1">12:13</tspan></text><text x="1060.9" y="44.4">0m80<tspan x="1060.9" dy="10.1">00:38</tspan></text><text x="1101.3" y="43.3">0m90<tspan x="1101.3" dy="10.1">13:04</tspan></text><text x="1141.7" y="42.3">0m90<tspan x="1141.7" dy="10.1">01:29</tspan></text><text x="1182.1" y="41.5">0m90<tspan x="1182.1" dy="10.1">13:54</tspan></text><text x="1222.5" y="40.8">1m00<tspan x="1222.5" dy="10.1">02:19</tspan></text><text x="1262.9" y="40.4">1m00<tspan x="1262.9" dy="10.1">14:45</tspan></text><text x="1303.3" y="40.2">1m00<tspan x="1303.3" dy="10.1">03:10</tspan></text><text x="1343.7" y="40.3">1m00<tspan x="1343.7" dy="10.1">15:35</tspan></text><text x="1384.1" y="40.6">1m00<tspan x="1384.1" dy="10.1">04:00</tspan></text><text x="1424.5" y="41.1">1m00<tspan x="1424.5" dy="10.1">16:25</tspan></text><text x="1464.9" y="41.9">1m00<tspan x="1464.9" dy="10.1">04:51</tspan></text><text x="1505.3" y="42.8">0m90<tspan x="1505.3" dy="10.1">17:16</tspan></text><text x="1545.7" y="43.8">0m80<tspan x="1545.7" dy="10.1">05:41</tspan></text><text x="1586.1" y="44.9">0m80<tspan x="1586.1" dy="10.1">18:06</tspan></text><text x="1626.5" y="46.1">0m70<tspan x="1626.5" dy="10.1">06:32</tspan></text><text x="1666.9" y="47.2">0m70<tspan x="1666.9" dy="10.1">18:57</tspan></text><text x="1707.3" y="48.2">0m70<tspan x="1707.3" dy="10.1">07:22</tspan></text><text x="1747.7" y="49.1">0m60<tspan x="1747.7" dy="10.1">19:47</tspan></text><text x="1788.1" y="49.8">0m60<tspan x="1788.1" dy="10.1">08:13</tspan></text><text x="1828.5" y="50.3">0m60<tspan x="1828.5" dy="10.1">20:38</tspan></text><text x="1868.9" y="50.6">0m50<tspan x="1868.9" dy="10.1">09:03</tspan></text><text x="1909.3" y="50.6">0m60<tspan x="1909.3" dy="10.1">21:28</tspan></text><text x="1949.7" y="50.3">0m60<tspan x="1949.7" dy="10.1">09:54</tspan></text><text x="1990.1" y="49.9">0m60<tspan x="1990.1" dy="10.1">22:19</tspan></text><text x="2030.5" y="49.2">0m60<tspan x="2030.5" dy="10.1">10:44</tspan></text><text x="2070.9" y="48.3">0m70<tspan x="2070.9" dy="10.1">23:09</tspan></text><text x="2111.3" y="47.3">0m70<tspan x="2111.3" dy="10.1">11:34</tspan></text><text x="2151.7" y="46.2">0m70<tspan x="2151.7" dy="10.1">00:00</tspan></text><text x="2192.1" y="45">0m80<tspan x="2192.1" dy="10.1">12:25</tspan></text><text x="2232.6" y="43.9">0m80<tspan x="2232.6" dy="10.1">00:50</tspan></text><text x="2273" y="42.8">0m90<tspan x="2273" dy="10.1">13:15</tspan></text><text x="2313.4" y="41.9">1m00<tspan x="2313.4" dy="10.1">01:41</tspan></text></g>
<g class="d" transform="scale(0.62 1)"><text x="-11.8" y="-60.3">M 1</text><text x="85.3" y="-58.9">D 2</text><text x="182.4" y="-58.4">M 3</text><text x="279.5" y="-58.7">D 4</text><text x="376.6" y="-59.9">F 5</text><text x="473.7" y="-61.6">S 6</text><text x="522.3" y="-62.6">S 7</text><text x="619.4" y="-64.6">M 8</text><text x="716.5" y="-66.3">D 9</text><text x="813.5" y="-67.3">M 10</text><text x="910.6" y="-67.6">D 11</text><text x="1007.7" y="-66.9">F 12</text><text x="1104.8" y="-65.5">S 13</text><text x="1201.9" y="-63.6">S 14</text><text x="1299" y="-61.6">M 15</text><text x="1396.1" y="-59.9">D 16</text><text x="1493.2" y="-58.7">M 17</text><text x="1590.3" y="-58.4">D 18</text><text x="1687.4" y="-58.9">F 19</text><text x="1784.5" y="-60.3">S 20</text><text x="1881.6" y="-62.1">S 21</text><text x="1930.2" y="-63.1">M 22</text><text x="2027.3" y="-65">D 23</text><text x="2124.4" y="-66.6">M 24</text><text x="2221.5" y="-67.5">D 25</text><text x="2318.5" y="-67.5">F 26</text><text x="2415.6" y="-66.7">S 27</text><text x="2512.7" y="-65.1">S 28</text><text x="2609.8" y="-63.2">M 29</text><text x="2706.9" y="-61.2">D 30</text><text x="12.5" y="70.9">M 1</text><text x="61" y="70.1">D 2</text><text x="158.1" y="69.3">M 3</text><text x="255.2" y="69.4">D 4</text><text x="352.3" y="70.5">F 5</text><text x="449.4" y="72.3">S 6</text><text x="546.5" y="74.5">S 7</text><text x="643.6" y="76.7">M 8</text><text x="740.7" y="78.5">D 9</text><text x="837.8" y="79.5">M 10</text><text x="934.9" y="79.5">D 11</text><text x="1032" y="78.5">F 12</text><text x="1129.1" y="76.8">S 13</text><text x="1226.2" y="74.6">S 14</text><text x="1274.8" y="73.4">M 15</text><text x="1371.9" y="71.3">D 16</text><text x="1469" y="69.8">M 17</text><text x="1566" y="69.2">D 18</text><text x="1663.1" y="69.6">F 19</text><text x="1760.2" y="70.9">S 20</text><text x="1857.3" y="72.8">S 21</text><text x="1954.4" y="75.1">M 22</text><text x="2051.5" y="77.2">D 23</text><text x="2148.6" y="78.8">M 24</text><text x="2245.7" y="79.6">D 25</text><text x="2342.8" y="79.3">F 26</text><text x="2439.9" y="78.2">S 27</text><text x="2537" y="76.3">S 28</text><text x="2634.1" y="74">M 29</text><text x="2682.7" y="72.9">D 30</text></g>
<g class="h" transform="scale(0.63 1)"><text x="-50.3" y="-53.4" text-anchor="end">HOCHWASSER</text><text x="-23.5" y="-53.4" text-anchor="end">ZEIT</text><text x="-23.5" y="-43.5" text-anchor="end">HÖHE</text><text x="-32.4" y="47.3" text-anchor="end">NIEDRIGWASSER</text><text x="-0.8" y="47.3" text-anchor="end">HÖHE</text><text x="-0.8" y="57.7" text-anchor="end">ZEIT</text></g>
</g>
<text class="mo" x="402" y="401" text-anchor="middle" letter-spacing="0.5">MAI</text>
<g class="pr" transform="translate(229 420.9) scale(0.2233)">
<path class="z" d="M0 -24.4 15.1 18.8 30.1 -25.3 45.2 18.4 60.2 -23.9 75.2 19.4 90.3 -23.7 105.4 17.9 120.4 -24.7 135.5 18.2 150.5 -23.6 165.6 19.8 180.6 -25.2 195.7 19.1 210.7 -25.6 225.8 20 240.8 -25.6 255.9 22.2 270.9 -27.9 286 21.9 301 -27.6 316.1 23.1 331.1 -29.2 346.2 25.4 361.2 -30.7 376.3 25.1 391.3 -30.3 406.4 26.2 421.4 -32.5 436.5 28.2 451.5 -32.4 466.6 27.4 481.6 -32.5 496.7 27.9 511.7 -33.9 526.8 29.3 541.8 -32.5 556.9 27.7 571.9 -33.2 586.9 27.6 602 -32.9 617 28.3 632.1 -31.2 647.1 26.1 662.2 -31.9 677.2 25.4 692.3 -29.9 707.4 25.6 722.4 -29.1 737.5 23 752.5 -28.9 767.5 22.2 782.6 -26.5 797.6 22.3 812.7 -26.9 827.8 19.9 842.8 -25.6 857.9 19.4 872.9 -24.3 888 19.9 903 -25.1 918 18 933.1 -23.5 948.1 18.2 963.2 -24.1 978.2 19.3 993.3 -24.6 1008.4 18.1 1023.4 -23.8 1038.5 19 1053.5 -25.7 1068.5 20.8 1083.6 -25.6 1098.7 20.2 1113.7 -26.3 1128.8 21.6 1143.8 -28.3 1158.8 23.7 1173.9 -27.9 1189 23.4 1204 -30 1219 24.8 1234.1 -30.8 1249.2 26.9 1264.2 -30.8 1279.2 26.3 1294.3 -32.9 1309.3 27.4 1324.4 -32.3 1339.5 28.9 1354.5 -33 1369.5 27.7 1384.6 -33.8 1399.7 28.2 1414.7 -32.3 1429.8 29 1444.8 -33.4 1459.9 27.1 1474.9 -32.2 1490 26.9 1505 -31.1 1520 27.1 1535.1 -31.5 1550.2 24.6 1565.2 -29.2 1580.2 24 1595.3 -29 1610.4 23.9 1625.4 -28.2 1640.5 21.3 1655.5 -26.1 1670.5 20.9 1685.6 -26.7 1700.7 20.9 1715.7 -24.9 1730.8 18.7 1745.8 -24.4 1760.9 18.7 1775.9 -24.9 1791 19.3"/>
<path class="y" d="M-2.7 0H1791"/>
<circle cx="11" cy="-28.8" r="7.5" fill="#fff" stroke="#111" stroke-width="1.4"/><path d="M11 -37a8.2 8.2 0 0 1 0 16.4z" fill="#111"/>
<circle cx="418.1" cy="-31.2" r="8.2" fill="#111"/>
<circle cx="825.2" cy="-29.2" r="7.5" fill="#fff" stroke="#111" stroke-width="1.4"/><path d="M825.2 -37.4a8.2 8.2 0 0 0 0 16.4z" fill="#111"/>
<circle cx="1290.5" cy="-31.3" r="7.4" fill="none" stroke="#111" stroke-width="1.6"/>
<circle cx="1697.6" cy="-29.1" r="7.5" fill="#fff" stroke="#111" stroke-width="1.4"/><path d="M1697.6 -37.3a8.2 8.2 0 0 1 0 16.4z" fill="#111"/>
<path class="dt" d="M-7.3 -57.2l27.5 0.5M22.8 -56.6l18 0.2M52.9 -56.2l27.5 0.2M83 -56l18 0M113.1 -56.1l27.5 -0.2M143.2 -56.3l18 -0.3M173.3 -56.8l27.5 -0.6M203.4 -57.4l18 -0.5M233.5 -58.3l27.5 -0.8M263.6 -59.2l18 -0.6M293.7 -60.2l27.5 -0.9M323.8 -61.2l27.5 -0.9M353.9 -62.2l18 -0.5M384 -63.1l27.5 -0.7M414.1 -63.9l18 -0.4M444.2 -64.5l27.5 -0.4M474.3 -64.9l18 -0.1M504.4 -65.2l27.5 0M534.5 -65.2l18 0.1M564.6 -65l27.5 0.4M594.7 -64.6l18 0.4M624.8 -63.9l27.5 0.7M654.9 -63.2l18 0.5M685 -62.3l27.5 0.9M715.1 -61.3l18 0.6M745.2 -60.3l27.5 0.9M775.3 -59.3l18 0.6M805.4 -58.4l27.5 0.8M835.5 -57.5l18 0.4M865.6 -56.9l27.5 0.5M895.7 -56.4l18 0.2M925.8 -56.1l27.5 0.1M955.9 -56l18 -0.1M986 -56.2l27.5 -0.3M1016.1 -56.5l18 -0.3M1046.2 -57.1l27.5 -0.7M1076.3 -57.8l18 -0.5M1106.4 -58.7l27.5 -0.9M1136.5 -59.6l18 -0.6M1166.6 -60.6l27.5 -0.9M1196.7 -61.6l27.5 -0.9M1226.8 -62.6l18 -0.5M1256.9 -63.5l27.5 -0.7M1287 -64.2l18 -0.3M1317.1 -64.7l27.5 -0.3M1347.2 -65.1l18 -0.1M1377.3 -65.2l27.5 0.1M1407.4 -65.1l18 0.2M1437.5 -64.8l27.5 0.5M1467.6 -64.3l18 0.4M1497.7 -63.6l27.5 0.8M1527.8 -62.8l18 0.6M1557.9 -61.8l27.5 0.9M1588 -60.8l18 0.6M1618.1 -59.8l27.5 0.9M1648.2 -58.9l18 0.5M1678.3 -58l27.5 0.7M1708.4 -57.2l18 0.4M1738.5 -56.6l27.5 0.4M1768.6 -56.2l18 0M7.8 53.9l27 -0.5M37.9 53.3l27 -0.3M68 53l17.5 0M98.1 52.9l27 0.2M128.2 53.1l17.5 0.2M158.2 53.5l27 0.6M188.4 54.1l17.5 0.5M218.5 55l27 0.9M248.6 56l17.5 0.6M278.7 57l27 1M308.8 58.2l17.5 0.7M338.9 59.3l27 1M369 60.4l17.5 0.6M399.1 61.3l27 0.7M429.2 62.2l17.5 0.4M459.2 62.8l27 0.3M489.4 63.2l17.5 0.1M519.5 63.3l27 -0.1M549.6 63.2l17.5 -0.2M579.6 62.8l27 -0.5M609.8 62.3l17.5 -0.5M639.9 61.5l27 -0.8M670 60.5l17.5 -0.6M700.1 59.5l27 -1M730.2 58.3l27 -1M760.2 57.2l17.5 -0.6M790.4 56.1l27 -0.9M820.5 55.1l17.5 -0.5M850.6 54.2l27 -0.6M880.7 53.6l17.5 -0.3M910.8 53.1l27 -0.2M940.9 52.9l17.5 0M971 53l27 0.3M1001.1 53.2l17.5 0.3M1031.2 53.8l27 0.7M1061.2 54.5l17.5 0.5M1091.4 55.4l27 0.9M1121.5 56.5l17.5 0.6M1151.5 57.6l27 1M1181.7 58.7l17.5 0.6M1211.8 59.8l27 0.9M1241.9 60.9l17.5 0.5M1272 61.8l27 0.6M1302 62.5l17.5 0.3M1332.2 63l27 0.2M1362.2 63.3l17.5 0M1392.4 63.3l27 -0.2M1422.5 63.1l17.5 -0.3M1452.6 62.6l27 -0.6M1482.7 61.9l17.5 -0.5M1512.8 61l27 -0.9M1542.9 60l17.5 -0.6M1573 58.9l27 -1M1603.1 57.8l27 -1M1633.2 56.7l17.5 -0.6M1663.2 55.6l27 -0.8M1693.4 54.7l17.5 -0.4M1723.5 53.9l27 -0.5M1753.6 53.3l17.5 -0.2M1783.7 53l17.5 0"/>
<g class="w" transform="scale(0.745 1)"><text x="-9.8" y="-46.7">07:53<tspan x="-9.8" dy="10.1">3m80</tspan></text><text x="30.6" y="-46.1">20:18<tspan x="30.6" dy="10.1">3m90</tspan></text><text x="71" y="-45.7">08:44<tspan x="71" dy="10.1">3m80</tspan></text><text x="111.4" y="-45.5">21:09<tspan x="111.4" dy="10.1">3m80</tspan></text><text x="151.8" y="-45.6">09:34<tspan x="151.8" dy="10.1">3m80</tspan></text><text x="192.2" y="-45.8">21:59<tspan x="192.2" dy="10.1">3m80</tspan></text><text x="232.6" y="-46.3">10:25<tspan x="232.6" dy="10.1">3m90</tspan></text><text x="273" y="-46.9">22:50<tspan x="273" dy="10.1">3m90</tspan></text><text x="313.4" y="-47.8">11:15<tspan x="313.4" dy="10.1">3m90</tspan></text><text x="353.8" y="-48.7">23:40<tspan x="353.8" dy="10.1">4m00</tspan></text><text x="394.2" y="-49.7">12:06<tspan x="394.2" dy="10.1">4m00</tspan></text><text x="434.6" y="-50.7">00:31<tspan x="434.6" dy="10.1">4m00</tspan></text><text x="475" y="-51.7">12:56<tspan x="475" dy="10.1">4m10</tspan></text><text x="515.4" y="-52.6">01:21<tspan x="515.4" dy="10.1">4m10</tspan></text><text x="555.8" y="-53.4">13:47<tspan x="555.8" dy="10.1">4m20</tspan></text><text x="596.2" y="-54">02:12<tspan x="596.2" dy="10.1">4m20</tspan></text><text x="636.6" y="-54.4">14:37<tspan x="636.6" dy="10.1">4m20</tspan></text><text x="677" y="-54.7">03:02<tspan x="677" dy="10.1">4m30</tspan></text><text x="717.4" y="-54.7">15:28<tspan x="717.4" dy="10.1">4m20</tspan></text><text x="757.9" y="-54.5">03:53<tspan x="757.9" dy="10.1">4m20</tspan></text><text x="798.3" y="-54.1">16:18<tspan x="798.3" dy="10.1">4m20</tspan></text><text x="838.7" y="-53.4">04:43<tspan x="838.7" dy="10.1">4m10</tspan></text><text x="879.1" y="-52.7">17:08<tspan x="879.1" dy="10.1">4m20</tspan></text><text x="919.5" y="-51.8">05:34<tspan x="919.5" dy="10.1">4m10</tspan></text><text x="959.9" y="-50.8">17:59<tspan x="959.9" dy="10.1">4m00</tspan></text><text x="1000.3" y="-49.8">06:24<tspan x="1000.3" dy="10.1">4m00</tspan></text><text x="1040.7" y="-48.8">18:49<tspan x="1040.7" dy="10.1">3m90</tspan></text><text x="1081.1" y="-47.9">07:15<tspan x="1081.1" dy="10.1">3m90</tspan></text><text x="1121.5" y="-47">19:40<tspan x="1121.5" dy="10.1">3m90</tspan></text><text x="1161.9" y="-46.4">08:05<tspan x="1161.9" dy="10.1">3m80</tspan></text><text x="1202.3" y="-45.9">20:30<tspan x="1202.3" dy="10.1">3m90</tspan></text><text x="1242.7" y="-45.6">08:56<tspan x="1242.7" dy="10.1">3m80</tspan></text><text x="1283.1" y="-45.5">21:21<tspan x="1283.1" dy="10.1">3m80</tspan></text><text x="1323.5" y="-45.7">09:46<tspan x="1323.5" dy="10.1">3m80</tspan></text><text x="1363.9" y="-46">22:11<tspan x="1363.9" dy="10.1">3m80</tspan></text><text x="1404.3" y="-46.6">10:37<tspan x="1404.3" dy="10.1">3m90</tspan></text><text x="1444.7" y="-47.3">23:02<tspan x="1444.7" dy="10.1">3m90</tspan></text><text x="1485.1" y="-48.2">11:27<tspan x="1485.1" dy="10.1">3m90</tspan></text><text x="1525.5" y="-49.1">23:52<tspan x="1525.5" dy="10.1">4m00</tspan></text><text x="1565.9" y="-50.1">12:17<tspan x="1565.9" dy="10.1">4m00</tspan></text><text x="1606.3" y="-51.1">00:43<tspan x="1606.3" dy="10.1">4m10</tspan></text><text x="1646.7" y="-52.1">13:08<tspan x="1646.7" dy="10.1">4m10</tspan></text><text x="1687.1" y="-53">01:33<tspan x="1687.1" dy="10.1">4m10</tspan></text><text x="1727.5" y="-53.7">13:58<tspan x="1727.5" dy="10.1">4m20</tspan></text><text x="1767.9" y="-54.2">02:24<tspan x="1767.9" dy="10.1">4m20</tspan></text><text x="1808.3" y="-54.6">14:49<tspan x="1808.3" dy="10.1">4m20</tspan></text><text x="1848.7" y="-54.7">03:14<tspan x="1848.7" dy="10.1">4m30</tspan></text><text x="1889.1" y="-54.6">15:39<tspan x="1889.1" dy="10.1">4m20</tspan></text><text x="1929.5" y="-54.3">04:05<tspan x="1929.5" dy="10.1">4m30</tspan></text><text x="1969.9" y="-53.8">16:30<tspan x="1969.9" dy="10.1">4m20</tspan></text><text x="2010.3" y="-53.1">04:55<tspan x="2010.3" dy="10.1">4m10</tspan></text><text x="2050.7" y="-52.3">17:20<tspan x="2050.7" dy="10.1">4m20</tspan></text><text x="2091.1" y="-51.3">05:46<tspan x="2091.1" dy="10.1">4m00</tspan></text><text x="2131.5" y="-50.3">18:11<tspan x="2131.5" dy="10.1">4m00</tspan></text><text x="2171.9" y="-49.3">06:36<tspan x="2171.9" dy="10.1">4m00</tspan></text><text x="2212.3" y="-48.4">19:01<tspan x="2212.3" dy="10.1">3m90</tspan></text><text x="2252.8" y="-47.5">07:26<tspan x="2252.8" dy="10.1">3m90</tspan></text><text x="2293.2" y="-46.7">19:52<tspan x="2293.2" dy="10.1">3m80</tspan></text><text x="2333.6" y="-46.1">08:17<tspan x="2333.6" dy="10.1">3m80</tspan></text><text x="2374" y="-45.7">20:42<tspan x="2374" dy="10.1">3m80</tspan></text><text x="10.4" y="41.2">0m90<tspan x="10.4" dy="10.1">14:06</tspan></text><text x="50.8" y="40.6">1m00<tspan x="50.8" dy="10.1">02:31</tspan></text><text x="91.2" y="40.3">1m00<tspan x="91.2" dy="10.1">14:56</tspan></text><text x="131.6" y="40.2">1m00<tspan x="131.6" dy="10.1">03:22</tspan></text><text x="172" y="40.4">1m00<tspan x="172" dy="10.1">15:47</tspan></text><text x="212.4" y="40.8">1m00<tspan x="212.4" dy="10.1">04:12</tspan></text><text x="252.8" y="41.4">0m90<tspan x="252.8" dy="10.1">16:37</tspan></text><text x="293.2" y="42.3">0m90<tspan x="293.2" dy="10.1">05:03</tspan></text><text x="333.6" y="43.3">0m90<tspan x="333.6" dy="10.1">17:28</tspan></text><text x="374" y="44.3">0m80<tspan x="374" dy="10.1">05:53</tspan></text><text x="414.4" y="45.5">0m80<tspan x="414.4" dy="10.1">18:18</tspan></text><text x="454.8" y="46.6">0m80<tspan x="454.8" dy="10.1">06:43</tspan></text><text x="495.2" y="47.7">0m70<tspan x="495.2" dy="10.1">19:09</tspan></text><text x="535.6" y="48.6">0m60<tspan x="535.6" dy="10.1">07:34</tspan></text><text x="576" y="49.5">0m60<tspan x="576" dy="10.1">19:59</tspan></text><text x="616.4" y="50.1">0m60<tspan x="616.4" dy="10.1">08:24</tspan></text><text x="656.8" y="50.5">0m60<tspan x="656.8" dy="10.1">20:50</tspan></text><text x="697.2" y="50.6">0m60<tspan x="697.2" dy="10.1">09:15</tspan></text><text x="737.7" y="50.5">0m50<tspan x="737.7" dy="10.1">21:40</tspan></text><text x="778.1" y="50.1">0m60<tspan x="778.1" dy="10.1">10:05</tspan></text><text x="818.5" y="49.6">0m60<tspan x="818.5" dy="10.1">22:31</tspan></text><text x="858.9" y="48.8">0m60<tspan x="858.9" dy="10.1">10:56</tspan></text><text x="899.3" y="47.8">0m70<tspan x="899.3" dy="10.1">23:21</tspan></text><text x="939.7" y="46.8">0m80<tspan x="939.7" dy="10.1">11:46</tspan></text><text x="980.1" y="45.6">0m70<tspan x="980.1" dy="10.1">00:12</tspan></text><text x="1020.5" y="44.5">0m80<tspan x="1020.5" dy="10.1">12:37</tspan></text><text x="1060.9" y="43.4">0m90<tspan x="1060.9" dy="10.1">01:02</tspan></text><text x="1101.3" y="42.4">0m90<tspan x="1101.3" dy="10.1">13:27</tspan></text><text x="1141.7" y="41.5">0m90<tspan x="1141.7" dy="10.1">01:52</tspan></text><text x="1182.1" y="40.9">1m00<tspan x="1182.1" dy="10.1">14:18</tspan></text><text x="1222.5" y="40.4">1m00<tspan x="1222.5" dy="10.1">02:43</tspan></text><text x="1262.9" y="40.2">1m00<tspan x="1262.9" dy="10.1">15:08</tspan></text><text x="1303.3" y="40.3">1m00<tspan x="1303.3" dy="10.1">03:33</tspan></text><text x="1343.7" y="40.5">1m00<tspan x="1343.7" dy="10.1">15:59</tspan></text><text x="1384.1" y="41.1">1m00<tspan x="1384.1" dy="10.1">04:24</tspan></text><text x="1424.5" y="41.8">1m00<tspan x="1424.5" dy="10.1">16:49</tspan></text><text x="1464.9" y="42.7">0m90<tspan x="1464.9" dy="10.1">05:14</tspan></text><text x="1505.3" y="43.8">0m80<tspan x="1505.3" dy="10.1">17:40</tspan></text><text x="1545.7" y="44.9">0m80<tspan x="1545.7" dy="10.1">06:05</tspan></text><text x="1586.1" y="46">0m70<tspan x="1586.1" dy="10.1">18:30</tspan></text><text x="1626.5" y="47.1">0m70<tspan x="1626.5" dy="10.1">06:55</tspan></text><text x="1666.9" y="48.2">0m70<tspan x="1666.9" dy="10.1">19:21</tspan></text><text x="1707.3" y="49.1">0m60<tspan x="1707.3" dy="10.1">07:46</tspan></text><text x="1747.7" y="49.8">0m60<tspan x="1747.7" dy="10.1">20:11</tspan></text><text x="1788.1" y="50.3">0m60<tspan x="1788.1" dy="10.1">08:36</tspan></text><text x="1828.5" y="50.6">0m50<tspan x="1828.5" dy="10.1">21:01</tspan></text><text x="1868.9" y="50.6">0m60<tspan x="1868.9" dy="10.1">09:27</tspan></text><text x="1909.3" y="50.4">0m60<tspan x="1909.3" dy="10.1">21:52</tspan></text><text x="1949.7" y="49.9">0m60<tspan x="1949.7" dy="10.1">10:17</tspan></text><text x="1990.1" y="49.2">0m60<tspan x="1990.1" dy="10.1">22:42</tspan></text><text x="2030.5" y="48.3">0m70<tspan x="2030.5" dy="10.1">11:08</tspan></text><text x="2070.9" y="47.3">0m70<tspan x="2070.9" dy="10.1">23:33</tspan></text><text x="2111.3" y="46.2">0m70<tspan x="2111.3" dy="10.1">11:58</tspan></text><text x="2151.7" y="45.1">0m80<tspan x="2151.7" dy="10.1">00:23</tspan></text><text x="2192.1" y="44">0m80<tspan x="2192.1" dy="10.1">12:49</tspan></text><text x="2232.6" y="42.9">0m90<tspan x="2232.6" dy="10.1">01:14</tspan></text><text x="2273" y="42">1m00<tspan x="2273" dy="10.1">13:39</tspan></text><text x="2313.4" y="41.2">0m90<tspan x="2313.4" dy="10.1">02:04</tspan></text><text x="2353.8" y="40.6">1m00<tspan x="2353.8" dy="10.1">14:30</tspan></text><text x="2394.2" y="40.3">1m00<tspan x="2394.2" dy="10.1">02:55</tspan></text></g>
<g class="d" transform="scale(0.62 1)"><text x="-11.8" y="-59.6">M 1</text><text x="85.3" y="-58.6">D 2</text><text x="182.4" y="-58.5">F 3</text><text x="279.5" y="-59.2">S 4</text><text x="376.6" y="-60.7">S 5</text><text x="473.7" y="-62.6">M 6</text><text x="522.3" y="-63.6">D 7</text><text x="619.4" y="-65.5">M 8</text><text x="716.5" y="-66.9">D 9</text><text x="813.5" y="-67.6">F 10</text><text x="910.6" y="-67.4">S 11</text><text x="1007.7" y="-66.3">S 12</text><text x="1104.8" y="-64.7">M 13</text><text x="1201.9" y="-62.7">D 14</text><text x="1299" y="-60.8">M 15</text><text x="1396.1" y="-59.3">D 16</text><text x="1493.2" y="-58.5">F 17</text><text x="1590.3" y="-58.6">S 18</text><text x="1687.4" y="-59.5">S 19</text><text x="1784.5" y="-61.1">M 20</text><text x="1881.6" y="-63">D 21</text><text x="1930.2" y="-64">M 22</text><text x="2027.3" y="-65.9">D 23</text><text x="2124.4" y="-67.1">F 24</text><text x="2221.5" y="-67.6">S 25</text><text x="2318.5" y="-67.2">S 26</text><text x="2415.6" y="-66">M 27</text><text x="2512.7" y="-64.2">D 28</text><text x="2609.8" y="-62.2">M 29</text><text x="2706.9" y="-60.4">D 30</text><text x="2804" y="-59">F 31</text><text x="12.5" y="70.2">M 1</text><text x="61" y="69.6">D 2</text><text x="158.1" y="69.2">F 3</text><text x="255.2" y="69.8">S 4</text><text x="352.3" y="71.3">S 5</text><text x="449.4" y="73.3">M 6</text><text x="546.5" y="75.6">D 7</text><text x="643.6" y="77.6">M 8</text><text x="740.7" y="79.1">D 9</text><text x="837.8" y="79.6">F 10</text><text x="934.9" y="79.1">S 11</text><text x="1032" y="77.8">S 12</text><text x="1129.1" y="75.8">M 13</text><text x="1177.7" y="74.6">D 14</text><text x="1274.8" y="72.4">M 15</text><text x="1371.9" y="70.5">D 16</text><text x="1469" y="69.4">F 17</text><text x="1566" y="69.3">S 18</text><text x="1663.1" y="70.1">S 19</text><text x="1760.2" y="71.7">M 20</text><text x="1857.3" y="73.9">D 21</text><text x="1954.4" y="76.1">M 22</text><text x="2051.5" y="78.1">D 23</text><text x="2148.6" y="79.3">F 24</text><text x="2245.7" y="79.6">S 25</text><text x="2342.8" y="78.9">S 26</text><text x="2439.9" y="77.3">M 27</text><text x="2537" y="75.2">D 28</text><text x="2585.6" y="74.1">M 29</text><text x="2682.7" y="71.9">D 30</text><text x="2779.8" y="70.2">F 31</text></g>
<g class="h" transform="scale(0.63 1)"><text x="-50.3" y="-53.4" text-anchor="end">HOCHWASSER</text><text x="-23.5" y="-53.4" text-anchor="end">ZEIT</text><text x="-23.5" y="-43.5" text-anchor="end">HÖHE</text><text x="-32.4" y="47.3" text-anchor="end">NIEDRIGWASSER</text><text x="-0.8" y="47.3" text-anchor="end">HÖHE</text><text x="-0.8" y="57.7" text-anchor="end">ZEIT</text></g>
</g>
<text class="mo" x="394" y="445.1" text-anchor="middle" letter-spacing="0.5">JUNI</text>
<g class="pr" transform="translate(229 465) scale(0.2233)">
<path class="z" d="M0 -23.8 15.1 17.9 30.1 -24.7 45.2 19.4 60.2 -23.5 75.2 18.5 90.3 -25.2 105.4 19.1 120.4 -25.5 135.5 21.2 150.5 -25.6 165.6 20.8 180.6 -27.9 195.7 21.9 210.7 -27.5 225.8 24.3 240.8 -29.2 255.9 24.1 270.9 -30.6 286 25.1 301 -30.3 316.1 27.3 331.1 -32.5 346.2 26.8 361.2 -32.3 376.3 27.4 391.3 -32.5 406.4 29.1 421.4 -33.9 436.5 27.9 451.5 -32.5 466.6 27.9 481.6 -33.3 496.7 28.9 511.7 -32.8 526.8 27 541.8 -31.3 556.9 26.3 571.9 -32 586.9 26.7 602 -29.9 617 24.3 632.1 -29.3 647.1 23.3 662.2 -29 677.2 23.5 692.3 -26.6 707.4 21 722.4 -27 737.5 20.2 752.5 -25.6 767.5 20.6 782.6 -24.4 797.6 18.6 812.7 -25.2 827.8 18.3 842.8 -23.5 857.9 19.3 872.9 -24.2 888 17.9 903 -24.5 918 18.4 933.1 -23.7 948.1 20.1 963.2 -25.7 978.2 19.4 993.3 -25.5 1008.4 20.4 1023.4 -26.3 1038.5 22.6 1053.5 -28.3 1068.5 22.3 1083.6 -27.8 1098.7 23.6 1113.7 -30 1128.8 25.9 1143.8 -30.7 1158.8 25.4 1173.9 -30.8 1189 26.6 1204 -32.9 1219 28.4 1234.1 -32.2 1249.2 27.5 1264.2 -33 1279.2 28.1 1294.3 -33.7 1309.3 29.2 1324.4 -32.4 1339.5 27.6 1354.5 -33.4 1369.5 27.5 1384.6 -32.2 1399.7 28 1414.7 -31.2 1429.8 25.7 1444.8 -31.6 1459.9 25.1 1474.9 -29.2 1490 25.1 1505 -29.1 1520 22.6 1535.1 -28.2 1550.2 21.8 1565.2 -26.2 1580.2 21.9 1595.3 -26.7 1610.4 19.5 1625.4 -24.9 1640.5 19.2 1655.5 -24.5 1670.5 19.7 1685.6 -24.9 1700.7 17.9 1715.7 -23.3 1730.8 18.2"/>
<path class="y" d="M-2.7 0H1730.8"/>
<circle cx="298.8" cy="-30.9" r="8.2" fill="#111"/>
<circle cx="764.1" cy="-28.9" r="7.5" fill="#fff" stroke="#111" stroke-width="1.4"/><path d="M764.1 -37.1a8.2 8.2 0 0 0 0 16.4z" fill="#111"/>
<circle cx="1229.4" cy="-31.5" r="7.4" fill="none" stroke="#111" stroke-width="1.6"/>
<circle cx="1578.3" cy="-29.4" r="7.5" fill="#fff" stroke="#111" stroke-width="1.4"/><path d="M1578.3 -37.6a8.2 8.2 0 0 1 0 16.4z" fill="#111"/>
<path class="dt" d="M-7.3 -56l27.5 0M22.8 -56l18 -0.1M52.9 -56.3l27.5 -0.4M83 -56.8l18 -0.4M113.1 -57.4l27.5 -0.7M143.2 -58.2l18 -0.5M173.3 -59.1l27.5 -0.9M203.4 -60.1l27.5 -0.9M233.5 -61.1l18 -0.6M263.6 -62.1l27.5 -0.8M293.7 -63l18 -0.5M323.8 -63.8l27.5 -0.6M353.9 -64.5l18 -0.3M384 -64.9l27.5 -0.2M414.1 -65.2l18 0M444.2 -65.2l27.5 0.2M474.3 -65l18 0.2M504.4 -64.6l27.5 0.5M534.5 -64l18 0.5M564.6 -63.2l27.5 0.8M594.7 -62.3l18 0.6M624.8 -61.4l27.5 0.9M654.9 -60.4l18 0.6M685 -59.4l27.5 0.9M715.1 -58.4l18 0.5M745.2 -57.6l27.5 0.6M775.3 -56.9l18 0.3M805.4 -56.4l27.5 0.3M835.5 -56.1l18 0.1M865.6 -56l27.5 -0.1M895.7 -56.1l18 -0.2M925.8 -56.5l27.5 -0.5M955.9 -57l18 -0.4M986 -57.8l27.5 -0.8M1016.1 -58.6l18 -0.6M1046.2 -59.6l27.5 -0.9M1076.3 -60.6l27.5 -0.9M1106.4 -61.6l18 -0.6M1136.5 -62.5l27.5 -0.8M1166.6 -63.4l18 -0.4M1196.7 -64.1l27.5 -0.5M1226.8 -64.7l18 -0.2M1256.9 -65.1l27.5 -0.1M1287 -65.2l18 0M1317.1 -65.1l27.5 0.3M1347.2 -64.8l18 0.3M1377.3 -64.3l27.5 0.6M1407.4 -63.6l18 0.5M1437.5 -62.8l27.5 0.9M1467.6 -61.9l18 0.6M1497.7 -60.9l27.5 0.9M1527.8 -59.9l18 0.6M1557.9 -58.9l27.5 0.8M1588 -58l18 0.5M1618.1 -57.2l27.5 0.6M1648.2 -56.6l18 0.2M1678.3 -56.2l27.5 0.2M1708.4 -56l18 0M7.8 52.9l27 0.1M37.9 53.1l27 0.4M68 53.5l17.5 0.4M98.1 54.1l27 0.7M128.2 54.9l17.5 0.6M158.2 55.9l27 1M188.4 57l17.5 0.7M218.5 58.1l27 1M248.6 59.2l17.5 0.6M278.7 60.3l27 0.9M308.8 61.3l17.5 0.5M338.9 62.1l27 0.6M369 62.7l17.5 0.2M399.1 63.1l27 0.1M429.2 63.3l17.5 -0.1M459.2 63.2l27 -0.3M489.4 62.9l17.5 -0.3M519.5 62.3l27 -0.7M549.6 61.5l17.5 -0.5M579.6 60.6l27 -0.9M609.8 59.5l17.5 -0.7M639.9 58.4l27 -1M670 57.3l27 -1M700.1 56.2l17.5 -0.6M730.2 55.1l27 -0.8M760.2 54.3l17.5 -0.4M790.4 53.6l27 -0.4M820.5 53.1l17.5 -0.1M850.6 52.9l27 0M880.7 52.9l17.5 0.2M910.8 53.2l27 0.5M940.9 53.7l17.5 0.4M971 54.5l27 0.8M1001.1 55.4l17.5 0.6M1031.2 56.4l27 1M1061.2 57.5l17.5 0.7M1091.4 58.6l27 1M1121.5 59.8l17.5 0.6M1151.5 60.8l27 0.8M1181.7 61.7l17.5 0.4M1211.8 62.4l27 0.5M1241.9 63l17.5 0.2M1272 63.2l27 0M1302 63.3l17.5 -0.1M1332.2 63.1l27 -0.4M1362.2 62.6l17.5 -0.4M1392.4 62l27 -0.8M1422.5 61.1l17.5 -0.6M1452.6 60.1l27 -1M1482.7 59l17.5 -0.7M1512.8 57.9l27 -1M1542.9 56.7l27 -1M1573 55.7l17.5 -0.5M1603.1 54.7l27 -0.7M1633.2 53.9l17.5 -0.3M1663.2 53.4l27 -0.3M1693.4 53l17.5 -0.1M1723.5 52.9l17.5 0"/>
<g class="w" transform="scale(0.745 1)"><text x="-9.8" y="-45.5">09:07<tspan x="-9.8" dy="10.1">3m80</tspan></text><text x="30.6" y="-45.5">21:33<tspan x="30.6" dy="10.1">3m80</tspan></text><text x="71" y="-45.8">09:58<tspan x="71" dy="10.1">3m80</tspan></text><text x="111.4" y="-46.3">22:23<tspan x="111.4" dy="10.1">3m90</tspan></text><text x="151.8" y="-46.9">10:48<tspan x="151.8" dy="10.1">3m90</tspan></text><text x="192.2" y="-47.7">23:14<tspan x="192.2" dy="10.1">3m90</tspan></text><text x="232.6" y="-48.6">11:39<tspan x="232.6" dy="10.1">4m00</tspan></text><text x="273" y="-49.6">00:04<tspan x="273" dy="10.1">4m00</tspan></text><text x="313.4" y="-50.6">12:29<tspan x="313.4" dy="10.1">4m00</tspan></text><text x="353.8" y="-51.6">00:55<tspan x="353.8" dy="10.1">4m10</tspan></text><text x="394.2" y="-52.5">13:20<tspan x="394.2" dy="10.1">4m10</tspan></text><text x="434.6" y="-53.3">01:45<tspan x="434.6" dy="10.1">4m20</tspan></text><text x="475" y="-54">14:10<tspan x="475" dy="10.1">4m20</tspan></text><text x="515.4" y="-54.4">02:35<tspan x="515.4" dy="10.1">4m20</tspan></text><text x="555.8" y="-54.7">15:01<tspan x="555.8" dy="10.1">4m30</tspan></text><text x="596.2" y="-54.7">03:26<tspan x="596.2" dy="10.1">4m20</tspan></text><text x="636.6" y="-54.5">15:51<tspan x="636.6" dy="10.1">4m20</tspan></text><text x="677" y="-54.1">04:16<tspan x="677" dy="10.1">4m20</tspan></text><text x="717.4" y="-53.5">16:42<tspan x="717.4" dy="10.1">4m10</tspan></text><text x="757.9" y="-52.7">05:07<tspan x="757.9" dy="10.1">4m20</tspan></text><text x="798.3" y="-51.8">17:32<tspan x="798.3" dy="10.1">4m10</tspan></text><text x="838.7" y="-50.9">05:57<tspan x="838.7" dy="10.1">4m10</tspan></text><text x="879.1" y="-49.9">18:23<tspan x="879.1" dy="10.1">4m00</tspan></text><text x="919.5" y="-48.9">06:48<tspan x="919.5" dy="10.1">3m90</tspan></text><text x="959.9" y="-47.9">19:13<tspan x="959.9" dy="10.1">3m90</tspan></text><text x="1000.3" y="-47.1">07:38<tspan x="1000.3" dy="10.1">3m90</tspan></text><text x="1040.7" y="-46.4">20:04<tspan x="1040.7" dy="10.1">3m80</tspan></text><text x="1081.1" y="-45.9">08:29<tspan x="1081.1" dy="10.1">3m90</tspan></text><text x="1121.5" y="-45.6">20:54<tspan x="1121.5" dy="10.1">3m80</tspan></text><text x="1161.9" y="-45.5">09:19<tspan x="1161.9" dy="10.1">3m80</tspan></text><text x="1202.3" y="-45.6">21:44<tspan x="1202.3" dy="10.1">3m80</tspan></text><text x="1242.7" y="-46">10:10<tspan x="1242.7" dy="10.1">3m80</tspan></text><text x="1283.1" y="-46.5">22:35<tspan x="1283.1" dy="10.1">3m90</tspan></text><text x="1323.5" y="-47.3">11:00<tspan x="1323.5" dy="10.1">3m90</tspan></text><text x="1363.9" y="-48.1">23:25<tspan x="1363.9" dy="10.1">3m90</tspan></text><text x="1404.3" y="-49.1">11:51<tspan x="1404.3" dy="10.1">4m00</tspan></text><text x="1444.7" y="-50.1">00:16<tspan x="1444.7" dy="10.1">4m00</tspan></text><text x="1485.1" y="-51.1">12:41<tspan x="1485.1" dy="10.1">4m10</tspan></text><text x="1525.5" y="-52">01:06<tspan x="1525.5" dy="10.1">4m10</tspan></text><text x="1565.9" y="-52.9">13:32<tspan x="1565.9" dy="10.1">4m10</tspan></text><text x="1606.3" y="-53.6">01:57<tspan x="1606.3" dy="10.1">4m20</tspan></text><text x="1646.7" y="-54.2">14:22<tspan x="1646.7" dy="10.1">4m20</tspan></text><text x="1687.1" y="-54.6">02:47<tspan x="1687.1" dy="10.1">4m20</tspan></text><text x="1727.5" y="-54.7">15:13<tspan x="1727.5" dy="10.1">4m30</tspan></text><text x="1767.9" y="-54.6">03:38<tspan x="1767.9" dy="10.1">4m20</tspan></text><text x="1808.3" y="-54.3">16:03<tspan x="1808.3" dy="10.1">4m30</tspan></text><text x="1848.7" y="-53.8">04:28<tspan x="1848.7" dy="10.1">4m20</tspan></text><text x="1889.1" y="-53.1">16:54<tspan x="1889.1" dy="10.1">4m10</tspan></text><text x="1929.5" y="-52.3">05:19<tspan x="1929.5" dy="10.1">4m20</tspan></text><text x="1969.9" y="-51.4">17:44<tspan x="1969.9" dy="10.1">4m00</tspan></text><text x="2010.3" y="-50.4">06:09<tspan x="2010.3" dy="10.1">4m00</tspan></text><text x="2050.7" y="-49.4">18:34<tspan x="2050.7" dy="10.1">4m00</tspan></text><text x="2091.1" y="-48.4">07:00<tspan x="2091.1" dy="10.1">3m90</tspan></text><text x="2131.5" y="-47.5">19:25<tspan x="2131.5" dy="10.1">3m90</tspan></text><text x="2171.9" y="-46.7">07:50<tspan x="2171.9" dy="10.1">3m80</tspan></text><text x="2212.3" y="-46.1">20:15<tspan x="2212.3" dy="10.1">3m80</tspan></text><text x="2252.8" y="-45.7">08:41<tspan x="2252.8" dy="10.1">3m80</tspan></text><text x="2293.2" y="-45.5">21:06<tspan x="2293.2" dy="10.1">3m80</tspan></text><text x="10.4" y="40.2">1m00<tspan x="10.4" dy="10.1">15:20</tspan></text><text x="50.8" y="40.4">1m00<tspan x="50.8" dy="10.1">03:45</tspan></text><text x="91.2" y="40.8">1m00<tspan x="91.2" dy="10.1">16:11</tspan></text><text x="131.6" y="41.4">0m90<tspan x="131.6" dy="10.1">04:36</tspan></text><text x="172" y="42.2">0m90<tspan x="172" dy="10.1">17:01</tspan></text><text x="212.4" y="43.2">0m90<tspan x="212.4" dy="10.1">05:26</tspan></text><text x="252.8" y="44.3">0m80<tspan x="252.8" dy="10.1">17:51</tspan></text><text x="293.2" y="45.4">0m80<tspan x="293.2" dy="10.1">06:17</tspan></text><text x="333.6" y="46.5">0m70<tspan x="333.6" dy="10.1">18:42</tspan></text><text x="374" y="47.6">0m70<tspan x="374" dy="10.1">07:07</tspan></text><text x="414.4" y="48.6">0m70<tspan x="414.4" dy="10.1">19:32</tspan></text><text x="454.8" y="49.4">0m60<tspan x="454.8" dy="10.1">07:58</tspan></text><text x="495.2" y="50">0m60<tspan x="495.2" dy="10.1">20:23</tspan></text><text x="535.6" y="50.4">0m60<tspan x="535.6" dy="10.1">08:48</tspan></text><text x="576" y="50.6">0m50<tspan x="576" dy="10.1">21:13</tspan></text><text x="616.4" y="50.5">0m50<tspan x="616.4" dy="10.1">09:39</tspan></text><text x="656.8" y="50.2">0m60<tspan x="656.8" dy="10.1">22:04</tspan></text><text x="697.2" y="49.6">0m60<tspan x="697.2" dy="10.1">10:29</tspan></text><text x="737.7" y="48.8">0m60<tspan x="737.7" dy="10.1">22:54</tspan></text><text x="778.1" y="47.9">0m70<tspan x="778.1" dy="10.1">11:20</tspan></text><text x="818.5" y="46.8">0m70<tspan x="818.5" dy="10.1">23:45</tspan></text><text x="858.9" y="45.7">0m80<tspan x="858.9" dy="10.1">12:10</tspan></text><text x="899.3" y="44.6">0m90<tspan x="899.3" dy="10.1">00:35</tspan></text><text x="939.7" y="43.5">0m80<tspan x="939.7" dy="10.1">13:00</tspan></text><text x="980.1" y="42.4">0m90<tspan x="980.1" dy="10.1">01:26</tspan></text><text x="1020.5" y="41.6">1m00<tspan x="1020.5" dy="10.1">13:51</tspan></text><text x="1060.9" y="40.9">0m90<tspan x="1060.9" dy="10.1">02:16</tspan></text><text x="1101.3" y="40.4">1m00<tspan x="1101.3" dy="10.1">14:41</tspan></text><text x="1141.7" y="40.2">1m00<tspan x="1141.7" dy="10.1">03:07</tspan></text><text x="1182.1" y="40.2">1m00<tspan x="1182.1" dy="10.1">15:32</tspan></text><text x="1222.5" y="40.5">1m00<tspan x="1222.5" dy="10.1">03:57</tspan></text><text x="1262.9" y="41">1m00<tspan x="1262.9" dy="10.1">16:22</tspan></text><text x="1303.3" y="41.8">0m90<tspan x="1303.3" dy="10.1">04:48</tspan></text><text x="1343.7" y="42.7">0m90<tspan x="1343.7" dy="10.1">17:13</tspan></text><text x="1384.1" y="43.7">0m90<tspan x="1384.1" dy="10.1">05:38</tspan></text><text x="1424.5" y="44.8">0m80<tspan x="1424.5" dy="10.1">18:03</tspan></text><text x="1464.9" y="45.9">0m70<tspan x="1464.9" dy="10.1">06:29</tspan></text><text x="1505.3" y="47.1">0m70<tspan x="1505.3" dy="10.1">18:54</tspan></text><text x="1545.7" y="48.1">0m60<tspan x="1545.7" dy="10.1">07:19</tspan></text><text x="1586.1" y="49">0m60<tspan x="1586.1" dy="10.1">19:44</tspan></text><text x="1626.5" y="49.7">0m60<tspan x="1626.5" dy="10.1">08:09</tspan></text><text x="1666.9" y="50.3">0m60<tspan x="1666.9" dy="10.1">20:35</tspan></text><text x="1707.3" y="50.5">0m60<tspan x="1707.3" dy="10.1">09:00</tspan></text><text x="1747.7" y="50.6">0m60<tspan x="1747.7" dy="10.1">21:25</tspan></text><text x="1788.1" y="50.4">0m50<tspan x="1788.1" dy="10.1">09:50</tspan></text><text x="1828.5" y="49.9">0m60<tspan x="1828.5" dy="10.1">22:16</tspan></text><text x="1868.9" y="49.3">0m70<tspan x="1868.9" dy="10.1">10:41</tspan></text><text x="1909.3" y="48.4">0m60<tspan x="1909.3" dy="10.1">23:06</tspan></text><text x="1949.7" y="47.4">0m70<tspan x="1949.7" dy="10.1">11:31</tspan></text><text x="1990.1" y="46.3">0m80<tspan x="1990.1" dy="10.1">23:57</tspan></text><text x="2030.5" y="45.2">0m80<tspan x="2030.5" dy="10.1">12:22</tspan></text><text x="2070.9" y="44">0m80<tspan x="2070.9" dy="10.1">00:47</tspan></text><text x="2111.3" y="43">0m90<tspan x="2111.3" dy="10.1">13:12</tspan></text><text x="2151.7" y="42">0m90<tspan x="2151.7" dy="10.1">01:38</tspan></text><text x="2192.1" y="41.2">0m90<tspan x="2192.1" dy="10.1">14:03</tspan></text><text x="2232.6" y="40.7">1m00<tspan x="2232.6" dy="10.1">02:28</tspan></text><text x="2273" y="40.3">1m00<tspan x="2273" dy="10.1">14:53</tspan></text><text x="2313.4" y="40.2">1m00<tspan x="2313.4" dy="10.1">03:18</tspan></text></g>
<g class="d" transform="scale(0.62 1)"><text x="-11.8" y="-58.4">S 1</text><text x="85.3" y="-58.7">S 2</text><text x="182.4" y="-59.8">M 3</text><text x="279.5" y="-61.5">D 4</text><text x="328.1" y="-62.5">M 5</text><text x="425.2" y="-64.5">D 6</text><text x="522.3" y="-66.2">F 7</text><text x="619.4" y="-67.3">S 8</text><text x="716.5" y="-67.6">S 9</text><text x="813.5" y="-67">M 10</text><text x="910.6" y="-65.6">D 11</text><text x="1007.7" y="-63.8">M 12</text><text x="1104.8" y="-61.8">D 13</text><text x="1201.9" y="-60">F 14</text><text x="1299" y="-58.8">S 15</text><text x="1396.1" y="-58.4">S 16</text><text x="1493.2" y="-58.9">M 17</text><text x="1590.3" y="-60.2">D 18</text><text x="1687.4" y="-62">M 19</text><text x="1736" y="-63">D 20</text><text x="1833.1" y="-64.9">F 21</text><text x="1930.2" y="-66.5">S 22</text><text x="2027.3" y="-67.5">S 23</text><text x="2124.4" y="-67.5">M 24</text><text x="2221.5" y="-66.7">D 25</text><text x="2318.5" y="-65.2">M 26</text><text x="2415.6" y="-63.3">D 27</text><text x="2512.7" y="-61.3">F 28</text><text x="2609.8" y="-59.6">S 29</text><text x="2706.9" y="-58.6">S 30</text><text x="12.5" y="69.2">S 1</text><text x="61" y="69.4">S 2</text><text x="158.1" y="70.4">M 3</text><text x="255.2" y="72.2">D 4</text><text x="352.3" y="74.4">M 5</text><text x="449.4" y="76.6">D 6</text><text x="546.5" y="78.4">F 7</text><text x="643.6" y="79.4">S 8</text><text x="740.7" y="79.5">S 9</text><text x="837.8" y="78.6">M 10</text><text x="934.9" y="76.9">D 11</text><text x="1032" y="74.7">M 12</text><text x="1080.6" y="73.6">D 13</text><text x="1177.7" y="71.4">F 14</text><text x="1274.8" y="69.9">S 15</text><text x="1371.9" y="69.2">S 16</text><text x="1469" y="69.5">M 17</text><text x="1566" y="70.8">D 18</text><text x="1663.1" y="72.7">M 19</text><text x="1760.2" y="74.9">D 20</text><text x="1857.3" y="77.1">F 21</text><text x="1954.4" y="78.7">S 22</text><text x="2051.5" y="79.5">S 23</text><text x="2148.6" y="79.4">M 24</text><text x="2245.7" y="78.3">D 25</text><text x="2342.8" y="76.4">M 26</text><text x="2439.9" y="74.2">D 27</text><text x="2488.5" y="73">F 28</text><text x="2585.6" y="71">S 29</text><text x="2682.7" y="69.7">S 30</text></g>
<g class="h" transform="scale(0.63 1)"><text x="-50.3" y="-53.4" text-anchor="end">HOCHWASSER</text><text x="-23.5" y="-53.4" text-anchor="end">ZEIT</text><text x="-23.5" y="-43.5" text-anchor="end">HÖHE</text><text x="-32.4" y="47.3" text-anchor="end">NIEDRIGWASSER</text><text x="-0.8" y="47.3" text-anchor="end">HÖHE</text><text x="-0.8" y="57.7" text-anchor="end">ZEIT</text></g>
</g>
<text class="mo" x="383.8" y="488.5" text-anchor="middle" letter-spacing="0.5">JULI</text>
<g class="pr" transform="translate(229 508.4) scale(0.2233)">
<path class="z" d="M0 -24.5 15.1 19.4 30.1 -24.3 45.2 18.6 60.2 -24.2 75.2 19 90.3 -26.1 105.4 21.2 120.4 -25.5 135.5 20.9 150.5 -27.2 165.6 21.7 180.6 -28.5 195.7 24.2 210.7 -28.3 225.8 24.1 240.8 -30.7 255.9 25 270.9 -30.7 286 27.3 301 -31.5 316.1 26.8 331.1 -33.1 346.2 27.3 361.2 -32.2 376.3 29.1 391.3 -33.5 406.4 28 421.4 -33.4 436.5 27.8 451.5 -32.4 466.6 28.9 481.6 -33.4 496.7 27.1 511.7 -31.5 526.8 26.3 541.8 -31.2 556.9 26.7 571.9 -31 586.9 24.4 602 -28.7 617 23.3 632.1 -29 647.1 23.5 662.2 -27.3 677.2 21.2 692.3 -26 707.4 20.2 722.4 -26.4 737.5 20.7 752.5 -24.3 767.5 18.7 782.6 -24.6 797.6 18.2 812.7 -24.4 827.8 19.3 842.8 -23.3 857.9 18 872.9 -24.8 888 18.3 903 -24.1 918 20 933.1 -24.8 948.1 19.4 963.2 -26.4 978.2 20.3 993.3 -25.8 1008.4 22.6 1023.4 -28 1038.5 22.3 1053.5 -28.6 1068.5 23.5 1083.6 -28.9 1098.7 25.8 1113.7 -31.3 1128.8 25.4 1143.8 -30.8 1158.8 26.4 1173.9 -32.1 1189 28.4 1204 -33.1 1219 27.5 1234.1 -32.3 1249.2 28 1264.2 -33.8 1279.2 29.3 1294.3 -32.9 1309.3 27.7 1324.4 -32.5 1339.5 27.4 1354.5 -33.1 1369.5 28 1384.6 -31 1399.7 25.8 1414.7 -31.2 1429.8 25 1444.8 -30.2 1459.9 25.2 1474.9 -28.3 1490 22.7 1505 -28.7 1520 21.8 1535.1 -26.5 1550.2 22 1565.2 -26 1580.2 19.7 1595.3 -25.9 1610.4 19.1 1625.4 -23.9 1640.5 19.7 1655.5 -24.8 1670.5 18 1685.6 -24 1700.7 18.1 1715.7 -23.5 1730.8 19.4 1745.8 -25 1760.9 18.3 1775.9 -24.1 1791 19.2"/>
<path class="y" d="M-2.7 0H1791"/>
<circle cx="297.8" cy="-31.2" r="8.2" fill="#111"/>
<circle cx="763.1" cy="-28.7" r="7.5" fill="#fff" stroke="#111" stroke-width="1.4"/><path d="M763.1 -36.9a8.2 8.2 0 0 0 0 16.4z" fill="#111"/>
<circle cx="1170.2" cy="-31.3" r="7.4" fill="none" stroke="#111" stroke-width="1.6"/>
<circle cx="1577.4" cy="-29.1" r="7.5" fill="#fff" stroke="#111" stroke-width="1.4"/><path d="M1577.4 -37.3a8.2 8.2 0 0 1 0 16.4z" fill="#111"/>
<path class="dt" d="M-7.3 -56l27.5 -0.2M22.8 -56.3l18 -0.3M52.9 -56.7l27.5 -0.6M83 -57.4l18 -0.5M113.1 -58.1l27.5 -0.8M143.2 -59.1l18 -0.6M173.3 -60l27.5 -0.9M203.4 -61.1l27.5 -0.9M233.5 -62l18 -0.5M263.6 -63l27.5 -0.7M293.7 -63.8l18 -0.4M323.8 -64.4l27.5 -0.4M353.9 -64.9l18 -0.2M384 -65.1l27.5 0M414.1 -65.2l18 0.1M444.2 -65l27.5 0.4M474.3 -64.6l18 0.4M504.4 -64l27.5 0.7M534.5 -63.3l18 0.5M564.6 -62.4l27.5 0.9M594.7 -61.4l18 0.6M624.8 -60.4l27.5 0.9M654.9 -59.4l18 0.6M685 -58.5l27.5 0.8M715.1 -57.6l18 0.4M745.2 -56.9l27.5 0.5M775.3 -56.4l18 0.2M805.4 -56.1l27.5 0.1M835.5 -56l18 -0.1M865.6 -56.1l27.5 -0.3M895.7 -56.5l18 -0.3M925.8 -57l27.5 -0.7M955.9 -57.7l18 -0.5M986 -58.6l27.5 -0.9M1016.1 -59.5l18 -0.6M1046.2 -60.5l27.5 -0.9M1076.3 -61.5l27.5 -0.9M1106.4 -62.5l18 -0.5M1136.5 -63.4l27.5 -0.7M1166.6 -64.1l18 -0.3M1196.7 -64.7l27.5 -0.3M1226.8 -65l18 -0.1M1256.9 -65.2l27.5 0.1M1287 -65.1l18 0.2M1317.1 -64.8l27.5 0.4M1347.2 -64.4l18 0.4M1377.3 -63.7l27.5 0.7M1407.4 -62.9l18 0.6M1437.5 -61.9l27.5 0.9M1467.6 -61l18 0.6M1497.7 -59.9l27.5 0.9M1527.8 -59l18 0.5M1557.9 -58.1l27.5 0.7M1588 -57.3l18 0.4M1618.1 -56.7l27.5 0.4M1648.2 -56.2l18 0.1M1678.3 -56l27.5 0M1708.4 -56l18 -0.1M1738.5 -56.3l27.5 -0.4M1768.6 -56.7l18 0M7.8 53l27 0.3M37.9 53.4l27 0.6M68 54l17.5 0.5M98.1 54.9l27 0.9M128.2 55.8l17.5 0.6M158.2 56.9l27 1M188.4 58l17.5 0.7M218.5 59.2l27 1M248.6 60.3l17.5 0.6M278.7 61.2l27 0.7M308.8 62.1l17.5 0.4M338.9 62.7l27 0.4M369 63.1l17.5 0.1M399.1 63.3l27 -0.1M429.2 63.2l17.5 -0.2M459.2 62.9l27 -0.5M489.4 62.3l17.5 -0.4M519.5 61.6l27 -0.8M549.6 60.6l17.5 -0.6M579.6 59.6l27 -1M609.8 58.5l27 -1M639.9 57.3l17.5 -0.6M670 56.2l27 -0.9M700.1 55.2l17.5 -0.5M730.2 54.3l27 -0.6M760.2 53.6l17.5 -0.3M790.4 53.2l27 -0.2M820.5 52.9l17.5 0M850.6 52.9l27 0.2M880.7 53.2l17.5 0.3M910.8 53.7l27 0.6M940.9 54.4l17.5 0.5M971 55.3l27 0.9M1001.1 56.3l17.5 0.6M1031.2 57.4l27 1M1061.2 58.6l17.5 0.7M1091.4 59.7l27 0.9M1121.5 60.7l17.5 0.5M1151.5 61.7l27 0.7M1181.7 62.4l17.5 0.3M1211.8 62.9l27 0.3M1241.9 63.2l17.5 0M1272 63.3l27 -0.2M1302 63.1l17.5 -0.3M1332.2 62.7l27 -0.6M1362.2 62l17.5 -0.5M1392.4 61.2l27 -0.9M1422.5 60.2l17.5 -0.6M1452.6 59.1l27 -1M1482.7 57.9l27 -1M1512.8 56.8l17.5 -0.6M1542.9 55.7l27 -0.9M1573 54.8l17.5 -0.5M1603.1 54l27 -0.5M1633.2 53.4l17.5 -0.2M1663.2 53l27 -0.1M1693.4 52.9l17.5 0.1M1723.5 53l27 0.3M1753.6 53.4l17.5 0.3M1783.7 54l17.5 0"/>
<g class="w" transform="scale(0.745 1)"><text x="-9.8" y="-45.5">09:31<tspan x="-9.8" dy="10.1">3m80</tspan></text><text x="30.6" y="-45.8">21:56<tspan x="30.6" dy="10.1">3m80</tspan></text><text x="71" y="-46.2">10:22<tspan x="71" dy="10.1">3m80</tspan></text><text x="111.4" y="-46.9">22:47<tspan x="111.4" dy="10.1">3m90</tspan></text><text x="151.8" y="-47.6">11:12<tspan x="151.8" dy="10.1">3m90</tspan></text><text x="192.2" y="-48.6">23:37<tspan x="192.2" dy="10.1">4m00</tspan></text><text x="232.6" y="-49.5">12:03<tspan x="232.6" dy="10.1">4m00</tspan></text><text x="273" y="-50.6">00:28<tspan x="273" dy="10.1">4m00</tspan></text><text x="313.4" y="-51.5">12:53<tspan x="313.4" dy="10.1">4m10</tspan></text><text x="353.8" y="-52.5">01:18<tspan x="353.8" dy="10.1">4m10</tspan></text><text x="394.2" y="-53.3">13:43<tspan x="394.2" dy="10.1">4m20</tspan></text><text x="434.6" y="-53.9">02:09<tspan x="434.6" dy="10.1">4m20</tspan></text><text x="475" y="-54.4">14:34<tspan x="475" dy="10.1">4m20</tspan></text><text x="515.4" y="-54.6">02:59<tspan x="515.4" dy="10.1">4m30</tspan></text><text x="555.8" y="-54.7">15:24<tspan x="555.8" dy="10.1">4m20</tspan></text><text x="596.2" y="-54.5">03:50<tspan x="596.2" dy="10.1">4m20</tspan></text><text x="636.6" y="-54.1">16:15<tspan x="636.6" dy="10.1">4m30</tspan></text><text x="677" y="-53.5">04:40<tspan x="677" dy="10.1">4m20</tspan></text><text x="717.4" y="-52.8">17:05<tspan x="717.4" dy="10.1">4m10</tspan></text><text x="757.9" y="-51.9">05:31<tspan x="757.9" dy="10.1">4m10</tspan></text><text x="798.3" y="-50.9">17:56<tspan x="798.3" dy="10.1">4m00</tspan></text><text x="838.7" y="-49.9">06:21<tspan x="838.7" dy="10.1">4m00</tspan></text><text x="879.1" y="-48.9">18:46<tspan x="879.1" dy="10.1">4m00</tspan></text><text x="919.5" y="-48">07:12<tspan x="919.5" dy="10.1">3m90</tspan></text><text x="959.9" y="-47.1">19:37<tspan x="959.9" dy="10.1">3m90</tspan></text><text x="1000.3" y="-46.4">08:02<tspan x="1000.3" dy="10.1">3m80</tspan></text><text x="1040.7" y="-45.9">20:27<tspan x="1040.7" dy="10.1">3m80</tspan></text><text x="1081.1" y="-45.6">08:52<tspan x="1081.1" dy="10.1">3m80</tspan></text><text x="1121.5" y="-45.5">21:18<tspan x="1121.5" dy="10.1">3m80</tspan></text><text x="1161.9" y="-45.6">09:43<tspan x="1161.9" dy="10.1">3m80</tspan></text><text x="1202.3" y="-46">22:08<tspan x="1202.3" dy="10.1">3m80</tspan></text><text x="1242.7" y="-46.5">10:33<tspan x="1242.7" dy="10.1">3m80</tspan></text><text x="1283.1" y="-47.2">22:59<tspan x="1283.1" dy="10.1">3m90</tspan></text><text x="1323.5" y="-48.1">11:24<tspan x="1323.5" dy="10.1">3m90</tspan></text><text x="1363.9" y="-49">23:49<tspan x="1363.9" dy="10.1">4m00</tspan></text><text x="1404.3" y="-50">12:14<tspan x="1404.3" dy="10.1">4m00</tspan></text><text x="1444.7" y="-51">00:40<tspan x="1444.7" dy="10.1">4m00</tspan></text><text x="1485.1" y="-52">13:05<tspan x="1485.1" dy="10.1">4m20</tspan></text><text x="1525.5" y="-52.9">01:30<tspan x="1525.5" dy="10.1">4m10</tspan></text><text x="1565.9" y="-53.6">13:55<tspan x="1565.9" dy="10.1">4m20</tspan></text><text x="1606.3" y="-54.2">02:21<tspan x="1606.3" dy="10.1">4m20</tspan></text><text x="1646.7" y="-54.5">14:46<tspan x="1646.7" dy="10.1">4m20</tspan></text><text x="1687.1" y="-54.7">03:11<tspan x="1687.1" dy="10.1">4m30</tspan></text><text x="1727.5" y="-54.6">15:36<tspan x="1727.5" dy="10.1">4m20</tspan></text><text x="1767.9" y="-54.3">04:01<tspan x="1767.9" dy="10.1">4m20</tspan></text><text x="1808.3" y="-53.9">16:27<tspan x="1808.3" dy="10.1">4m20</tspan></text><text x="1848.7" y="-53.2">04:52<tspan x="1848.7" dy="10.1">4m10</tspan></text><text x="1889.1" y="-52.4">17:17<tspan x="1889.1" dy="10.1">4m10</tspan></text><text x="1929.5" y="-51.4">05:42<tspan x="1929.5" dy="10.1">4m10</tspan></text><text x="1969.9" y="-50.5">18:08<tspan x="1969.9" dy="10.1">4m00</tspan></text><text x="2010.3" y="-49.4">06:33<tspan x="2010.3" dy="10.1">4m00</tspan></text><text x="2050.7" y="-48.5">18:58<tspan x="2050.7" dy="10.1">3m90</tspan></text><text x="2091.1" y="-47.6">07:23<tspan x="2091.1" dy="10.1">3m90</tspan></text><text x="2131.5" y="-46.8">19:49<tspan x="2131.5" dy="10.1">3m90</tspan></text><text x="2171.9" y="-46.2">08:14<tspan x="2171.9" dy="10.1">3m80</tspan></text><text x="2212.3" y="-45.7">20:39<tspan x="2212.3" dy="10.1">3m80</tspan></text><text x="2252.8" y="-45.5">09:04<tspan x="2252.8" dy="10.1">3m80</tspan></text><text x="2293.2" y="-45.5">21:30<tspan x="2293.2" dy="10.1">3m80</tspan></text><text x="2333.6" y="-45.8">09:55<tspan x="2333.6" dy="10.1">3m90</tspan></text><text x="2374" y="-46.2">22:20<tspan x="2374" dy="10.1">3m80</tspan></text><text x="10.4" y="40.3">1m00<tspan x="10.4" dy="10.1">15:44</tspan></text><text x="50.8" y="40.7">1m00<tspan x="50.8" dy="10.1">04:09</tspan></text><text x="91.2" y="41.3">0m90<tspan x="91.2" dy="10.1">16:34</tspan></text><text x="131.6" y="42.2">1m00<tspan x="131.6" dy="10.1">04:59</tspan></text><text x="172" y="43.1">0m90<tspan x="172" dy="10.1">17:25</tspan></text><text x="212.4" y="44.2">0m80<tspan x="212.4" dy="10.1">05:50</tspan></text><text x="252.8" y="45.3">0m80<tspan x="252.8" dy="10.1">18:15</tspan></text><text x="293.2" y="46.5">0m70<tspan x="293.2" dy="10.1">06:40</tspan></text><text x="333.6" y="47.6">0m70<tspan x="333.6" dy="10.1">19:06</tspan></text><text x="374" y="48.5">0m70<tspan x="374" dy="10.1">07:31</tspan></text><text x="414.4" y="49.4">0m60<tspan x="414.4" dy="10.1">19:56</tspan></text><text x="454.8" y="50">0m60<tspan x="454.8" dy="10.1">08:21</tspan></text><text x="495.2" y="50.4">0m60<tspan x="495.2" dy="10.1">20:47</tspan></text><text x="535.6" y="50.6">0m50<tspan x="535.6" dy="10.1">09:12</tspan></text><text x="576" y="50.5">0m50<tspan x="576" dy="10.1">21:37</tspan></text><text x="616.4" y="50.2">0m60<tspan x="616.4" dy="10.1">10:02</tspan></text><text x="656.8" y="49.6">0m60<tspan x="656.8" dy="10.1">22:27</tspan></text><text x="697.2" y="48.9">0m60<tspan x="697.2" dy="10.1">10:53</tspan></text><text x="737.7" y="47.9">0m70<tspan x="737.7" dy="10.1">23:18</tspan></text><text x="778.1" y="46.9">0m70<tspan x="778.1" dy="10.1">11:43</tspan></text><text x="818.5" y="45.8">0m70<tspan x="818.5" dy="10.1">00:08</tspan></text><text x="858.9" y="44.6">0m80<tspan x="858.9" dy="10.1">12:34</tspan></text><text x="899.3" y="43.5">0m80<tspan x="899.3" dy="10.1">00:59</tspan></text><text x="939.7" y="42.5">0m90<tspan x="939.7" dy="10.1">13:24</tspan></text><text x="980.1" y="41.6">1m00<tspan x="980.1" dy="10.1">01:49</tspan></text><text x="1020.5" y="40.9">1m00<tspan x="1020.5" dy="10.1">14:15</tspan></text><text x="1060.9" y="40.5">1m00<tspan x="1060.9" dy="10.1">02:40</tspan></text><text x="1101.3" y="40.2">1m00<tspan x="1101.3" dy="10.1">15:05</tspan></text><text x="1141.7" y="40.2">1m00<tspan x="1141.7" dy="10.1">03:30</tspan></text><text x="1182.1" y="40.5">1m00<tspan x="1182.1" dy="10.1">15:56</tspan></text><text x="1222.5" y="41">1m00<tspan x="1222.5" dy="10.1">04:21</tspan></text><text x="1262.9" y="41.7">0m90<tspan x="1262.9" dy="10.1">16:46</tspan></text><text x="1303.3" y="42.6">0m90<tspan x="1303.3" dy="10.1">05:11</tspan></text><text x="1343.7" y="43.6">0m90<tspan x="1343.7" dy="10.1">17:37</tspan></text><text x="1384.1" y="44.7">0m80<tspan x="1384.1" dy="10.1">06:02</tspan></text><text x="1424.5" y="45.9">0m70<tspan x="1424.5" dy="10.1">18:27</tspan></text><text x="1464.9" y="47">0m70<tspan x="1464.9" dy="10.1">06:52</tspan></text><text x="1505.3" y="48">0m60<tspan x="1505.3" dy="10.1">19:17</tspan></text><text x="1545.7" y="49">0m60<tspan x="1545.7" dy="10.1">07:43</tspan></text><text x="1586.1" y="49.7">0m60<tspan x="1586.1" dy="10.1">20:08</tspan></text><text x="1626.5" y="50.2">0m60<tspan x="1626.5" dy="10.1">08:33</tspan></text><text x="1666.9" y="50.5">0m50<tspan x="1666.9" dy="10.1">20:58</tspan></text><text x="1707.3" y="50.6">0m60<tspan x="1707.3" dy="10.1">09:24</tspan></text><text x="1747.7" y="50.4">0m50<tspan x="1747.7" dy="10.1">21:49</tspan></text><text x="1788.1" y="50">0m60<tspan x="1788.1" dy="10.1">10:14</tspan></text><text x="1828.5" y="49.3">0m60<tspan x="1828.5" dy="10.1">22:39</tspan></text><text x="1868.9" y="48.5">0m60<tspan x="1868.9" dy="10.1">11:05</tspan></text><text x="1909.3" y="47.5">0m70<tspan x="1909.3" dy="10.1">23:30</tspan></text><text x="1949.7" y="46.4">0m80<tspan x="1949.7" dy="10.1">11:55</tspan></text><text x="1990.1" y="45.2">0m80<tspan x="1990.1" dy="10.1">00:20</tspan></text><text x="2030.5" y="44.1">0m80<tspan x="2030.5" dy="10.1">12:46</tspan></text><text x="2070.9" y="43">0m90<tspan x="2070.9" dy="10.1">01:11</tspan></text><text x="2111.3" y="42.1">0m90<tspan x="2111.3" dy="10.1">13:36</tspan></text><text x="2151.7" y="41.3">0m90<tspan x="2151.7" dy="10.1">02:01</tspan></text><text x="2192.1" y="40.7">1m00<tspan x="2192.1" dy="10.1">14:26</tspan></text><text x="2232.6" y="40.3">1m00<tspan x="2232.6" dy="10.1">02:52</tspan></text><text x="2273" y="40.2">1m00<tspan x="2273" dy="10.1">15:17</tspan></text><text x="2313.4" y="40.3">1m00<tspan x="2313.4" dy="10.1">03:42</tspan></text><text x="2353.8" y="40.7">1m00<tspan x="2353.8" dy="10.1">16:07</tspan></text><text x="2394.2" y="41.3">0m90<tspan x="2394.2" dy="10.1">04:33</tspan></text></g>
<g class="d" transform="scale(0.62 1)"><text x="-11.8" y="-58.4">M 1</text><text x="85.3" y="-59.1">D 2</text><text x="182.4" y="-60.5">M 3</text><text x="279.5" y="-62.4">D 4</text><text x="328.1" y="-63.5">F 5</text><text x="425.2" y="-65.4">S 6</text><text x="522.3" y="-66.8">S 7</text><text x="619.4" y="-67.5">M 8</text><text x="716.5" y="-67.4">D 9</text><text x="813.5" y="-66.4">M 10</text><text x="910.6" y="-64.8">D 11</text><text x="1007.7" y="-62.8">F 12</text><text x="1104.8" y="-60.9">S 13</text><text x="1201.9" y="-59.3">S 14</text><text x="1299" y="-58.5">M 15</text><text x="1396.1" y="-58.5">D 16</text><text x="1493.2" y="-59.4">M 17</text><text x="1590.3" y="-61">D 18</text><text x="1687.4" y="-62.9">F 19</text><text x="1736" y="-63.9">S 20</text><text x="1833.1" y="-65.8">S 21</text><text x="1930.2" y="-67.1">M 22</text><text x="2027.3" y="-67.6">D 23</text><text x="2124.4" y="-67.2">M 24</text><text x="2221.5" y="-66.1">D 25</text><text x="2318.5" y="-64.3">F 26</text><text x="2415.6" y="-62.3">S 27</text><text x="2512.7" y="-60.5">S 28</text><text x="2609.8" y="-59.1">M 29</text><text x="2706.9" y="-58.4">D 30</text><text x="2804" y="-58.7">M 31</text><text x="12.5" y="69.3">M 1</text><text x="61" y="69.7">D 2</text><text x="158.1" y="71.2">M 3</text><text x="255.2" y="73.2">D 4</text><text x="352.3" y="75.5">F 5</text><text x="449.4" y="77.5">S 6</text><text x="546.5" y="79">S 7</text><text x="643.6" y="79.6">M 8</text><text x="740.7" y="79.2">D 9</text><text x="837.8" y="77.9">M 10</text><text x="934.9" y="75.9">D 11</text><text x="983.5" y="74.8">F 12</text><text x="1080.6" y="72.5">S 13</text><text x="1177.7" y="70.6">S 14</text><text x="1274.8" y="69.5">M 15</text><text x="1371.9" y="69.2">D 16</text><text x="1469" y="70">M 17</text><text x="1566" y="71.6">D 18</text><text x="1663.1" y="73.7">F 19</text><text x="1760.2" y="76">S 20</text><text x="1857.3" y="78">S 21</text><text x="1954.4" y="79.2">M 22</text><text x="2051.5" y="79.6">D 23</text><text x="2148.6" y="79">M 24</text><text x="2245.7" y="77.5">D 25</text><text x="2342.8" y="75.4">F 26</text><text x="2391.4" y="74.2">S 27</text><text x="2488.5" y="72">S 28</text><text x="2585.6" y="70.3">M 29</text><text x="2682.7" y="69.3">D 30</text><text x="2779.8" y="69.3">M 31</text></g>
<g class="h" transform="scale(0.63 1)"><text x="-50.3" y="-53.4" text-anchor="end">HOCHWASSER</text><text x="-23.5" y="-53.4" text-anchor="end">ZEIT</text><text x="-23.5" y="-43.5" text-anchor="end">HÖHE</text><text x="-32.4" y="47.3" text-anchor="end">NIEDRIGWASSER</text><text x="-0.8" y="47.3" text-anchor="end">HÖHE</text><text x="-0.8" y="57.7" text-anchor="end">ZEIT</text></g>
</g>
<text class="mo" x="377.6" y="532.7" text-anchor="middle" letter-spacing="0.5">AUGUST</text>
<g class="pr" transform="translate(229 552.6) scale(0.2233)">
<path class="z" d="M0 -26.1 15.1 20 30.1 -25.5 45.2 20.6 60.2 -27.2 75.2 23 90.3 -28.4 105.4 23 120.4 -28.3 135.5 23.8 150.5 -30.7 165.6 26.3 180.6 -30.6 195.7 26.1 210.7 -31.5 225.8 26.6 240.8 -33.1 255.9 28.7 270.9 -32.1 286 27.9 301 -33.6 316.1 27.8 331.1 -33.3 346.2 29.2 361.2 -32.4 376.3 27.7 391.3 -33.4 406.4 27 421.4 -31.5 436.5 27.7 451.5 -31.3 466.6 25.6 481.6 -31 496.7 24.4 511.7 -28.7 526.8 24.7 541.8 -29.1 556.9 22.4 571.9 -27.3 586.9 21.1 602 -26.1 617 21.5 632.1 -26.4 647.1 19.5 662.2 -24.3 677.2 18.6 692.3 -24.7 707.4 19.5 722.4 -24.4 737.5 18.1 752.5 -23.3 767.5 17.9 782.6 -24.8 797.6 19.5 812.7 -24 827.8 18.8 842.8 -24.8 857.9 19.3 872.9 -26.3 888 21.5 903 -25.7 918 21.2 933.1 -28 948.1 22.2 963.2 -28.5 978.2 24.7 993.3 -28.9 1008.4 24.5 1023.4 -31.2 1038.5 25.4 1053.5 -30.7 1068.5 27.6 1083.6 -32.2 1098.7 27.1 1113.7 -33.1 1128.8 27.6 1143.8 -32.3 1158.8 29.2 1173.9 -33.9 1189 28 1204 -32.9 1219 27.8 1234.1 -32.6 1249.2 28.7 1264.2 -33.1 1279.2 26.8 1294.3 -31 1309.3 26 1324.4 -31.3 1339.5 26.3 1354.5 -30.2 1369.5 23.9 1384.6 -28.4 1399.7 22.9 1414.7 -28.8 1429.8 23.1 1444.8 -26.5 1459.9 20.7 1474.9 -26.1 1490 19.8 1505 -25.9 1520 20.4 1535.1 -23.9 1550.2 18.4 1565.2 -24.8 1580.2 18.1 1595.3 -23.9 1610.4 19.3 1625.4 -23.6 1640.5 18 1655.5 -25 1670.5 18.5 1685.6 -24 1700.7 20.3 1715.7 -25.5 1730.8 19.7 1745.8 -26.4 1760.9 20.7 1775.9 -26.2"/>
<path class="y" d="M-2.7 0H1775.9"/>
<circle cx="178.5" cy="-30.9" r="8.2" fill="#111"/>
<circle cx="643.8" cy="-29" r="7.5" fill="#fff" stroke="#111" stroke-width="1.4"/><path d="M643.8 -37.2a8.2 8.2 0 0 0 0 16.4z" fill="#111"/>
<circle cx="1050.9" cy="-31" r="7.4" fill="none" stroke="#111" stroke-width="1.6"/>
<circle cx="1458.1" cy="-29.4" r="7.5" fill="#fff" stroke="#111" stroke-width="1.4"/><path d="M1458.1 -37.6a8.2 8.2 0 0 1 0 16.4z" fill="#111"/>
<path class="dt" d="M-7.3 -57.3l27.5 -0.7M22.8 -58.1l18 -0.5M52.9 -59l27.5 -0.9M83 -60l27.5 -0.9M113.1 -61l18 -0.6M143.2 -62l27.5 -0.8M173.3 -62.9l18 -0.5M203.4 -63.7l27.5 -0.6M233.5 -64.4l18 -0.3M263.6 -64.9l27.5 -0.3M293.7 -65.1l18 0M323.8 -65.2l27.5 0.2M353.9 -65l18 0.2M384 -64.6l27.5 0.5M414.1 -64.1l18 0.4M444.2 -63.3l27.5 0.8M474.3 -62.5l18 0.6M504.4 -61.5l27.5 0.9M534.5 -60.5l18 0.6M564.6 -59.5l27.5 0.9M594.7 -58.5l18 0.5M624.8 -57.7l27.5 0.6M654.9 -57l18 0.3M685 -56.4l27.5 0.3M715.1 -56.1l18 0.1M745.2 -56l27.5 -0.1M775.3 -56.1l18 -0.2M805.4 -56.4l27.5 -0.5M835.5 -57l18 -0.4M865.6 -57.7l27.5 -0.8M895.7 -58.5l18 -0.6M925.8 -59.5l27.5 -0.9M955.9 -60.5l27.5 -0.9M986 -61.5l18 -0.6M1016.1 -62.4l27.5 -0.8M1046.2 -63.3l18 -0.4M1076.3 -64.1l27.5 -0.5M1106.4 -64.6l18 -0.2M1136.5 -65l27.5 -0.2M1166.6 -65.2l18 0M1196.7 -65.1l27.5 0.2M1226.8 -64.9l18 0.3M1256.9 -64.4l27.5 0.6M1287 -63.7l18 0.5M1317.1 -62.9l27.5 0.8M1347.2 -62l18 0.6M1377.3 -61l27.5 0.9M1407.4 -60l18 0.6M1437.5 -59l27.5 0.8M1467.6 -58.1l18 0.5M1497.7 -57.3l27.5 0.6M1527.8 -56.7l18 0.3M1557.9 -56.3l27.5 0.2M1588 -56l18 0M1618.1 -56l27.5 -0.2M1648.2 -56.2l18 -0.3M1678.3 -56.7l27.5 -0.6M1708.4 -57.3l18 -0.5M1738.5 -58l27.5 -0.8M1768.6 -58.9l18 0M7.8 54.8l27 0.9M37.9 55.8l27 1M68 56.8l17.5 0.7M98.1 58l27 1M128.2 59.1l17.5 0.6M158.2 60.2l27 0.9M188.4 61.2l17.5 0.5M218.5 62l27 0.6M248.6 62.7l17.5 0.2M278.7 63.1l27 0.2M308.8 63.3l17.5 0M338.9 63.2l27 -0.3M369 62.9l17.5 -0.3M399.1 62.4l27 -0.7M429.2 61.6l17.5 -0.5M459.2 60.7l27 -0.9M489.4 59.7l17.5 -0.7M519.5 58.5l27 -1M549.6 57.4l27 -1M579.6 56.3l17.5 -0.6M609.8 55.3l27 -0.8M639.9 54.4l17.5 -0.4M670 53.7l27 -0.4M700.1 53.2l17.5 -0.1M730.2 52.9l27 0M760.2 52.9l17.5 0.1M790.4 53.2l27 0.4M820.5 53.7l17.5 0.4M850.6 54.4l27 0.8M880.7 55.2l17.5 0.6M910.8 56.3l27 1M940.9 57.4l17.5 0.7M971 58.5l27 1M1001.1 59.6l17.5 0.6M1031.2 60.7l27 0.8M1061.2 61.6l17.5 0.4M1091.4 62.4l27 0.5M1121.5 62.9l17.5 0.2M1151.5 63.2l27 0.1M1181.7 63.3l17.5 -0.1M1211.8 63.1l27 -0.4M1241.9 62.7l17.5 -0.4M1272 62l27 -0.7M1302 61.2l17.5 -0.6M1332.2 60.2l27 -1M1362.2 59.1l17.5 -0.7M1392.4 58l27 -1M1422.5 56.9l27 -1M1452.6 55.8l17.5 -0.6M1482.7 54.8l27 -0.7M1512.8 54l17.5 -0.4M1542.9 53.4l27 -0.3M1573 53l17.5 -0.1M1603.1 52.9l27 0.1M1633.2 53l17.5 0.2M1663.2 53.4l27 0.5M1693.4 54l17.5 0.5M1723.5 54.8l27 0.9M1753.6 55.7l17.5 0"/>
<g class="w" transform="scale(0.745 1)"><text x="-9.8" y="-46.8">10:45<tspan x="-9.8" dy="10.1">3m90</tspan></text><text x="30.6" y="-47.6">23:11<tspan x="30.6" dy="10.1">3m90</tspan></text><text x="71" y="-48.5">11:36<tspan x="71" dy="10.1">4m00</tspan></text><text x="111.4" y="-49.5">00:01<tspan x="111.4" dy="10.1">4m00</tspan></text><text x="151.8" y="-50.5">12:26<tspan x="151.8" dy="10.1">4m00</tspan></text><text x="192.2" y="-51.5">00:51<tspan x="192.2" dy="10.1">4m10</tspan></text><text x="232.6" y="-52.4">13:17<tspan x="232.6" dy="10.1">4m10</tspan></text><text x="273" y="-53.2">01:42<tspan x="273" dy="10.1">4m20</tspan></text><text x="313.4" y="-53.9">14:07<tspan x="313.4" dy="10.1">4m20</tspan></text><text x="353.8" y="-54.4">02:32<tspan x="353.8" dy="10.1">4m20</tspan></text><text x="394.2" y="-54.6">14:58<tspan x="394.2" dy="10.1">4m30</tspan></text><text x="434.6" y="-54.7">03:23<tspan x="434.6" dy="10.1">4m20</tspan></text><text x="475" y="-54.5">15:48<tspan x="475" dy="10.1">4m20</tspan></text><text x="515.4" y="-54.1">04:13<tspan x="515.4" dy="10.1">4m30</tspan></text><text x="555.8" y="-53.6">16:39<tspan x="555.8" dy="10.1">4m20</tspan></text><text x="596.2" y="-52.8">05:04<tspan x="596.2" dy="10.1">4m20</tspan></text><text x="636.6" y="-52">17:29<tspan x="636.6" dy="10.1">4m10</tspan></text><text x="677" y="-51">05:54<tspan x="677" dy="10.1">4m00</tspan></text><text x="717.4" y="-50">18:20<tspan x="717.4" dy="10.1">4m00</tspan></text><text x="757.9" y="-49">06:45<tspan x="757.9" dy="10.1">4m00</tspan></text><text x="798.3" y="-48">19:10<tspan x="798.3" dy="10.1">3m90</tspan></text><text x="838.7" y="-47.2">07:35<tspan x="838.7" dy="10.1">3m90</tspan></text><text x="879.1" y="-46.5">20:00<tspan x="879.1" dy="10.1">3m80</tspan></text><text x="919.5" y="-45.9">08:26<tspan x="919.5" dy="10.1">3m80</tspan></text><text x="959.9" y="-45.6">20:51<tspan x="959.9" dy="10.1">3m80</tspan></text><text x="1000.3" y="-45.5">09:16<tspan x="1000.3" dy="10.1">3m80</tspan></text><text x="1040.7" y="-45.6">21:41<tspan x="1040.7" dy="10.1">3m80</tspan></text><text x="1081.1" y="-45.9">10:07<tspan x="1081.1" dy="10.1">3m80</tspan></text><text x="1121.5" y="-46.5">22:32<tspan x="1121.5" dy="10.1">3m80</tspan></text><text x="1161.9" y="-47.2">10:57<tspan x="1161.9" dy="10.1">3m90</tspan></text><text x="1202.3" y="-48">23:22<tspan x="1202.3" dy="10.1">3m90</tspan></text><text x="1242.7" y="-49">11:48<tspan x="1242.7" dy="10.1">4m00</tspan></text><text x="1283.1" y="-50">00:13<tspan x="1283.1" dy="10.1">4m00</tspan></text><text x="1323.5" y="-51">12:38<tspan x="1323.5" dy="10.1">4m00</tspan></text><text x="1363.9" y="-51.9">01:03<tspan x="1363.9" dy="10.1">4m10</tspan></text><text x="1404.3" y="-52.8">13:29<tspan x="1404.3" dy="10.1">4m10</tspan></text><text x="1444.7" y="-53.6">01:54<tspan x="1444.7" dy="10.1">4m20</tspan></text><text x="1485.1" y="-54.1">14:19<tspan x="1485.1" dy="10.1">4m20</tspan></text><text x="1525.5" y="-54.5">02:44<tspan x="1525.5" dy="10.1">4m20</tspan></text><text x="1565.9" y="-54.7">15:09<tspan x="1565.9" dy="10.1">4m30</tspan></text><text x="1606.3" y="-54.6">03:35<tspan x="1606.3" dy="10.1">4m20</tspan></text><text x="1646.7" y="-54.4">16:00<tspan x="1646.7" dy="10.1">4m20</tspan></text><text x="1687.1" y="-53.9">04:25<tspan x="1687.1" dy="10.1">4m20</tspan></text><text x="1727.5" y="-53.2">16:50<tspan x="1727.5" dy="10.1">4m10</tspan></text><text x="1767.9" y="-52.4">05:16<tspan x="1767.9" dy="10.1">4m20</tspan></text><text x="1808.3" y="-51.5">17:41<tspan x="1808.3" dy="10.1">4m10</tspan></text><text x="1848.7" y="-50.5">06:06<tspan x="1848.7" dy="10.1">4m00</tspan></text><text x="1889.1" y="-49.5">18:31<tspan x="1889.1" dy="10.1">4m00</tspan></text><text x="1929.5" y="-48.5">06:57<tspan x="1929.5" dy="10.1">3m90</tspan></text><text x="1969.9" y="-47.6">19:22<tspan x="1969.9" dy="10.1">3m90</tspan></text><text x="2010.3" y="-46.8">07:47<tspan x="2010.3" dy="10.1">3m90</tspan></text><text x="2050.7" y="-46.2">20:12<tspan x="2050.7" dy="10.1">3m80</tspan></text><text x="2091.1" y="-45.8">08:38<tspan x="2091.1" dy="10.1">3m80</tspan></text><text x="2131.5" y="-45.5">21:03<tspan x="2131.5" dy="10.1">3m80</tspan></text><text x="2171.9" y="-45.5">09:28<tspan x="2171.9" dy="10.1">3m80</tspan></text><text x="2212.3" y="-45.7">21:53<tspan x="2212.3" dy="10.1">3m90</tspan></text><text x="2252.8" y="-46.2">10:18<tspan x="2252.8" dy="10.1">3m80</tspan></text><text x="2293.2" y="-46.8">22:44<tspan x="2293.2" dy="10.1">3m90</tspan></text><text x="2333.6" y="-47.5">11:09<tspan x="2333.6" dy="10.1">3m90</tspan></text><text x="2374" y="-48.4">23:34<tspan x="2374" dy="10.1">3m90</tspan></text><text x="10.4" y="42.1">0m90<tspan x="10.4" dy="10.1">16:58</tspan></text><text x="50.8" y="43.1">0m90<tspan x="50.8" dy="10.1">05:23</tspan></text><text x="91.2" y="44.1">0m90<tspan x="91.2" dy="10.1">17:48</tspan></text><text x="131.6" y="45.3">0m80<tspan x="131.6" dy="10.1">06:14</tspan></text><text x="172" y="46.4">0m70<tspan x="172" dy="10.1">18:39</tspan></text><text x="212.4" y="47.5">0m70<tspan x="212.4" dy="10.1">07:04</tspan></text><text x="252.8" y="48.5">0m60<tspan x="252.8" dy="10.1">19:29</tspan></text><text x="293.2" y="49.3">0m60<tspan x="293.2" dy="10.1">07:55</tspan></text><text x="333.6" y="50">0m60<tspan x="333.6" dy="10.1">20:20</tspan></text><text x="374" y="50.4">0m60<tspan x="374" dy="10.1">08:45</tspan></text><text x="414.4" y="50.6">0m50<tspan x="414.4" dy="10.1">21:10</tspan></text><text x="454.8" y="50.5">0m60<tspan x="454.8" dy="10.1">09:35</tspan></text><text x="495.2" y="50.2">0m60<tspan x="495.2" dy="10.1">22:01</tspan></text><text x="535.6" y="49.7">0m60<tspan x="535.6" dy="10.1">10:26</tspan></text><text x="576" y="48.9">0m70<tspan x="576" dy="10.1">22:51</tspan></text><text x="616.4" y="48">0m70<tspan x="616.4" dy="10.1">11:16</tspan></text><text x="656.8" y="47">0m70<tspan x="656.8" dy="10.1">23:42</tspan></text><text x="697.2" y="45.8">0m80<tspan x="697.2" dy="10.1">12:07</tspan></text><text x="737.7" y="44.7">0m80<tspan x="737.7" dy="10.1">00:32</tspan></text><text x="778.1" y="43.6">0m80<tspan x="778.1" dy="10.1">12:57</tspan></text><text x="818.5" y="42.6">0m90<tspan x="818.5" dy="10.1">01:23</tspan></text><text x="858.9" y="41.7">0m90<tspan x="858.9" dy="10.1">13:48</tspan></text><text x="899.3" y="41">0m90<tspan x="899.3" dy="10.1">02:13</tspan></text><text x="939.7" y="40.5">1m00<tspan x="939.7" dy="10.1">14:38</tspan></text><text x="980.1" y="40.2">1m00<tspan x="980.1" dy="10.1">03:04</tspan></text><text x="1020.5" y="40.2">1m00<tspan x="1020.5" dy="10.1">15:29</tspan></text><text x="1060.9" y="40.5">1m00<tspan x="1060.9" dy="10.1">03:54</tspan></text><text x="1101.3" y="41">1m00<tspan x="1101.3" dy="10.1">16:19</tspan></text><text x="1141.7" y="41.7">0m90<tspan x="1141.7" dy="10.1">04:44</tspan></text><text x="1182.1" y="42.5">0m90<tspan x="1182.1" dy="10.1">17:10</tspan></text><text x="1222.5" y="43.6">0m80<tspan x="1222.5" dy="10.1">05:35</tspan></text><text x="1262.9" y="44.7">0m80<tspan x="1262.9" dy="10.1">18:00</tspan></text><text x="1303.3" y="45.8">0m80<tspan x="1303.3" dy="10.1">06:25</tspan></text><text x="1343.7" y="46.9">0m70<tspan x="1343.7" dy="10.1">18:51</tspan></text><text x="1384.1" y="48">0m70<tspan x="1384.1" dy="10.1">07:16</tspan></text><text x="1424.5" y="48.9">0m70<tspan x="1424.5" dy="10.1">19:41</tspan></text><text x="1464.9" y="49.7">0m60<tspan x="1464.9" dy="10.1">08:06</tspan></text><text x="1505.3" y="50.2">0m60<tspan x="1505.3" dy="10.1">20:32</tspan></text><text x="1545.7" y="50.5">0m60<tspan x="1545.7" dy="10.1">08:57</tspan></text><text x="1586.1" y="50.6">0m50<tspan x="1586.1" dy="10.1">21:22</tspan></text><text x="1626.5" y="50.4">0m60<tspan x="1626.5" dy="10.1">09:47</tspan></text><text x="1666.9" y="50">0m60<tspan x="1666.9" dy="10.1">22:13</tspan></text><text x="1707.3" y="49.3">0m60<tspan x="1707.3" dy="10.1">10:38</tspan></text><text x="1747.7" y="48.5">0m60<tspan x="1747.7" dy="10.1">23:03</tspan></text><text x="1788.1" y="47.5">0m70<tspan x="1788.1" dy="10.1">11:28</tspan></text><text x="1828.5" y="46.4">0m70<tspan x="1828.5" dy="10.1">23:54</tspan></text><text x="1868.9" y="45.3">0m80<tspan x="1868.9" dy="10.1">12:19</tspan></text><text x="1909.3" y="44.2">0m90<tspan x="1909.3" dy="10.1">00:44</tspan></text><text x="1949.7" y="43.1">0m90<tspan x="1949.7" dy="10.1">13:09</tspan></text><text x="1990.1" y="42.1">0m90<tspan x="1990.1" dy="10.1">01:34</tspan></text><text x="2030.5" y="41.3">1m00<tspan x="2030.5" dy="10.1">14:00</tspan></text><text x="2070.9" y="40.7">1m00<tspan x="2070.9" dy="10.1">02:25</tspan></text><text x="2111.3" y="40.3">1m00<tspan x="2111.3" dy="10.1">14:50</tspan></text><text x="2151.7" y="40.2">1m00<tspan x="2151.7" dy="10.1">03:15</tspan></text><text x="2192.1" y="40.3">1m00<tspan x="2192.1" dy="10.1">15:41</tspan></text><text x="2232.6" y="40.7">1m00<tspan x="2232.6" dy="10.1">04:06</tspan></text><text x="2273" y="41.3">1m00<tspan x="2273" dy="10.1">16:31</tspan></text><text x="2313.4" y="42.1">0m90<tspan x="2313.4" dy="10.1">04:56</tspan></text><text x="2353.8" y="43">0m90<tspan x="2353.8" dy="10.1">17:22</tspan></text></g>
<g class="d" transform="scale(0.62 1)"><text x="-11.8" y="-59.7">D 1</text><text x="85.3" y="-61.4">F 2</text><text x="133.9" y="-62.4">S 3</text><text x="231" y="-64.4">S 4</text><text x="328.1" y="-66.1">M 5</text><text x="425.2" y="-67.3">D 6</text><text x="522.3" y="-67.6">M 7</text><text x="619.4" y="-67">D 8</text><text x="716.5" y="-65.7">F 9</text><text x="813.5" y="-63.9">S 10</text><text x="910.6" y="-61.9">S 11</text><text x="1007.7" y="-60.1">M 12</text><text x="1104.8" y="-58.8">D 13</text><text x="1201.9" y="-58.4">M 14</text><text x="1299" y="-58.8">D 15</text><text x="1396.1" y="-60.1">F 16</text><text x="1493.2" y="-61.9">S 17</text><text x="1541.8" y="-62.9">S 18</text><text x="1638.9" y="-64.8">M 19</text><text x="1736" y="-66.5">D 20</text><text x="1833.1" y="-67.4">M 21</text><text x="1930.2" y="-67.5">D 22</text><text x="2027.3" y="-66.8">F 23</text><text x="2124.4" y="-65.3">S 24</text><text x="2221.5" y="-63.4">S 25</text><text x="2318.5" y="-61.4">M 26</text><text x="2415.6" y="-59.7">D 27</text><text x="2512.7" y="-58.7">M 28</text><text x="2609.8" y="-58.4">D 29</text><text x="2706.9" y="-59.1">F 30</text><text x="2804" y="-60.4">S 31</text><text x="12.5" y="71.1">D 1</text><text x="61" y="72.1">F 2</text><text x="158.1" y="74.3">S 3</text><text x="255.2" y="76.5">S 4</text><text x="352.3" y="78.3">M 5</text><text x="449.4" y="79.4">D 6</text><text x="546.5" y="79.5">M 7</text><text x="643.6" y="78.7">D 8</text><text x="740.7" y="77">F 9</text><text x="837.8" y="74.8">S 10</text><text x="886.4" y="73.7">S 11</text><text x="983.5" y="71.6">M 12</text><text x="1080.6" y="70">D 13</text><text x="1177.7" y="69.2">M 14</text><text x="1274.8" y="69.5">D 15</text><text x="1371.9" y="70.7">F 16</text><text x="1469" y="72.6">S 17</text><text x="1566" y="74.8">S 18</text><text x="1663.1" y="77">M 19</text><text x="1760.2" y="78.7">D 20</text><text x="1857.3" y="79.5">M 21</text><text x="1954.4" y="79.4">D 22</text><text x="2051.5" y="78.3">F 23</text><text x="2148.6" y="76.5">S 24</text><text x="2245.7" y="74.3">S 25</text><text x="2294.3" y="73.2">M 26</text><text x="2391.4" y="71.1">D 27</text><text x="2488.5" y="69.7">M 28</text><text x="2585.6" y="69.2">D 29</text><text x="2682.7" y="69.7">F 30</text><text x="2779.8" y="71.1">S 31</text></g>
<g class="h" transform="scale(0.63 1)"><text x="-50.3" y="-53.4" text-anchor="end">HOCHWASSER</text><text x="-23.5" y="-53.4" text-anchor="end">ZEIT</text><text x="-23.5" y="-43.5" text-anchor="end">HÖHE</text><text x="-32.4" y="47.3" text-anchor="end">NIEDRIGWASSER</text><text x="-0.8" y="47.3" text-anchor="end">HÖHE</text><text x="-0.8" y="57.7" text-anchor="end">ZEIT</text></g>
</g>
<text class="mo" x="372.5" y="576.7" text-anchor="middle" letter-spacing="0.5">SEPTEMBER</text>
<g class="pr" transform="translate(229 596.6) scale(0.2233)">
<path class="z" d="M0 -28.2 15.1 22.6 30.1 -28.2 45.2 25.1 60.2 -30.7 75.2 25.2 90.3 -30.5 105.4 25.7 120.4 -31.5 135.5 28 150.5 -33 165.6 27.6 180.6 -32.1 195.7 27.6 210.7 -33.6 225.8 29.2 240.8 -33.3 255.9 28.1 270.9 -32.5 286 27.4 301 -33.4 316.1 28.4 331.1 -31.5 346.2 26.6 361.2 -31.5 376.3 25.3 391.3 -31 406.4 25.8 421.4 -28.8 436.5 23.6 451.5 -29.2 466.6 22.2 481.6 -27.3 496.7 22.6 511.7 -26.2 526.8 20.5 541.8 -26.4 556.9 19.3 571.9 -24.3 586.9 20 602 -24.8 617 18.4 632.1 -24.3 647.1 17.9 662.2 -23.3 677.2 19.3 692.3 -24.8 707.4 18.4 722.4 -24 737.5 18.5 752.5 -24.8 767.5 20.6 782.6 -26.2 797.6 20.3 812.7 -25.7 827.8 21 842.8 -27.9 857.9 23.5 872.9 -28.3 888 23.4 903 -28.9 918 24.3 933.1 -31.1 948.1 26.7 963.2 -30.6 978.2 26.4 993.3 -32.2 1008.4 26.9 1023.4 -33 1038.5 28.9 1053.5 -32.3 1068.5 28 1083.6 -33.9 1098.7 27.9 1113.7 -32.8 1128.8 29.1 1143.8 -32.6 1158.8 27.5 1173.9 -33.1 1189 26.7 1204 -31 1219 27.3 1234.1 -31.4 1249.2 25.1 1264.2 -30.2 1279.2 24 1294.3 -28.5 1309.3 24.2 1324.4 -28.8 1339.5 21.9 1354.5 -26.5 1369.5 20.7 1384.6 -26.2 1399.7 21.2 1414.7 -25.9 1429.8 19.1 1444.8 -24 1459.9 18.4 1474.9 -24.9 1490 19.4 1505 -23.9 1520 18 1535.1 -23.6 1550.2 18 1565.2 -25 1580.2 19.7 1595.3 -23.9 1610.4 19 1625.4 -25.5 1640.5 19.7 1655.5 -26.3 1670.5 21.9 1685.6 -26.2 1700.7 21.6 1715.7 -28.6"/>
<path class="y" d="M-2.7 0H1715.7"/>
<circle cx="117.3" cy="-31.1" r="8.2" fill="#111"/>
<circle cx="582.6" cy="-28.8" r="7.5" fill="#fff" stroke="#111" stroke-width="1.4"/><path d="M582.6 -37a8.2 8.2 0 0 0 0 16.4z" fill="#111"/>
<circle cx="989.8" cy="-31.2" r="7.4" fill="none" stroke="#111" stroke-width="1.6"/>
<circle cx="1338.7" cy="-29.7" r="7.5" fill="#fff" stroke="#111" stroke-width="1.4"/><path d="M1338.7 -37.9a8.2 8.2 0 0 1 0 16.4z" fill="#111"/>
<path class="dt" d="M-7.3 -59.9l27.5 -0.9M22.8 -60.9l27.5 -0.9M52.9 -61.9l18 -0.6M83 -62.9l27.5 -0.8M113.1 -63.7l18 -0.4M143.2 -64.3l27.5 -0.4M173.3 -64.8l18 -0.2M203.4 -65.1l27.5 -0.1M233.5 -65.2l18 0.1M263.6 -65l27.5 0.3M293.7 -64.7l18 0.3M323.8 -64.1l27.5 0.7M353.9 -63.4l18 0.5M384 -62.5l27.5 0.9M414.1 -61.5l18 0.6M444.2 -60.5l27.5 0.9M474.3 -59.5l18 0.6M504.4 -58.6l27.5 0.8M534.5 -57.7l18 0.4M564.6 -57l27.5 0.5M594.7 -56.5l18 0.2M624.8 -56.1l27.5 0.1M654.9 -56l18 -0.1M685 -56.1l27.5 -0.3M715.1 -56.4l18 -0.3M745.2 -56.9l27.5 -0.6M775.3 -57.6l18 -0.5M805.4 -58.5l27.5 -0.9M835.5 -59.4l18 -0.6M865.6 -60.4l27.5 -0.9M895.7 -61.4l27.5 -0.9M925.8 -62.4l18 -0.5M955.9 -63.3l27.5 -0.7M986 -64l18 -0.4M1016.1 -64.6l27.5 -0.4M1046.2 -65l18 -0.1M1076.3 -65.2l27.5 0M1106.4 -65.2l18 0.2M1136.5 -64.9l27.5 0.4M1166.6 -64.4l18 0.4M1196.7 -63.8l27.5 0.7M1226.8 -63l18 0.5M1256.9 -62.1l27.5 0.9M1287 -61.1l18 0.6M1317.1 -60.1l27.5 0.9M1347.2 -59.1l18 0.5M1377.3 -58.2l27.5 0.7M1407.4 -57.4l18 0.4M1437.5 -56.7l27.5 0.4M1467.6 -56.3l18 0.1M1497.7 -56l27.5 0M1527.8 -56l18 -0.1M1557.9 -56.2l27.5 -0.4M1588 -56.6l18 -0.4M1618.1 -57.2l27.5 -0.7M1648.2 -58l18 -0.5M1678.3 -58.9l27.5 -0.9M1708.4 -59.9l18 0M7.8 57.9l27 1M37.9 59l27 1M68 60.1l17.5 0.6M98.1 61.1l27 0.8M128.2 62l17.5 0.4M158.2 62.6l27 0.4M188.4 63.1l17.5 0.1M218.5 63.3l27 0M248.6 63.2l17.5 -0.2M278.7 62.9l27 -0.5M308.8 62.4l17.5 -0.4M338.9 61.7l27 -0.8M369 60.8l17.5 -0.6M399.1 59.7l27 -1M429.2 58.6l27 -1M459.2 57.5l17.5 -0.6M489.4 56.3l27 -0.9M519.5 55.3l17.5 -0.5M549.6 54.4l27 -0.6M579.6 53.7l17.5 -0.3M609.8 53.2l27 -0.2M639.9 52.9l17.5 0M670 52.9l27 0.2M700.1 53.2l17.5 0.3M730.2 53.6l27 0.6M760.2 54.3l17.5 0.5M790.4 55.2l27 0.9M820.5 56.2l17.5 0.6M850.6 57.3l27 1M880.7 58.4l17.5 0.7M910.8 59.6l27 0.9M940.9 60.6l17.5 0.5M971 61.6l27 0.7M1001.1 62.3l17.5 0.3M1031.2 62.9l27 0.3M1061.2 63.2l17.5 0M1091.4 63.3l27 -0.1M1121.5 63.1l17.5 -0.2M1151.5 62.7l27 -0.6M1181.7 62.1l17.5 -0.5M1211.8 61.3l27 -0.9M1241.9 60.3l17.5 -0.6M1272 59.2l27 -1M1302 58.1l27 -1M1332.2 56.9l17.5 -0.6M1362.2 55.9l27 -0.9M1392.4 54.9l17.5 -0.5M1422.5 54.1l27 -0.6M1452.6 53.4l17.5 -0.2M1482.7 53.1l27 -0.1M1512.8 52.9l17.5 0.1M1542.9 53l27 0.3M1573 53.3l17.5 0.3M1603.1 53.9l27 0.7M1633.2 54.7l17.5 0.5M1663.2 55.6l27 1M1693.4 56.7l17.5 0"/>
<g class="w" transform="scale(0.745 1)"><text x="-9.8" y="-49.4">11:59<tspan x="-9.8" dy="10.1">4m00</tspan></text><text x="30.6" y="-50.4">00:25<tspan x="30.6" dy="10.1">4m00</tspan></text><text x="71" y="-51.4">12:50<tspan x="71" dy="10.1">4m10</tspan></text><text x="111.4" y="-52.4">01:15<tspan x="111.4" dy="10.1">4m10</tspan></text><text x="151.8" y="-53.2">13:40<tspan x="151.8" dy="10.1">4m20</tspan></text><text x="192.2" y="-53.8">02:06<tspan x="192.2" dy="10.1">4m20</tspan></text><text x="232.6" y="-54.3">14:31<tspan x="232.6" dy="10.1">4m20</tspan></text><text x="273" y="-54.6">02:56<tspan x="273" dy="10.1">4m30</tspan></text><text x="313.4" y="-54.7">15:21<tspan x="313.4" dy="10.1">4m20</tspan></text><text x="353.8" y="-54.5">03:47<tspan x="353.8" dy="10.1">4m20</tspan></text><text x="394.2" y="-54.2">16:12<tspan x="394.2" dy="10.1">4m30</tspan></text><text x="434.6" y="-53.6">04:37<tspan x="434.6" dy="10.1">4m20</tspan></text><text x="475" y="-52.9">17:02<tspan x="475" dy="10.1">4m20</tspan></text><text x="515.4" y="-52">05:27<tspan x="515.4" dy="10.1">4m10</tspan></text><text x="555.8" y="-51">17:53<tspan x="555.8" dy="10.1">4m00</tspan></text><text x="596.2" y="-50">06:18<tspan x="596.2" dy="10.1">4m10</tspan></text><text x="636.6" y="-49">18:43<tspan x="636.6" dy="10.1">4m00</tspan></text><text x="677" y="-48.1">07:08<tspan x="677" dy="10.1">3m90</tspan></text><text x="717.4" y="-47.2">19:34<tspan x="717.4" dy="10.1">3m90</tspan></text><text x="757.9" y="-46.5">07:59<tspan x="757.9" dy="10.1">3m80</tspan></text><text x="798.3" y="-46">20:24<tspan x="798.3" dy="10.1">3m80</tspan></text><text x="838.7" y="-45.6">08:49<tspan x="838.7" dy="10.1">3m80</tspan></text><text x="879.1" y="-45.5">21:15<tspan x="879.1" dy="10.1">3m80</tspan></text><text x="919.5" y="-45.6">09:40<tspan x="919.5" dy="10.1">3m80</tspan></text><text x="959.9" y="-45.9">22:05<tspan x="959.9" dy="10.1">3m80</tspan></text><text x="1000.3" y="-46.4">10:30<tspan x="1000.3" dy="10.1">3m80</tspan></text><text x="1040.7" y="-47.1">22:56<tspan x="1040.7" dy="10.1">3m90</tspan></text><text x="1081.1" y="-48">11:21<tspan x="1081.1" dy="10.1">3m90</tspan></text><text x="1121.5" y="-48.9">23:46<tspan x="1121.5" dy="10.1">4m00</tspan></text><text x="1161.9" y="-49.9">12:11<tspan x="1161.9" dy="10.1">4m00</tspan></text><text x="1202.3" y="-50.9">00:37<tspan x="1202.3" dy="10.1">4m00</tspan></text><text x="1242.7" y="-51.9">13:02<tspan x="1242.7" dy="10.1">4m10</tspan></text><text x="1283.1" y="-52.8">01:27<tspan x="1283.1" dy="10.1">4m10</tspan></text><text x="1323.5" y="-53.5">13:52<tspan x="1323.5" dy="10.1">4m20</tspan></text><text x="1363.9" y="-54.1">02:17<tspan x="1363.9" dy="10.1">4m20</tspan></text><text x="1404.3" y="-54.5">14:43<tspan x="1404.3" dy="10.1">4m20</tspan></text><text x="1444.7" y="-54.7">03:08<tspan x="1444.7" dy="10.1">4m30</tspan></text><text x="1485.1" y="-54.7">15:33<tspan x="1485.1" dy="10.1">4m20</tspan></text><text x="1525.5" y="-54.4">03:58<tspan x="1525.5" dy="10.1">4m20</tspan></text><text x="1565.9" y="-53.9">16:24<tspan x="1565.9" dy="10.1">4m20</tspan></text><text x="1606.3" y="-53.3">04:49<tspan x="1606.3" dy="10.1">4m10</tspan></text><text x="1646.7" y="-52.5">17:14<tspan x="1646.7" dy="10.1">4m20</tspan></text><text x="1687.1" y="-51.6">05:39<tspan x="1687.1" dy="10.1">4m10</tspan></text><text x="1727.5" y="-50.6">18:05<tspan x="1727.5" dy="10.1">4m00</tspan></text><text x="1767.9" y="-49.6">06:30<tspan x="1767.9" dy="10.1">4m00</tspan></text><text x="1808.3" y="-48.6">18:55<tspan x="1808.3" dy="10.1">3m90</tspan></text><text x="1848.7" y="-47.7">07:20<tspan x="1848.7" dy="10.1">3m90</tspan></text><text x="1889.1" y="-46.9">19:46<tspan x="1889.1" dy="10.1">3m90</tspan></text><text x="1929.5" y="-46.2">08:11<tspan x="1929.5" dy="10.1">3m80</tspan></text><text x="1969.9" y="-45.8">20:36<tspan x="1969.9" dy="10.1">3m80</tspan></text><text x="2010.3" y="-45.5">09:01<tspan x="2010.3" dy="10.1">3m80</tspan></text><text x="2050.7" y="-45.5">21:26<tspan x="2050.7" dy="10.1">3m80</tspan></text><text x="2091.1" y="-45.7">09:52<tspan x="2091.1" dy="10.1">3m90</tspan></text><text x="2131.5" y="-46.1">22:17<tspan x="2131.5" dy="10.1">3m80</tspan></text><text x="2171.9" y="-46.7">10:42<tspan x="2171.9" dy="10.1">3m90</tspan></text><text x="2212.3" y="-47.5">23:07<tspan x="2212.3" dy="10.1">3m90</tspan></text><text x="2252.8" y="-48.4">11:33<tspan x="2252.8" dy="10.1">3m90</tspan></text><text x="2293.2" y="-49.4">23:58<tspan x="2293.2" dy="10.1">4m00</tspan></text><text x="10.4" y="45.2">0m80<tspan x="10.4" dy="10.1">18:12</tspan></text><text x="50.8" y="46.3">0m80<tspan x="50.8" dy="10.1">06:37</tspan></text><text x="91.2" y="47.4">0m70<tspan x="91.2" dy="10.1">19:03</tspan></text><text x="131.6" y="48.4">0m60<tspan x="131.6" dy="10.1">07:28</tspan></text><text x="172" y="49.3">0m60<tspan x="172" dy="10.1">19:53</tspan></text><text x="212.4" y="49.9">0m60<tspan x="212.4" dy="10.1">08:18</tspan></text><text x="252.8" y="50.4">0m50<tspan x="252.8" dy="10.1">20:43</tspan></text><text x="293.2" y="50.6">0m60<tspan x="293.2" dy="10.1">09:09</tspan></text><text x="333.6" y="50.5">0m60<tspan x="333.6" dy="10.1">21:34</tspan></text><text x="374" y="50.2">0m60<tspan x="374" dy="10.1">09:59</tspan></text><text x="414.4" y="49.7">0m60<tspan x="414.4" dy="10.1">22:24</tspan></text><text x="454.8" y="49">0m60<tspan x="454.8" dy="10.1">10:50</tspan></text><text x="495.2" y="48.1">0m60<tspan x="495.2" dy="10.1">23:15</tspan></text><text x="535.6" y="47">0m70<tspan x="535.6" dy="10.1">11:40</tspan></text><text x="576" y="45.9">0m70<tspan x="576" dy="10.1">00:05</tspan></text><text x="616.4" y="44.8">0m80<tspan x="616.4" dy="10.1">12:31</tspan></text><text x="656.8" y="43.6">0m90<tspan x="656.8" dy="10.1">00:56</tspan></text><text x="697.2" y="42.6">0m90<tspan x="697.2" dy="10.1">13:21</tspan></text><text x="737.7" y="41.7">0m90<tspan x="737.7" dy="10.1">01:46</tspan></text><text x="778.1" y="41">1m00<tspan x="778.1" dy="10.1">14:12</tspan></text><text x="818.5" y="40.5">1m00<tspan x="818.5" dy="10.1">02:37</tspan></text><text x="858.9" y="40.2">1m00<tspan x="858.9" dy="10.1">15:02</tspan></text><text x="899.3" y="40.2">1m00<tspan x="899.3" dy="10.1">03:27</tspan></text><text x="939.7" y="40.5">1m00<tspan x="939.7" dy="10.1">15:52</tspan></text><text x="980.1" y="40.9">0m90<tspan x="980.1" dy="10.1">04:18</tspan></text><text x="1020.5" y="41.6">1m00<tspan x="1020.5" dy="10.1">16:43</tspan></text><text x="1060.9" y="42.5">0m90<tspan x="1060.9" dy="10.1">05:08</tspan></text><text x="1101.3" y="43.5">0m80<tspan x="1101.3" dy="10.1">17:33</tspan></text><text x="1141.7" y="44.6">0m80<tspan x="1141.7" dy="10.1">05:59</tspan></text><text x="1182.1" y="45.7">0m80<tspan x="1182.1" dy="10.1">18:24</tspan></text><text x="1222.5" y="46.9">0m70<tspan x="1222.5" dy="10.1">06:49</tspan></text><text x="1262.9" y="47.9">0m70<tspan x="1262.9" dy="10.1">19:14</tspan></text><text x="1303.3" y="48.9">0m60<tspan x="1303.3" dy="10.1">07:40</tspan></text><text x="1343.7" y="49.6">0m60<tspan x="1343.7" dy="10.1">20:05</tspan></text><text x="1384.1" y="50.2">0m60<tspan x="1384.1" dy="10.1">08:30</tspan></text><text x="1424.5" y="50.5">0m60<tspan x="1424.5" dy="10.1">20:55</tspan></text><text x="1464.9" y="50.6">0m50<tspan x="1464.9" dy="10.1">09:21</tspan></text><text x="1505.3" y="50.4">0m60<tspan x="1505.3" dy="10.1">21:46</tspan></text><text x="1545.7" y="50">0m60<tspan x="1545.7" dy="10.1">10:11</tspan></text><text x="1586.1" y="49.4">0m60<tspan x="1586.1" dy="10.1">22:36</tspan></text><text x="1626.5" y="48.6">0m70<tspan x="1626.5" dy="10.1">11:01</tspan></text><text x="1666.9" y="47.6">0m70<tspan x="1666.9" dy="10.1">23:27</tspan></text><text x="1707.3" y="46.5">0m70<tspan x="1707.3" dy="10.1">11:52</tspan></text><text x="1747.7" y="45.4">0m80<tspan x="1747.7" dy="10.1">00:17</tspan></text><text x="1788.1" y="44.2">0m80<tspan x="1788.1" dy="10.1">12:42</tspan></text><text x="1828.5" y="43.2">0m90<tspan x="1828.5" dy="10.1">01:08</tspan></text><text x="1868.9" y="42.2">1m00<tspan x="1868.9" dy="10.1">13:33</tspan></text><text x="1909.3" y="41.4">0m90<tspan x="1909.3" dy="10.1">01:58</tspan></text><text x="1949.7" y="40.7">1m00<tspan x="1949.7" dy="10.1">14:23</tspan></text><text x="1990.1" y="40.4">1m00<tspan x="1990.1" dy="10.1">02:49</tspan></text><text x="2030.5" y="40.2">1m00<tspan x="2030.5" dy="10.1">15:14</tspan></text><text x="2070.9" y="40.3">1m00<tspan x="2070.9" dy="10.1">03:39</tspan></text><text x="2111.3" y="40.6">1m00<tspan x="2111.3" dy="10.1">16:04</tspan></text><text x="2151.7" y="41.2">0m90<tspan x="2151.7" dy="10.1">04:30</tspan></text><text x="2192.1" y="42">0m90<tspan x="2192.1" dy="10.1">16:55</tspan></text><text x="2232.6" y="42.9">0m90<tspan x="2232.6" dy="10.1">05:20</tspan></text><text x="2273" y="44">0m80<tspan x="2273" dy="10.1">17:45</tspan></text></g>
<g class="d" transform="scale(0.62 1)"><text x="-11.8" y="-62.3">S 1</text><text x="36.8" y="-63.3">M 2</text><text x="133.9" y="-65.3">D 3</text><text x="231" y="-66.7">M 4</text><text x="328.1" y="-67.5">D 5</text><text x="425.2" y="-67.4">F 6</text><text x="522.3" y="-66.5">S 7</text><text x="619.4" y="-64.9">S 8</text><text x="716.5" y="-62.9">M 9</text><text x="813.5" y="-61">D 10</text><text x="910.6" y="-59.4">M 11</text><text x="1007.7" y="-58.5">D 12</text><text x="1104.8" y="-58.5">F 13</text><text x="1201.9" y="-59.3">S 14</text><text x="1299" y="-60.9">S 15</text><text x="1396.1" y="-62.8">M 16</text><text x="1444.7" y="-63.8">D 17</text><text x="1541.8" y="-65.7">M 18</text><text x="1638.9" y="-67">D 19</text><text x="1736" y="-67.6">F 20</text><text x="1833.1" y="-67.3">S 21</text><text x="1930.2" y="-66.2">S 22</text><text x="2027.3" y="-64.5">M 23</text><text x="2124.4" y="-62.5">D 24</text><text x="2221.5" y="-60.6">M 25</text><text x="2318.5" y="-59.1">D 26</text><text x="2415.6" y="-58.4">F 27</text><text x="2512.7" y="-58.6">S 28</text><text x="2609.8" y="-59.6">S 29</text><text x="2706.9" y="-61.3">M 30</text><text x="12.5" y="74.2">S 1</text><text x="61" y="75.3">M 2</text><text x="158.1" y="77.4">D 3</text><text x="255.2" y="78.9">M 4</text><text x="352.3" y="79.6">D 5</text><text x="449.4" y="79.2">F 6</text><text x="546.5" y="78">S 7</text><text x="643.6" y="76">S 8</text><text x="692.2" y="74.9">M 9</text><text x="789.3" y="72.6">D 10</text><text x="886.4" y="70.7">M 11</text><text x="983.5" y="69.5">D 12</text><text x="1080.6" y="69.2">F 13</text><text x="1177.7" y="69.9">S 14</text><text x="1274.8" y="71.5">S 15</text><text x="1371.9" y="73.6">M 16</text><text x="1469" y="75.9">D 17</text><text x="1566" y="77.9">M 18</text><text x="1663.1" y="79.2">D 19</text><text x="1760.2" y="79.6">F 20</text><text x="1857.3" y="79">S 21</text><text x="1954.4" y="77.6">S 22</text><text x="2051.5" y="75.5">M 23</text><text x="2100.1" y="74.4">D 24</text><text x="2197.2" y="72.2">M 25</text><text x="2294.3" y="70.4">D 26</text><text x="2391.4" y="69.4">F 27</text><text x="2488.5" y="69.3">S 28</text><text x="2585.6" y="70.2">S 29</text><text x="2682.7" y="71.9">M 30</text></g>
<g class="h" transform="scale(0.63 1)"><text x="-50.3" y="-53.4" text-anchor="end">HOCHWASSER</text><text x="-23.5" y="-53.4" text-anchor="end">ZEIT</text><text x="-23.5" y="-43.5" text-anchor="end">HÖHE</text><text x="-32.4" y="47.3" text-anchor="end">NIEDRIGWASSER</text><text x="-0.8" y="47.3" text-anchor="end">HÖHE</text><text x="-0.8" y="57.7" text-anchor="end">ZEIT</text></g>
</g>
<text class="mo" x="360.6" y="620.2" text-anchor="middle" letter-spacing="0.5">OKTOBER</text>
<g class="pr" transform="translate(229 640.1) scale(0.2233)">
<path class="z" d="M0 -28.4 15.1 25 30.1 -29.7 45.2 25.2 60.2 -31.4 75.2 25.6 90.3 -30.9 105.4 27.9 120.4 -32.8 135.5 27.6 150.5 -32.8 165.6 27.5 180.6 -32.6 195.7 29.2 210.7 -34 225.8 28.2 240.8 -32.4 255.9 27.4 270.9 -32.8 286 28.4 301 -32.6 316.1 26.7 331.1 -30.7 346.2 25.3 361.2 -31.2 376.3 25.8 391.3 -29.3 406.4 23.8 421.4 -28.3 436.5 22.2 451.5 -28.3 466.6 22.6 481.6 -25.9 496.7 20.6 511.7 -26.2 526.8 19.3 541.8 -25.2 556.9 20 571.9 -23.9 586.9 18.5 602 -24.9 617 17.8 632.1 -23.5 647.1 19.3 662.2 -24.1 677.2 18.4 692.3 -24.9 707.4 18.4 722.4 -24.1 737.5 20.6 752.5 -26.2 767.5 20.3 782.6 -26.3 797.6 20.9 812.7 -26.9 827.8 23.4 842.8 -29.1 857.9 23.4 872.9 -28.7 888 24.1 903 -30.6 918 26.6 933.1 -31.5 948.1 26.4 963.2 -31.3 978.2 26.8 993.3 -33.3 1008.4 28.8 1023.4 -32.6 1038.5 28 1053.5 -33 1068.5 27.8 1083.6 -33.8 1098.7 29.1 1113.7 -32.2 1128.8 27.6 1143.8 -32.9 1158.8 26.7 1173.9 -31.9 1189 27.4 1204 -30.5 1219 25.3 1234.1 -30.9 1249.2 24 1264.2 -28.6 1279.2 24.3 1294.3 -28.2 1309.3 22 1324.4 -27.6 1339.5 20.7 1354.5 -25.5 1369.5 21.2 1384.6 -26.1 1399.7 19.3 1414.7 -24.6 1429.8 18.4 1444.8 -24 1459.9 19.4 1474.9 -24.8 1490 18.1 1505 -23.3 1520 17.9 1535.1 -24.5 1550.2 19.7 1565.2 -24.8 1580.2 19 1595.3 -24.5 1610.4 19.6 1625.4 -26.7 1640.5 21.8 1655.5 -26.4 1670.5 21.6 1685.6 -27.7 1700.7 22.6 1715.7 -29.4 1730.8 25 1745.8 -29 1760.9 24.9"/>
<path class="y" d="M-2.7 0H1760.9"/>
<circle cx="58.2" cy="-30.8" r="8.2" fill="#111"/>
<circle cx="523.5" cy="-29" r="7.5" fill="#fff" stroke="#111" stroke-width="1.4"/><path d="M523.5 -37.2a8.2 8.2 0 0 0 0 16.4z" fill="#111"/>
<circle cx="930.6" cy="-31" r="7.4" fill="none" stroke="#111" stroke-width="1.6"/>
<circle cx="1337.8" cy="-29.4" r="7.5" fill="#fff" stroke="#111" stroke-width="1.4"/><path d="M1337.8 -37.6a8.2 8.2 0 0 1 0 16.4z" fill="#111"/>
<path class="dt" d="M-7.3 -60.9l27.5 -0.9M22.8 -61.9l27.5 -0.9M52.9 -62.8l18 -0.5M83 -63.6l27.5 -0.6M113.1 -64.3l18 -0.3M143.2 -64.8l27.5 -0.3M173.3 -65.1l18 0M203.4 -65.2l27.5 0.1M233.5 -65.1l18 0.2M263.6 -64.7l27.5 0.5M293.7 -64.1l18 0.4M323.8 -63.4l27.5 0.8M353.9 -62.6l18 0.6M384 -61.6l27.5 0.9M414.1 -60.6l18 0.6M444.2 -59.6l27.5 0.9M474.3 -58.6l18 0.5M504.4 -57.8l27.5 0.7M534.5 -57.1l18 0.3M564.6 -56.5l27.5 0.3M594.7 -56.1l18 0.1M624.8 -56l27.5 -0.1M654.9 -56.1l18 -0.2M685 -56.4l27.5 -0.5M715.1 -56.9l18 -0.4M745.2 -57.6l27.5 -0.8M775.3 -58.4l18 -0.6M805.4 -59.3l27.5 -0.9M835.5 -60.3l27.5 -0.9M865.6 -61.3l18 -0.6M895.7 -62.3l27.5 -0.8M925.8 -63.2l18 -0.5M955.9 -64l27.5 -0.6M986 -64.6l18 -0.2M1016.1 -65l27.5 -0.2M1046.2 -65.2l18 0M1076.3 -65.2l27.5 0.2M1106.4 -64.9l18 0.3M1136.5 -64.5l27.5 0.6M1166.6 -63.8l18 0.5M1196.7 -63l27.5 0.8M1226.8 -62.1l18 0.6M1256.9 -61.1l27.5 0.9M1287 -60.1l18 0.6M1317.1 -59.1l27.5 0.8M1347.2 -58.2l18 0.5M1377.3 -57.4l27.5 0.6M1407.4 -56.8l18 0.3M1437.5 -56.3l27.5 0.2M1467.6 -56l18 0M1497.7 -56l27.5 -0.2M1527.8 -56.2l18 -0.2M1557.9 -56.6l27.5 -0.5M1588 -57.2l18 -0.5M1618.1 -57.9l27.5 -0.8M1648.2 -58.8l18 -0.6M1678.3 -59.8l27.5 -0.9M1708.4 -60.8l27.5 -0.9M1738.5 -61.8l18 0M7.8 59l27 1M37.9 60.1l27 0.9M68 61.1l17.5 0.5M98.1 61.9l27 0.6M128.2 62.6l17.5 0.3M158.2 63.1l27 0.2M188.4 63.3l17.5 0M218.5 63.2l27 -0.3M248.6 63l17.5 -0.3M278.7 62.5l27 -0.7M308.8 61.7l17.5 -0.5M338.9 60.8l27 -0.9M369 59.8l17.5 -0.6M399.1 58.7l27 -1M429.2 57.5l27 -1M459.2 56.4l17.5 -0.6M489.4 55.4l27 -0.8M519.5 54.5l17.5 -0.4M549.6 53.7l27 -0.5M579.6 53.2l17.5 -0.2M609.8 53l27 0M639.9 52.9l17.5 0.1M670 53.1l27 0.4M700.1 53.6l17.5 0.4M730.2 54.3l27 0.8M760.2 55.1l17.5 0.6M790.4 56.1l27 1M820.5 57.2l17.5 0.7M850.6 58.4l27 1M880.7 59.5l17.5 0.6M910.8 60.6l27 0.8M940.9 61.5l17.5 0.5M971 62.3l27 0.5M1001.1 62.9l17.5 0.2M1031.2 63.2l27 0.1M1061.2 63.3l17.5 -0.1M1091.4 63.1l27 -0.4M1121.5 62.8l17.5 -0.4M1151.5 62.1l27 -0.7M1181.7 61.3l17.5 -0.6M1211.8 60.3l27 -1M1241.9 59.3l17.5 -0.7M1272 58.1l27 -1M1302 57l27 -1M1332.2 55.9l17.5 -0.6M1362.2 54.9l27 -0.7M1392.4 54.1l17.5 -0.4M1422.5 53.5l27 -0.4M1452.6 53.1l17.5 -0.1M1482.7 52.9l27 0.1M1512.8 53l17.5 0.2M1542.9 53.3l27 0.5M1573 53.9l17.5 0.4M1603.1 54.6l27 0.8M1633.2 55.6l17.5 0.6M1663.2 56.6l27 1M1693.4 57.8l17.5 0.7M1723.5 58.9l27 1M1753.6 60l17.5 0"/>
<g class="w" transform="scale(0.745 1)"><text x="-9.8" y="-50.4">12:23<tspan x="-9.8" dy="10.1">4m00</tspan></text><text x="30.6" y="-51.4">00:48<tspan x="30.6" dy="10.1">4m10</tspan></text><text x="71" y="-52.3">13:14<tspan x="71" dy="10.1">4m20</tspan></text><text x="111.4" y="-53.1">01:39<tspan x="111.4" dy="10.1">4m10</tspan></text><text x="151.8" y="-53.8">14:04<tspan x="151.8" dy="10.1">4m20</tspan></text><text x="192.2" y="-54.3">02:29<tspan x="192.2" dy="10.1">4m20</tspan></text><text x="232.6" y="-54.6">14:55<tspan x="232.6" dy="10.1">4m20</tspan></text><text x="273" y="-54.7">03:20<tspan x="273" dy="10.1">4m30</tspan></text><text x="313.4" y="-54.6">15:45<tspan x="313.4" dy="10.1">4m20</tspan></text><text x="353.8" y="-54.2">04:10<tspan x="353.8" dy="10.1">4m20</tspan></text><text x="394.2" y="-53.6">16:35<tspan x="394.2" dy="10.1">4m20</tspan></text><text x="434.6" y="-52.9">05:01<tspan x="434.6" dy="10.1">4m10</tspan></text><text x="475" y="-52.1">17:26<tspan x="475" dy="10.1">4m20</tspan></text><text x="515.4" y="-51.1">05:51<tspan x="515.4" dy="10.1">4m10</tspan></text><text x="555.8" y="-50.1">18:16<tspan x="555.8" dy="10.1">4m00</tspan></text><text x="596.2" y="-49.1">06:42<tspan x="596.2" dy="10.1">4m00</tspan></text><text x="636.6" y="-48.1">19:07<tspan x="636.6" dy="10.1">3m90</tspan></text><text x="677" y="-47.3">07:32<tspan x="677" dy="10.1">3m90</tspan></text><text x="717.4" y="-46.6">19:57<tspan x="717.4" dy="10.1">3m90</tspan></text><text x="757.9" y="-46">08:23<tspan x="757.9" dy="10.1">3m80</tspan></text><text x="798.3" y="-45.6">20:48<tspan x="798.3" dy="10.1">3m80</tspan></text><text x="838.7" y="-45.5">09:13<tspan x="838.7" dy="10.1">3m80</tspan></text><text x="879.1" y="-45.6">21:38<tspan x="879.1" dy="10.1">3m80</tspan></text><text x="919.5" y="-45.9">10:04<tspan x="919.5" dy="10.1">3m80</tspan></text><text x="959.9" y="-46.4">22:29<tspan x="959.9" dy="10.1">3m80</tspan></text><text x="1000.3" y="-47.1">10:54<tspan x="1000.3" dy="10.1">3m90</tspan></text><text x="1040.7" y="-47.9">23:19<tspan x="1040.7" dy="10.1">3m90</tspan></text><text x="1081.1" y="-48.8">11:44<tspan x="1081.1" dy="10.1">3m90</tspan></text><text x="1121.5" y="-49.8">00:10<tspan x="1121.5" dy="10.1">4m00</tspan></text><text x="1161.9" y="-50.8">12:35<tspan x="1161.9" dy="10.1">4m00</tspan></text><text x="1202.3" y="-51.8">01:00<tspan x="1202.3" dy="10.1">4m10</tspan></text><text x="1242.7" y="-52.7">13:25<tspan x="1242.7" dy="10.1">4m20</tspan></text><text x="1283.1" y="-53.5">01:51<tspan x="1283.1" dy="10.1">4m10</tspan></text><text x="1323.5" y="-54.1">14:16<tspan x="1323.5" dy="10.1">4m20</tspan></text><text x="1363.9" y="-54.5">02:41<tspan x="1363.9" dy="10.1">4m20</tspan></text><text x="1404.3" y="-54.7">15:06<tspan x="1404.3" dy="10.1">4m20</tspan></text><text x="1444.7" y="-54.7">03:32<tspan x="1444.7" dy="10.1">4m30</tspan></text><text x="1485.1" y="-54.4">15:57<tspan x="1485.1" dy="10.1">4m20</tspan></text><text x="1525.5" y="-54">04:22<tspan x="1525.5" dy="10.1">4m20</tspan></text><text x="1565.9" y="-53.3">16:47<tspan x="1565.9" dy="10.1">4m20</tspan></text><text x="1606.3" y="-52.5">05:13<tspan x="1606.3" dy="10.1">4m10</tspan></text><text x="1646.7" y="-51.6">17:38<tspan x="1646.7" dy="10.1">4m10</tspan></text><text x="1687.1" y="-50.6">06:03<tspan x="1687.1" dy="10.1">4m00</tspan></text><text x="1727.5" y="-49.6">18:28<tspan x="1727.5" dy="10.1">4m00</tspan></text><text x="1767.9" y="-48.6">06:53<tspan x="1767.9" dy="10.1">4m00</tspan></text><text x="1808.3" y="-47.7">19:19<tspan x="1808.3" dy="10.1">3m90</tspan></text><text x="1848.7" y="-46.9">07:44<tspan x="1848.7" dy="10.1">3m90</tspan></text><text x="1889.1" y="-46.3">20:09<tspan x="1889.1" dy="10.1">3m80</tspan></text><text x="1929.5" y="-45.8">08:34<tspan x="1929.5" dy="10.1">3m80</tspan></text><text x="1969.9" y="-45.5">21:00<tspan x="1969.9" dy="10.1">3m80</tspan></text><text x="2010.3" y="-45.5">09:25<tspan x="2010.3" dy="10.1">3m80</tspan></text><text x="2050.7" y="-45.7">21:50<tspan x="2050.7" dy="10.1">3m80</tspan></text><text x="2091.1" y="-46.1">10:15<tspan x="2091.1" dy="10.1">3m80</tspan></text><text x="2131.5" y="-46.7">22:41<tspan x="2131.5" dy="10.1">3m80</tspan></text><text x="2171.9" y="-47.4">11:06<tspan x="2171.9" dy="10.1">3m90</tspan></text><text x="2212.3" y="-48.3">23:31<tspan x="2212.3" dy="10.1">3m90</tspan></text><text x="2252.8" y="-49.3">11:56<tspan x="2252.8" dy="10.1">4m00</tspan></text><text x="2293.2" y="-50.3">00:22<tspan x="2293.2" dy="10.1">4m10</tspan></text><text x="2333.6" y="-51.3">12:47<tspan x="2333.6" dy="10.1">4m00</tspan></text><text x="10.4" y="46.3">0m80<tspan x="10.4" dy="10.1">18:36</tspan></text><text x="50.8" y="47.4">0m70<tspan x="50.8" dy="10.1">07:01</tspan></text><text x="91.2" y="48.4">0m60<tspan x="91.2" dy="10.1">19:26</tspan></text><text x="131.6" y="49.2">0m60<tspan x="131.6" dy="10.1">07:51</tspan></text><text x="172" y="49.9">0m60<tspan x="172" dy="10.1">20:17</tspan></text><text x="212.4" y="50.4">0m50<tspan x="212.4" dy="10.1">08:42</tspan></text><text x="252.8" y="50.6">0m60<tspan x="252.8" dy="10.1">21:07</tspan></text><text x="293.2" y="50.5">0m60<tspan x="293.2" dy="10.1">09:32</tspan></text><text x="333.6" y="50.3">0m50<tspan x="333.6" dy="10.1">21:58</tspan></text><text x="374" y="49.8">0m60<tspan x="374" dy="10.1">10:23</tspan></text><text x="414.4" y="49">0m60<tspan x="414.4" dy="10.1">22:48</tspan></text><text x="454.8" y="48.1">0m60<tspan x="454.8" dy="10.1">11:13</tspan></text><text x="495.2" y="47.1">0m70<tspan x="495.2" dy="10.1">23:39</tspan></text><text x="535.6" y="46">0m70<tspan x="535.6" dy="10.1">12:04</tspan></text><text x="576" y="44.8">0m80<tspan x="576" dy="10.1">00:29</tspan></text><text x="616.4" y="43.7">0m90<tspan x="616.4" dy="10.1">12:54</tspan></text><text x="656.8" y="42.7">0m90<tspan x="656.8" dy="10.1">01:20</tspan></text><text x="697.2" y="41.8">0m90<tspan x="697.2" dy="10.1">13:45</tspan></text><text x="737.7" y="41">1m00<tspan x="737.7" dy="10.1">02:10</tspan></text><text x="778.1" y="40.5">1m00<tspan x="778.1" dy="10.1">14:35</tspan></text><text x="818.5" y="40.3">1m00<tspan x="818.5" dy="10.1">03:00</tspan></text><text x="858.9" y="40.2">1m00<tspan x="858.9" dy="10.1">15:26</tspan></text><text x="899.3" y="40.4">1m00<tspan x="899.3" dy="10.1">03:51</tspan></text><text x="939.7" y="40.9">0m90<tspan x="939.7" dy="10.1">16:16</tspan></text><text x="980.1" y="41.6">1m00<tspan x="980.1" dy="10.1">04:41</tspan></text><text x="1020.5" y="42.4">0m90<tspan x="1020.5" dy="10.1">17:07</tspan></text><text x="1060.9" y="43.4">0m80<tspan x="1060.9" dy="10.1">05:32</tspan></text><text x="1101.3" y="44.5">0m90<tspan x="1101.3" dy="10.1">17:57</tspan></text><text x="1141.7" y="45.7">0m80<tspan x="1141.7" dy="10.1">06:22</tspan></text><text x="1182.1" y="46.8">0m70<tspan x="1182.1" dy="10.1">18:48</tspan></text><text x="1222.5" y="47.9">0m70<tspan x="1222.5" dy="10.1">07:13</tspan></text><text x="1262.9" y="48.8">0m60<tspan x="1262.9" dy="10.1">19:38</tspan></text><text x="1303.3" y="49.6">0m60<tspan x="1303.3" dy="10.1">08:03</tspan></text><text x="1343.7" y="50.2">0m60<tspan x="1343.7" dy="10.1">20:29</tspan></text><text x="1384.1" y="50.5">0m60<tspan x="1384.1" dy="10.1">08:54</tspan></text><text x="1424.5" y="50.6">0m50<tspan x="1424.5" dy="10.1">21:19</tspan></text><text x="1464.9" y="50.4">0m60<tspan x="1464.9" dy="10.1">09:44</tspan></text><text x="1505.3" y="50.1">0m60<tspan x="1505.3" dy="10.1">22:09</tspan></text><text x="1545.7" y="49.4">0m60<tspan x="1545.7" dy="10.1">10:35</tspan></text><text x="1586.1" y="48.6">0m70<tspan x="1586.1" dy="10.1">23:00</tspan></text><text x="1626.5" y="47.6">0m70<tspan x="1626.5" dy="10.1">11:25</tspan></text><text x="1666.9" y="46.6">0m70<tspan x="1666.9" dy="10.1">23:50</tspan></text><text x="1707.3" y="45.4">0m80<tspan x="1707.3" dy="10.1">12:16</tspan></text><text x="1747.7" y="44.3">0m80<tspan x="1747.7" dy="10.1">00:41</tspan></text><text x="1788.1" y="43.2">0m90<tspan x="1788.1" dy="10.1">13:06</tspan></text><text x="1828.5" y="42.2">0m90<tspan x="1828.5" dy="10.1">01:31</tspan></text><text x="1868.9" y="41.4">0m90<tspan x="1868.9" dy="10.1">13:57</tspan></text><text x="1909.3" y="40.8">1m00<tspan x="1909.3" dy="10.1">02:22</tspan></text><text x="1949.7" y="40.4">1m00<tspan x="1949.7" dy="10.1">14:47</tspan></text><text x="1990.1" y="40.2">1m00<tspan x="1990.1" dy="10.1">03:12</tspan></text><text x="2030.5" y="40.3">1m00<tspan x="2030.5" dy="10.1">15:38</tspan></text><text x="2070.9" y="40.6">1m00<tspan x="2070.9" dy="10.1">04:03</tspan></text><text x="2111.3" y="41.2">0m90<tspan x="2111.3" dy="10.1">16:28</tspan></text><text x="2151.7" y="41.9">0m90<tspan x="2151.7" dy="10.1">04:53</tspan></text><text x="2192.1" y="42.9">0m90<tspan x="2192.1" dy="10.1">17:18</tspan></text><text x="2232.6" y="43.9">0m80<tspan x="2232.6" dy="10.1">05:44</tspan></text><text x="2273" y="45.1">0m80<tspan x="2273" dy="10.1">18:09</tspan></text><text x="2313.4" y="46.2">0m80<tspan x="2313.4" dy="10.1">06:34</tspan></text><text x="2353.8" y="47.3">0m70<tspan x="2353.8" dy="10.1">18:59</tspan></text></g>
<g class="d" transform="scale(0.62 1)"><text x="-11.8" y="-63.3">D 1</text><text x="36.8" y="-64.3">M 2</text><text x="133.9" y="-66">D 3</text><text x="231" y="-67.2">F 4</text><text x="328.1" y="-67.6">S 5</text><text x="425.2" y="-67.1">S 6</text><text x="522.3" y="-65.8">M 7</text><text x="619.4" y="-64">D 8</text><text x="716.5" y="-62">M 9</text><text x="813.5" y="-60.2">D 10</text><text x="910.6" y="-58.9">F 11</text><text x="1007.7" y="-58.4">S 12</text><text x="1104.8" y="-58.8">S 13</text><text x="1201.9" y="-60">M 14</text><text x="1299" y="-61.7">D 15</text><text x="1347.6" y="-62.7">M 16</text><text x="1444.7" y="-64.7">D 17</text><text x="1541.8" y="-66.4">F 18</text><text x="1638.9" y="-67.4">S 19</text><text x="1736" y="-67.6">S 20</text><text x="1833.1" y="-66.9">M 21</text><text x="1930.2" y="-65.4">D 22</text><text x="2027.3" y="-63.5">M 23</text><text x="2124.4" y="-61.5">D 24</text><text x="2221.5" y="-59.8">F 25</text><text x="2318.5" y="-58.7">S 26</text><text x="2415.6" y="-58.4">S 27</text><text x="2512.7" y="-59">M 28</text><text x="2609.8" y="-60.3">D 29</text><text x="2706.9" y="-62.2">M 30</text><text x="2755.5" y="-63.2">D 31</text><text x="12.5" y="75.3">D 1</text><text x="61" y="76.4">M 2</text><text x="158.1" y="78.2">D 3</text><text x="255.2" y="79.4">F 4</text><text x="352.3" y="79.5">S 5</text><text x="449.4" y="78.8">S 6</text><text x="546.5" y="77.1">M 7</text><text x="643.6" y="75">D 8</text><text x="692.2" y="73.8">M 9</text><text x="789.3" y="71.7">D 10</text><text x="886.4" y="70">F 11</text><text x="983.5" y="69.3">S 12</text><text x="1080.6" y="69.4">S 13</text><text x="1177.7" y="70.6">M 14</text><text x="1274.8" y="72.4">D 15</text><text x="1371.9" y="74.7">M 16</text><text x="1469" y="76.9">D 17</text><text x="1566" y="78.6">F 18</text><text x="1663.1" y="79.5">S 19</text><text x="1760.2" y="79.4">S 20</text><text x="1857.3" y="78.4">M 21</text><text x="1954.4" y="76.6">D 22</text><text x="2051.5" y="74.4">M 23</text><text x="2100.1" y="73.3">D 24</text><text x="2197.2" y="71.2">F 25</text><text x="2294.3" y="69.8">S 26</text><text x="2391.4" y="69.2">S 27</text><text x="2488.5" y="69.6">M 28</text><text x="2585.6" y="70.9">D 29</text><text x="2682.7" y="72.9">M 30</text><text x="2779.8" y="75.2">D 31</text></g>
<g class="h" transform="scale(0.63 1)"><text x="-50.3" y="-53.4" text-anchor="end">HOCHWASSER</text><text x="-23.5" y="-53.4" text-anchor="end">ZEIT</text><text x="-23.5" y="-43.5" text-anchor="end">HÖHE</text><text x="-32.4" y="47.3" text-anchor="end">NIEDRIGWASSER</text><text x="-0.8" y="47.3" text-anchor="end">HÖHE</text><text x="-0.8" y="57.7" text-anchor="end">ZEIT</text></g>
</g>
<text class="mo" x="353.5" y="663.8" text-anchor="middle" letter-spacing="0.5">NOVEMBER</text>
<g class="pr" transform="translate(229 683.7) scale(0.2233)">
<path class="z" d="M0 -30 15.1 26.2 30.1 -32.2 45.2 26.3 60.2 -32.2 75.2 28.5 90.3 -32.3 105.4 28.1 120.4 -33.9 135.5 27.6 150.5 -32.5 165.6 29.1 180.6 -33.3 195.7 28.1 210.7 -33.1 225.8 26.9 240.8 -31.5 255.9 27.7 270.9 -32.2 286 26 301 -30.3 316.1 24.4 331.1 -29.4 346.2 24.8 361.2 -29.3 376.3 22.8 391.3 -26.9 406.4 21.1 421.4 -27.1 436.5 21.6 451.5 -25.9 466.6 19.9 481.6 -24.5 496.7 18.5 511.7 -25.3 526.8 19.5 541.8 -23.6 556.9 18.4 571.9 -24 586.9 17.7 602 -24.6 617 19.4 632.1 -23.6 647.1 18.9 662.2 -25.5 677.2 19 692.3 -25.4 707.4 21.3 722.4 -26 737.5 21.3 752.5 -28 767.5 21.8 782.6 -27.6 797.6 24.4 812.7 -29.6 827.8 24.5 842.8 -30.5 857.9 25 872.9 -30.5 888 27.4 903 -32.7 918 27.2 933.1 -32.1 948.1 27.3 963.2 -32.8 978.2 29.1 993.3 -33.8 1008.4 28.2 1023.4 -32.4 1038.5 27.6 1053.5 -33.5 1068.5 28.7 1083.6 -32.5 1098.7 27.1 1113.7 -31.4 1128.8 25.9 1143.8 -31.8 1158.8 26.5 1173.9 -29.6 1189 24.4 1204 -29.3 1219 22.9 1234.1 -28.6 1249.2 23.2 1264.2 -26.5 1279.2 21.1 1294.3 -27 1309.3 19.8 1324.4 -25.2 1339.5 20.5 1354.5 -24.5 1369.5 18.8 1384.6 -25 1399.7 18 1414.7 -23.3 1429.8 19.3 1444.8 -24.4 1459.9 18.2 1474.9 -24.3 1490 18.2 1505 -23.9 1520 20.2 1535.1 -25.9 1550.2 19.8 1565.2 -25.4 1580.2 20.3 1595.3 -26.7 1610.4 22.8 1625.4 -28.3 1640.5 22.7 1655.5 -28 1670.5 23.5 1685.6 -30.3 1700.7 26 1715.7 -30.6 1730.8 25.9"/>
<path class="y" d="M-2.7 0H1730.8"/>
<circle cx="27.2" cy="-31.1" r="8.2" fill="#111"/>
<circle cx="492.5" cy="-28.8" r="7.5" fill="#fff" stroke="#111" stroke-width="1.4"/><path d="M492.5 -37a8.2 8.2 0 0 0 0 16.4z" fill="#111"/>
<circle cx="841.4" cy="-30.6" r="7.4" fill="none" stroke="#111" stroke-width="1.6"/>
<circle cx="1306.7" cy="-29.2" r="7.5" fill="#fff" stroke="#111" stroke-width="1.4"/><path d="M1306.7 -37.4a8.2 8.2 0 0 1 0 16.4z" fill="#111"/>
<path class="dt" d="M-7.3 -62.7l27.5 -0.8M22.8 -63.6l18 -0.4M52.9 -64.3l27.5 -0.5M83 -64.8l18 -0.2M113.1 -65.1l27.5 -0.1M143.2 -65.2l18 0.1M173.3 -65.1l27.5 0.3M203.4 -64.7l18 0.3M233.5 -64.2l27.5 0.7M263.6 -63.5l18 0.5M293.7 -62.6l27.5 0.9M323.8 -61.7l18 0.6M353.9 -60.7l27.5 0.9M384 -59.7l18 0.6M414.1 -58.7l27.5 0.8M444.2 -57.8l18 0.4M474.3 -57.1l27.5 0.5M504.4 -56.5l18 0.2M534.5 -56.2l27.5 0.1M564.6 -56l18 0M594.7 -56.1l27.5 -0.3M624.8 -56.4l18 -0.3M654.9 -56.9l27.5 -0.6M685 -57.5l18 -0.5M715.1 -58.3l27.5 -0.9M745.2 -59.3l18 -0.6M775.3 -60.3l27.5 -0.9M805.4 -61.3l27.5 -0.9M835.5 -62.3l18 -0.5M865.6 -63.2l27.5 -0.7M895.7 -63.9l18 -0.4M925.8 -64.5l27.5 -0.4M955.9 -65l18 -0.1M986 -65.2l27.5 0M1016.1 -65.2l18 0.1M1046.2 -64.9l27.5 0.4M1076.3 -64.5l18 0.4M1106.4 -63.9l27.5 0.7M1136.5 -63.1l18 0.5M1166.6 -62.2l27.5 0.9M1196.7 -61.2l18 0.6M1226.8 -60.2l27.5 0.9M1256.9 -59.2l18 0.6M1287 -58.3l27.5 0.7M1317.1 -57.5l18 0.4M1347.2 -56.8l27.5 0.4M1377.3 -56.3l18 0.2M1407.4 -56.1l27.5 0M1437.5 -56l18 -0.1M1467.6 -56.2l27.5 -0.4M1497.7 -56.6l18 -0.3M1527.8 -57.1l27.5 -0.7M1557.9 -57.9l18 -0.5M1588 -58.8l27.5 -0.9M1618.1 -59.7l18 -0.6M1648.2 -60.7l27.5 -0.9M1678.3 -61.7l27.5 -0.9M1708.4 -62.7l18 0M7.8 61l27 0.8M37.9 61.9l17.5 0.4M68 62.6l27 0.4M98.1 63l17.5 0.1M128.2 63.3l27 0M158.2 63.3l17.5 -0.2M188.4 63l27 -0.5M218.5 62.5l17.5 -0.4M248.6 61.8l27 -0.8M278.7 60.9l17.5 -0.6M308.8 59.9l27 -1M338.9 58.7l27 -1M369 57.6l17.5 -0.7M399.1 56.5l27 -0.9M429.2 55.4l17.5 -0.5M459.2 54.5l27 -0.7M489.4 53.8l17.5 -0.3M519.5 53.3l27 -0.3M549.6 53l17.5 0M579.6 52.9l27 0.2M609.8 53.1l17.5 0.3M639.9 53.6l27 0.6M670 54.2l17.5 0.5M700.1 55.1l27 0.9M730.2 56.1l17.5 0.6M760.2 57.2l27 1M790.4 58.3l17.5 0.7M820.5 59.4l27 1M850.6 60.5l17.5 0.6M880.7 61.4l27 0.7M910.8 62.2l17.5 0.3M940.9 62.8l27 0.3M971 63.2l17.5 0.1M1001.1 63.3l27 -0.1M1031.2 63.2l17.5 -0.2M1061.2 62.8l27 -0.5M1091.4 62.2l17.5 -0.5M1121.5 61.4l27 -0.9M1151.5 60.4l17.5 -0.6M1181.7 59.3l27 -1M1211.8 58.2l27 -1M1241.9 57.1l17.5 -0.6M1272 56l27 -0.9M1302 55l17.5 -0.5M1332.2 54.2l27 -0.6M1362.2 53.5l17.5 -0.2M1392.4 53.1l27 -0.2M1422.5 52.9l17.5 0M1452.6 53l27 0.3M1482.7 53.3l17.5 0.3M1512.8 53.8l27 0.7M1542.9 54.6l17.5 0.5M1573 55.5l27 0.9M1603.1 56.6l17.5 0.7M1633.2 57.7l27 1M1663.2 58.8l17.5 0.6M1693.4 59.9l27 0.9M1723.5 61l17.5 0"/>
<g class="w" transform="scale(0.745 1)"><text x="-9.8" y="-52.2">01:12<tspan x="-9.8" dy="10.1">4m10</tspan></text><text x="30.6" y="-53.1">13:37<tspan x="30.6" dy="10.1">4m20</tspan></text><text x="71" y="-53.8">02:03<tspan x="71" dy="10.1">4m20</tspan></text><text x="111.4" y="-54.3">14:28<tspan x="111.4" dy="10.1">4m20</tspan></text><text x="151.8" y="-54.6">02:53<tspan x="151.8" dy="10.1">4m30</tspan></text><text x="192.2" y="-54.7">15:18<tspan x="192.2" dy="10.1">4m20</tspan></text><text x="232.6" y="-54.6">03:43<tspan x="232.6" dy="10.1">4m20</tspan></text><text x="273" y="-54.2">16:09<tspan x="273" dy="10.1">4m20</tspan></text><text x="313.4" y="-53.7">04:34<tspan x="313.4" dy="10.1">4m20</tspan></text><text x="353.8" y="-53">16:59<tspan x="353.8" dy="10.1">4m20</tspan></text><text x="394.2" y="-52.1">05:24<tspan x="394.2" dy="10.1">4m10</tspan></text><text x="434.6" y="-51.2">17:50<tspan x="434.6" dy="10.1">4m10</tspan></text><text x="475" y="-50.2">06:15<tspan x="475" dy="10.1">4m10</tspan></text><text x="515.4" y="-49.2">18:40<tspan x="515.4" dy="10.1">3m90</tspan></text><text x="555.8" y="-48.2">07:05<tspan x="555.8" dy="10.1">4m00</tspan></text><text x="596.2" y="-47.3">19:31<tspan x="596.2" dy="10.1">3m90</tspan></text><text x="636.6" y="-46.6">07:56<tspan x="636.6" dy="10.1">3m80</tspan></text><text x="677" y="-46">20:21<tspan x="677" dy="10.1">3m90</tspan></text><text x="717.4" y="-45.7">08:46<tspan x="717.4" dy="10.1">3m80</tspan></text><text x="757.9" y="-45.5">21:12<tspan x="757.9" dy="10.1">3m80</tspan></text><text x="798.3" y="-45.6">09:37<tspan x="798.3" dy="10.1">3m80</tspan></text><text x="838.7" y="-45.9">22:02<tspan x="838.7" dy="10.1">3m80</tspan></text><text x="879.1" y="-46.4">10:27<tspan x="879.1" dy="10.1">3m90</tspan></text><text x="919.5" y="-47">22:52<tspan x="919.5" dy="10.1">3m90</tspan></text><text x="959.9" y="-47.8">11:18<tspan x="959.9" dy="10.1">3m90</tspan></text><text x="1000.3" y="-48.8">23:43<tspan x="1000.3" dy="10.1">4m00</tspan></text><text x="1040.7" y="-49.8">12:08<tspan x="1040.7" dy="10.1">4m00</tspan></text><text x="1081.1" y="-50.8">00:33<tspan x="1081.1" dy="10.1">4m10</tspan></text><text x="1121.5" y="-51.8">12:59<tspan x="1121.5" dy="10.1">4m10</tspan></text><text x="1161.9" y="-52.7">01:24<tspan x="1161.9" dy="10.1">4m10</tspan></text><text x="1202.3" y="-53.4">13:49<tspan x="1202.3" dy="10.1">4m20</tspan></text><text x="1242.7" y="-54">02:14<tspan x="1242.7" dy="10.1">4m20</tspan></text><text x="1283.1" y="-54.5">14:40<tspan x="1283.1" dy="10.1">4m20</tspan></text><text x="1323.5" y="-54.7">03:05<tspan x="1323.5" dy="10.1">4m30</tspan></text><text x="1363.9" y="-54.7">15:30<tspan x="1363.9" dy="10.1">4m20</tspan></text><text x="1404.3" y="-54.4">03:55<tspan x="1404.3" dy="10.1">4m30</tspan></text><text x="1444.7" y="-54">16:21<tspan x="1444.7" dy="10.1">4m20</tspan></text><text x="1485.1" y="-53.4">04:46<tspan x="1485.1" dy="10.1">4m10</tspan></text><text x="1525.5" y="-52.6">17:11<tspan x="1525.5" dy="10.1">4m20</tspan></text><text x="1565.9" y="-51.7">05:36<tspan x="1565.9" dy="10.1">4m10</tspan></text><text x="1606.3" y="-50.7">18:01<tspan x="1606.3" dy="10.1">4m10</tspan></text><text x="1646.7" y="-49.7">06:27<tspan x="1646.7" dy="10.1">4m00</tspan></text><text x="1687.1" y="-48.7">18:52<tspan x="1687.1" dy="10.1">3m90</tspan></text><text x="1727.5" y="-47.8">07:17<tspan x="1727.5" dy="10.1">3m90</tspan></text><text x="1767.9" y="-47">19:42<tspan x="1767.9" dy="10.1">3m90</tspan></text><text x="1808.3" y="-46.3">08:08<tspan x="1808.3" dy="10.1">3m80</tspan></text><text x="1848.7" y="-45.8">20:33<tspan x="1848.7" dy="10.1">3m90</tspan></text><text x="1889.1" y="-45.6">08:58<tspan x="1889.1" dy="10.1">3m80</tspan></text><text x="1929.5" y="-45.5">21:23<tspan x="1929.5" dy="10.1">3m80</tspan></text><text x="1969.9" y="-45.7">09:49<tspan x="1969.9" dy="10.1">3m80</tspan></text><text x="2010.3" y="-46.1">22:14<tspan x="2010.3" dy="10.1">3m80</tspan></text><text x="2050.7" y="-46.6">10:39<tspan x="2050.7" dy="10.1">3m90</tspan></text><text x="2091.1" y="-47.4">23:04<tspan x="2091.1" dy="10.1">3m90</tspan></text><text x="2131.5" y="-48.3">11:30<tspan x="2131.5" dy="10.1">3m90</tspan></text><text x="2171.9" y="-49.2">23:55<tspan x="2171.9" dy="10.1">4m00</tspan></text><text x="2212.3" y="-50.2">12:20<tspan x="2212.3" dy="10.1">4m00</tspan></text><text x="2252.8" y="-51.2">00:45<tspan x="2252.8" dy="10.1">4m10</tspan></text><text x="2293.2" y="-52.2">13:10<tspan x="2293.2" dy="10.1">4m10</tspan></text><text x="10.4" y="48.3">0m70<tspan x="10.4" dy="10.1">07:25</tspan></text><text x="50.8" y="49.2">0m60<tspan x="50.8" dy="10.1">19:50</tspan></text><text x="91.2" y="49.9">0m60<tspan x="91.2" dy="10.1">08:15</tspan></text><text x="131.6" y="50.3">0m60<tspan x="131.6" dy="10.1">20:40</tspan></text><text x="172" y="50.6">0m50<tspan x="172" dy="10.1">09:06</tspan></text><text x="212.4" y="50.6">0m60<tspan x="212.4" dy="10.1">21:31</tspan></text><text x="252.8" y="50.3">0m60<tspan x="252.8" dy="10.1">09:56</tspan></text><text x="293.2" y="49.8">0m60<tspan x="293.2" dy="10.1">22:21</tspan></text><text x="333.6" y="49.1">0m70<tspan x="333.6" dy="10.1">10:47</tspan></text><text x="374" y="48.2">0m70<tspan x="374" dy="10.1">23:12</tspan></text><text x="414.4" y="47.2">0m70<tspan x="414.4" dy="10.1">11:37</tspan></text><text x="454.8" y="46">0m80<tspan x="454.8" dy="10.1">00:02</tspan></text><text x="495.2" y="44.9">0m80<tspan x="495.2" dy="10.1">12:27</tspan></text><text x="535.6" y="43.8">0m80<tspan x="535.6" dy="10.1">00:53</tspan></text><text x="576" y="42.7">0m90<tspan x="576" dy="10.1">13:18</tspan></text><text x="616.4" y="41.8">0m90<tspan x="616.4" dy="10.1">01:43</tspan></text><text x="656.8" y="41.1">0m90<tspan x="656.8" dy="10.1">14:08</tspan></text><text x="697.2" y="40.6">1m00<tspan x="697.2" dy="10.1">02:34</tspan></text><text x="737.7" y="40.3">1m00<tspan x="737.7" dy="10.1">14:59</tspan></text><text x="778.1" y="40.2">1m00<tspan x="778.1" dy="10.1">03:24</tspan></text><text x="818.5" y="40.4">1m00<tspan x="818.5" dy="10.1">15:49</tspan></text><text x="858.9" y="40.9">1m00<tspan x="858.9" dy="10.1">04:15</tspan></text><text x="899.3" y="41.5">0m90<tspan x="899.3" dy="10.1">16:40</tspan></text><text x="939.7" y="42.4">0m90<tspan x="939.7" dy="10.1">05:05</tspan></text><text x="980.1" y="43.4">0m90<tspan x="980.1" dy="10.1">17:30</tspan></text><text x="1020.5" y="44.5">0m80<tspan x="1020.5" dy="10.1">05:56</tspan></text><text x="1060.9" y="45.6">0m80<tspan x="1060.9" dy="10.1">18:21</tspan></text><text x="1101.3" y="46.7">0m70<tspan x="1101.3" dy="10.1">06:46</tspan></text><text x="1141.7" y="47.8">0m70<tspan x="1141.7" dy="10.1">19:11</tspan></text><text x="1182.1" y="48.7">0m70<tspan x="1182.1" dy="10.1">07:36</tspan></text><text x="1222.5" y="49.5">0m60<tspan x="1222.5" dy="10.1">20:02</tspan></text><text x="1262.9" y="50.1">0m60<tspan x="1262.9" dy="10.1">08:27</tspan></text><text x="1303.3" y="50.5">0m60<tspan x="1303.3" dy="10.1">20:52</tspan></text><text x="1343.7" y="50.6">0m60<tspan x="1343.7" dy="10.1">09:17</tspan></text><text x="1384.1" y="50.5">0m50<tspan x="1384.1" dy="10.1">21:43</tspan></text><text x="1424.5" y="50.1">0m60<tspan x="1424.5" dy="10.1">10:08</tspan></text><text x="1464.9" y="49.5">0m60<tspan x="1464.9" dy="10.1">22:33</tspan></text><text x="1505.3" y="48.7">0m60<tspan x="1505.3" dy="10.1">10:58</tspan></text><text x="1545.7" y="47.7">0m70<tspan x="1545.7" dy="10.1">23:24</tspan></text><text x="1586.1" y="46.6">0m70<tspan x="1586.1" dy="10.1">11:49</tspan></text><text x="1626.5" y="45.5">0m80<tspan x="1626.5" dy="10.1">00:14</tspan></text><text x="1666.9" y="44.4">0m90<tspan x="1666.9" dy="10.1">12:39</tspan></text><text x="1707.3" y="43.3">0m90<tspan x="1707.3" dy="10.1">01:05</tspan></text><text x="1747.7" y="42.3">0m90<tspan x="1747.7" dy="10.1">13:30</tspan></text><text x="1788.1" y="41.5">1m00<tspan x="1788.1" dy="10.1">01:55</tspan></text><text x="1828.5" y="40.8">1m00<tspan x="1828.5" dy="10.1">14:20</tspan></text><text x="1868.9" y="40.4">1m00<tspan x="1868.9" dy="10.1">02:46</tspan></text><text x="1909.3" y="40.2">1m00<tspan x="1909.3" dy="10.1">15:11</tspan></text><text x="1949.7" y="40.3">1m00<tspan x="1949.7" dy="10.1">03:36</tspan></text><text x="1990.1" y="40.6">1m00<tspan x="1990.1" dy="10.1">16:01</tspan></text><text x="2030.5" y="41.1">1m00<tspan x="2030.5" dy="10.1">04:26</tspan></text><text x="2070.9" y="41.9">0m90<tspan x="2070.9" dy="10.1">16:52</tspan></text><text x="2111.3" y="42.8">0m90<tspan x="2111.3" dy="10.1">05:17</tspan></text><text x="2151.7" y="43.9">0m90<tspan x="2151.7" dy="10.1">17:42</tspan></text><text x="2192.1" y="45">0m80<tspan x="2192.1" dy="10.1">06:07</tspan></text><text x="2232.6" y="46.1">0m70<tspan x="2232.6" dy="10.1">18:33</tspan></text><text x="2273" y="47.2">0m70<tspan x="2273" dy="10.1">06:58</tspan></text><text x="2313.4" y="48.3">0m60<tspan x="2313.4" dy="10.1">19:23</tspan></text></g>
<g class="d" transform="scale(0.62 1)"><text x="-11.8" y="-65.1">F 1</text><text x="85.3" y="-66.7">S 2</text><text x="182.4" y="-67.5">S 3</text><text x="279.5" y="-67.5">M 4</text><text x="376.6" y="-66.6">D 5</text><text x="473.7" y="-65">M 6</text><text x="570.8" y="-63.1">D 7</text><text x="667.9" y="-61.1">F 8</text><text x="765" y="-59.5">S 9</text><text x="862.1" y="-58.6">S 10</text><text x="959.2" y="-58.5">M 11</text><text x="1056.3" y="-59.3">D 12</text><text x="1153.4" y="-60.7">M 13</text><text x="1250.5" y="-62.7">D 14</text><text x="1299" y="-63.7">F 15</text><text x="1396.1" y="-65.6">S 16</text><text x="1493.2" y="-66.9">S 17</text><text x="1590.3" y="-67.6">M 18</text><text x="1687.4" y="-67.3">D 19</text><text x="1784.5" y="-66.3">M 20</text><text x="1881.6" y="-64.6">D 21</text><text x="1978.7" y="-62.6">F 22</text><text x="2075.8" y="-60.7">S 23</text><text x="2172.9" y="-59.2">S 24</text><text x="2270" y="-58.5">M 25</text><text x="2367.1" y="-58.6">D 26</text><text x="2464.2" y="-59.5">M 27</text><text x="2561.3" y="-61.2">D 28</text><text x="2658.4" y="-63.1">F 29</text><text x="2706.9" y="-64.1">S 30</text><text x="12.5" y="77.3">F 1</text><text x="109.6" y="78.9">S 2</text><text x="206.7" y="79.6">S 3</text><text x="303.8" y="79.3">M 4</text><text x="400.9" y="78.1">D 5</text><text x="498" y="76.2">M 6</text><text x="546.5" y="75">D 7</text><text x="643.6" y="72.8">F 8</text><text x="740.7" y="70.8">S 9</text><text x="837.8" y="69.6">S 10</text><text x="934.9" y="69.2">M 11</text><text x="1032" y="69.9">D 12</text><text x="1129.1" y="71.4">M 13</text><text x="1226.2" y="73.5">D 14</text><text x="1323.3" y="75.7">F 15</text><text x="1420.4" y="77.7">S 16</text><text x="1517.5" y="79.1">S 17</text><text x="1614.6" y="79.6">M 18</text><text x="1711.7" y="79.1">D 19</text><text x="1808.8" y="77.7">M 20</text><text x="1905.9" y="75.6">D 21</text><text x="1954.4" y="74.5">F 22</text><text x="2051.5" y="72.3">S 23</text><text x="2148.6" y="70.5">S 24</text><text x="2245.7" y="69.4">M 25</text><text x="2342.8" y="69.3">D 26</text><text x="2439.9" y="70.1">M 27</text><text x="2537" y="71.8">D 28</text><text x="2634.1" y="74">F 29</text><text x="2731.2" y="76.2">S 30</text></g>
<g class="h" transform="scale(0.63 1)"><text x="-50.3" y="-53.4" text-anchor="end">HOCHWASSER</text><text x="-23.5" y="-53.4" text-anchor="end">ZEIT</text><text x="-23.5" y="-43.5" text-anchor="end">HÖHE</text><text x="-32.4" y="47.3" text-anchor="end">NIEDRIGWASSER</text><text x="-0.8" y="47.3" text-anchor="end">HÖHE</text><text x="-0.8" y="57.7" text-anchor="end">ZEIT</text></g>
</g>
<text class="mo" x="344.7" y="707.1" text-anchor="middle" letter-spacing="0.5">DEZEMBER</text>
<g class="pr" transform="translate(229 727) scale(0.2233)">
<path class="z" d="M0 -31.1 15.1 26.2 30.1 -33 45.2 28.4 60.2 -32.1 75.2 28.2 90.3 -33.4 105.4 27.6 120.4 -33.5 135.5 29.1 150.5 -32.4 165.6 28.2 180.6 -33.5 195.7 26.9 210.7 -31.8 225.8 27.7 240.8 -31.4 255.9 26.2 270.9 -31.3 286 24.4 301 -29 316.1 24.8 331.1 -29.2 346.2 23 361.2 -27.7 376.3 21.1 391.3 -26.2 406.4 21.6 421.4 -26.6 436.5 20 451.5 -24.5 466.6 18.5 481.6 -24.7 496.7 19.5 511.7 -24.6 526.8 18.5 541.8 -23.3 556.9 17.7 571.9 -24.7 586.9 19.4 602 -24.1 617 19 632.1 -24.5 647.1 18.9 662.2 -26.2 677.2 21.2 692.3 -25.6 707.4 21.3 722.4 -27.6 737.5 21.7 752.5 -28.4 767.5 24.3 782.6 -28.6 797.6 24.6 812.7 -31 827.8 24.9 842.8 -30.6 857.9 27.4 872.9 -31.8 888 27.3 903 -33.1 918 27.2 933.1 -32.2 948.1 29.1 963.2 -33.7 978.2 28.3 993.3 -33.1 1008.4 27.6 1023.4 -32.5 1038.5 28.7 1053.5 -33.3 1068.5 27.3 1083.6 -31.3 1098.7 25.9 1113.7 -31.3 1128.8 26.5 1143.8 -30.6 1158.8 24.5 1173.9 -28.5 1189 22.9 1204 -29 1219 23.3 1234.1 -26.9 1249.2 21.3 1264.2 -26.1 1279.2 19.8 1294.3 -26.2 1309.3 20.5 1324.4 -24.1 1339.5 18.9 1354.5 -24.8 1369.5 17.9 1384.6 -24.2 1399.7 19.2 1414.7 -23.4 1429.8 18.3 1444.8 -24.9 1459.9 18.1 1474.9 -24 1490 20.1 1505 -25.1 1520 19.8 1535.1 -26.3 1550.2 20.2 1565.2 -26 1580.2 22.7 1595.3 -28.3 1610.4 22.8 1625.4 -28.5 1640.5 23.4 1655.5 -29.3 1670.5 25.9 1685.6 -31.4 1700.7 25.9 1715.7 -30.8 1730.8 26.3 1745.8 -32.5 1760.9 28.5 1775.9 -33 1791 27.9"/>
<path class="y" d="M-2.7 0H1791"/>
<circle cx="26.2" cy="-31.3" r="8.2" fill="#111"/>
<circle cx="433.3" cy="-29" r="7.5" fill="#fff" stroke="#111" stroke-width="1.4"/><path d="M433.3 -37.2a8.2 8.2 0 0 0 0 16.4z" fill="#111"/>
<circle cx="840.5" cy="-30.9" r="7.4" fill="none" stroke="#111" stroke-width="1.6"/>
<circle cx="1247.6" cy="-29.5" r="7.5" fill="#fff" stroke="#111" stroke-width="1.4"/><path d="M1247.6 -37.7a8.2 8.2 0 0 1 0 16.4z" fill="#111"/>
<circle cx="1712.9" cy="-31.1" r="8.2" fill="#111"/>
<path class="dt" d="M-7.3 -63.5l27.5 -0.6M22.8 -64.2l18 -0.3M52.9 -64.8l27.5 -0.3M83 -65.1l18 -0.1M113.1 -65.2l27.5 0.1M143.2 -65.1l18 0.2M173.3 -64.8l27.5 0.5M203.4 -64.2l18 0.4M233.5 -63.5l27.5 0.8M263.6 -62.7l18 0.6M293.7 -61.7l27.5 0.9M323.8 -60.7l18 0.6M353.9 -59.7l27.5 0.9M384 -58.7l18 0.5M414.1 -57.9l27.5 0.7M444.2 -57.1l18 0.3M474.3 -56.6l27.5 0.3M504.4 -56.2l18 0.1M534.5 -56l27.5 -0.1M564.6 -56.1l18 -0.2M594.7 -56.3l27.5 -0.4M624.8 -56.8l18 -0.4M654.9 -57.5l27.5 -0.7M685 -58.3l18 -0.6M715.1 -59.2l27.5 -0.9M745.2 -60.2l27.5 -0.9M775.3 -61.2l18 -0.6M805.4 -62.2l27.5 -0.8M835.5 -63.1l18 -0.5M865.6 -63.9l27.5 -0.6M895.7 -64.5l18 -0.3M925.8 -64.9l27.5 -0.2M955.9 -65.2l18 0M986 -65.2l27.5 0.2M1016.1 -65l18 0.3M1046.2 -64.5l27.5 0.6M1076.3 -63.9l18 0.5M1106.4 -63.1l27.5 0.8M1136.5 -62.2l18 0.6M1166.6 -61.3l27.5 0.9M1196.7 -60.2l18 0.6M1226.8 -59.3l27.5 0.8M1256.9 -58.3l18 0.5M1287 -57.5l27.5 0.6M1317.1 -56.8l18 0.3M1347.2 -56.3l27.5 0.3M1377.3 -56.1l18 0M1407.4 -56l27.5 -0.1M1437.5 -56.2l18 -0.2M1467.6 -56.5l27.5 -0.5M1497.7 -57.1l18 -0.4M1527.8 -57.8l27.5 -0.8M1557.9 -58.7l18 -0.6M1588 -59.7l27.5 -0.9M1618.1 -60.7l27.5 -0.9M1648.2 -61.7l18 -0.6M1678.3 -62.6l27.5 -0.8M1708.4 -63.5l18 -0.4M1738.5 -64.2l27.5 -0.5M1768.6 -64.7l18 0M7.8 61.8l27 0.6M37.9 62.5l17.5 0.3M68 63l27 0.2M98.1 63.3l17.5 0M128.2 63.3l27 -0.2M158.2 63l17.5 -0.3M188.4 62.5l27 -0.6M218.5 61.8l17.5 -0.5M248.6 60.9l27 -0.9M278.7 59.9l17.5 -0.6M308.8 58.8l27 -1M338.9 57.7l27 -1M369 56.5l17.5 -0.6M399.1 55.5l27 -0.8M429.2 54.6l17.5 -0.4M459.2 53.8l27 -0.5M489.4 53.3l17.5 -0.2M519.5 53l27 -0.1M549.6 52.9l17.5 0.1M579.6 53.1l27 0.4M609.8 53.5l17.5 0.4M639.9 54.2l27 0.8M670 55l17.5 0.6M700.1 56l27 1M730.2 57.1l17.5 0.7M760.2 58.2l27 1M790.4 59.4l17.5 0.6M820.5 60.4l27 0.9M850.6 61.4l17.5 0.5M880.7 62.2l27 0.5M910.8 62.8l17.5 0.2M940.9 63.2l27 0.1M971 63.3l17.5 -0.1M1001.1 63.2l27 -0.3M1031.2 62.8l17.5 -0.3M1061.2 62.2l27 -0.7M1091.4 61.4l17.5 -0.6M1121.5 60.5l27 -1M1151.5 59.4l17.5 -0.7M1181.7 58.3l27 -1M1211.8 57.1l27 -1M1241.9 56l17.5 -0.6M1272 55l27 -0.8M1302 54.2l17.5 -0.4M1332.2 53.5l27 -0.4M1362.2 53.1l17.5 -0.1M1392.4 52.9l27 0M1422.5 53l17.5 0.2M1452.6 53.3l27 0.5M1482.7 53.8l17.5 0.4M1512.8 54.5l27 0.8M1542.9 55.5l17.5 0.6M1573 56.5l27 1M1603.1 57.6l17.5 0.7M1633.2 58.8l27 1M1663.2 59.9l17.5 0.6M1693.4 60.9l27 0.8M1723.5 61.8l17.5 0.4M1753.6 62.5l27 0.4M1783.7 63l17.5 0"/>
<g class="w" transform="scale(0.745 1)"><text x="-9.8" y="-53">01:36<tspan x="-9.8" dy="10.1">4m10</tspan></text><text x="30.6" y="-53.7">14:01<tspan x="30.6" dy="10.1">4m20</tspan></text><text x="71" y="-54.3">02:26<tspan x="71" dy="10.1">4m20</tspan></text><text x="111.4" y="-54.6">14:51<tspan x="111.4" dy="10.1">4m20</tspan></text><text x="151.8" y="-54.7">03:17<tspan x="151.8" dy="10.1">4m30</tspan></text><text x="192.2" y="-54.6">15:42<tspan x="192.2" dy="10.1">4m20</tspan></text><text x="232.6" y="-54.3">04:07<tspan x="232.6" dy="10.1">4m30</tspan></text><text x="273" y="-53.7">16:32<tspan x="273" dy="10.1">4m20</tspan></text><text x="313.4" y="-53">04:58<tspan x="313.4" dy="10.1">4m20</tspan></text><text x="353.8" y="-52.2">17:23<tspan x="353.8" dy="10.1">4m20</tspan></text><text x="394.2" y="-51.2">05:48<tspan x="394.2" dy="10.1">4m00</tspan></text><text x="434.6" y="-50.2">18:13<tspan x="434.6" dy="10.1">4m10</tspan></text><text x="475" y="-49.2">06:39<tspan x="475" dy="10.1">4m00</tspan></text><text x="515.4" y="-48.2">19:04<tspan x="515.4" dy="10.1">3m90</tspan></text><text x="555.8" y="-47.4">07:29<tspan x="555.8" dy="10.1">3m90</tspan></text><text x="596.2" y="-46.6">19:54<tspan x="596.2" dy="10.1">3m80</tspan></text><text x="636.6" y="-46.1">08:20<tspan x="636.6" dy="10.1">3m80</tspan></text><text x="677" y="-45.7">20:45<tspan x="677" dy="10.1">3m80</tspan></text><text x="717.4" y="-45.5">09:10<tspan x="717.4" dy="10.1">3m80</tspan></text><text x="757.9" y="-45.6">21:35<tspan x="757.9" dy="10.1">3m80</tspan></text><text x="798.3" y="-45.8">10:00<tspan x="798.3" dy="10.1">3m80</tspan></text><text x="838.7" y="-46.3">22:26<tspan x="838.7" dy="10.1">3m80</tspan></text><text x="879.1" y="-47">10:51<tspan x="879.1" dy="10.1">3m90</tspan></text><text x="919.5" y="-47.8">23:16<tspan x="919.5" dy="10.1">3m90</tspan></text><text x="959.9" y="-48.7">11:41<tspan x="959.9" dy="10.1">4m00</tspan></text><text x="1000.3" y="-49.7">00:07<tspan x="1000.3" dy="10.1">4m00</tspan></text><text x="1040.7" y="-50.7">12:32<tspan x="1040.7" dy="10.1">4m00</tspan></text><text x="1081.1" y="-51.7">00:57<tspan x="1081.1" dy="10.1">4m10</tspan></text><text x="1121.5" y="-52.6">13:22<tspan x="1121.5" dy="10.1">4m10</tspan></text><text x="1161.9" y="-53.4">01:48<tspan x="1161.9" dy="10.1">4m20</tspan></text><text x="1202.3" y="-54">14:13<tspan x="1202.3" dy="10.1">4m20</tspan></text><text x="1242.7" y="-54.4">02:38<tspan x="1242.7" dy="10.1">4m20</tspan></text><text x="1283.1" y="-54.7">15:03<tspan x="1283.1" dy="10.1">4m30</tspan></text><text x="1323.5" y="-54.7">03:29<tspan x="1323.5" dy="10.1">4m20</tspan></text><text x="1363.9" y="-54.5">15:54<tspan x="1363.9" dy="10.1">4m20</tspan></text><text x="1404.3" y="-54">04:19<tspan x="1404.3" dy="10.1">4m20</tspan></text><text x="1444.7" y="-53.4">16:44<tspan x="1444.7" dy="10.1">4m10</tspan></text><text x="1485.1" y="-52.6">05:09<tspan x="1485.1" dy="10.1">4m20</tspan></text><text x="1525.5" y="-51.7">17:35<tspan x="1525.5" dy="10.1">4m10</tspan></text><text x="1565.9" y="-50.8">06:00<tspan x="1565.9" dy="10.1">4m00</tspan></text><text x="1606.3" y="-49.7">18:25<tspan x="1606.3" dy="10.1">4m00</tspan></text><text x="1646.7" y="-48.8">06:50<tspan x="1646.7" dy="10.1">3m90</tspan></text><text x="1687.1" y="-47.8">19:16<tspan x="1687.1" dy="10.1">3m90</tspan></text><text x="1727.5" y="-47">07:41<tspan x="1727.5" dy="10.1">3m90</tspan></text><text x="1767.9" y="-46.3">20:06<tspan x="1767.9" dy="10.1">3m80</tspan></text><text x="1808.3" y="-45.8">08:31<tspan x="1808.3" dy="10.1">3m80</tspan></text><text x="1848.7" y="-45.6">20:57<tspan x="1848.7" dy="10.1">3m80</tspan></text><text x="1889.1" y="-45.5">09:22<tspan x="1889.1" dy="10.1">3m80</tspan></text><text x="1929.5" y="-45.7">21:47<tspan x="1929.5" dy="10.1">3m80</tspan></text><text x="1969.9" y="-46">10:12<tspan x="1969.9" dy="10.1">3m80</tspan></text><text x="2010.3" y="-46.6">22:38<tspan x="2010.3" dy="10.1">3m90</tspan></text><text x="2050.7" y="-47.3">11:03<tspan x="2050.7" dy="10.1">3m90</tspan></text><text x="2091.1" y="-48.2">23:28<tspan x="2091.1" dy="10.1">3m90</tspan></text><text x="2131.5" y="-49.2">11:53<tspan x="2131.5" dy="10.1">4m00</tspan></text><text x="2171.9" y="-50.2">00:18<tspan x="2171.9" dy="10.1">4m00</tspan></text><text x="2212.3" y="-51.2">12:44<tspan x="2212.3" dy="10.1">4m10</tspan></text><text x="2252.8" y="-52.1">01:09<tspan x="2252.8" dy="10.1">4m20</tspan></text><text x="2293.2" y="-53">13:34<tspan x="2293.2" dy="10.1">4m10</tspan></text><text x="2333.6" y="-53.7">01:59<tspan x="2333.6" dy="10.1">4m20</tspan></text><text x="2374" y="-54.2">14:25<tspan x="2374" dy="10.1">4m20</tspan></text><text x="10.4" y="49.1">0m60<tspan x="10.4" dy="10.1">07:48</tspan></text><text x="50.8" y="49.8">0m60<tspan x="50.8" dy="10.1">20:14</tspan></text><text x="91.2" y="50.3">0m60<tspan x="91.2" dy="10.1">08:39</tspan></text><text x="131.6" y="50.6">0m50<tspan x="131.6" dy="10.1">21:04</tspan></text><text x="172" y="50.6">0m60<tspan x="172" dy="10.1">09:29</tspan></text><text x="212.4" y="50.3">0m60<tspan x="212.4" dy="10.1">21:55</tspan></text><text x="252.8" y="49.8">0m60<tspan x="252.8" dy="10.1">10:20</tspan></text><text x="293.2" y="49.1">0m70<tspan x="293.2" dy="10.1">22:45</tspan></text><text x="333.6" y="48.2">0m70<tspan x="333.6" dy="10.1">11:10</tspan></text><text x="374" y="47.2">0m70<tspan x="374" dy="10.1">23:35</tspan></text><text x="414.4" y="46.1">0m80<tspan x="414.4" dy="10.1">12:01</tspan></text><text x="454.8" y="45">0m80<tspan x="454.8" dy="10.1">00:26</tspan></text><text x="495.2" y="43.8">0m80<tspan x="495.2" dy="10.1">12:51</tspan></text><text x="535.6" y="42.8">0m90<tspan x="535.6" dy="10.1">01:16</tspan></text><text x="576" y="41.9">0m90<tspan x="576" dy="10.1">13:42</tspan></text><text x="616.4" y="41.1">0m90<tspan x="616.4" dy="10.1">02:07</tspan></text><text x="656.8" y="40.6">1m00<tspan x="656.8" dy="10.1">14:32</tspan></text><text x="697.2" y="40.3">1m00<tspan x="697.2" dy="10.1">02:57</tspan></text><text x="737.7" y="40.2">1m00<tspan x="737.7" dy="10.1">15:23</tspan></text><text x="778.1" y="40.4">1m00<tspan x="778.1" dy="10.1">03:48</tspan></text><text x="818.5" y="40.8">1m00<tspan x="818.5" dy="10.1">16:13</tspan></text><text x="858.9" y="41.5">0m90<tspan x="858.9" dy="10.1">04:38</tspan></text><text x="899.3" y="42.3">0m90<tspan x="899.3" dy="10.1">17:04</tspan></text><text x="939.7" y="43.3">0m90<tspan x="939.7" dy="10.1">05:29</tspan></text><text x="980.1" y="44.4">0m80<tspan x="980.1" dy="10.1">17:54</tspan></text><text x="1020.5" y="45.5">0m80<tspan x="1020.5" dy="10.1">06:19</tspan></text><text x="1060.9" y="46.7">0m70<tspan x="1060.9" dy="10.1">18:44</tspan></text><text x="1101.3" y="47.7">0m70<tspan x="1101.3" dy="10.1">07:10</tspan></text><text x="1141.7" y="48.7">0m70<tspan x="1141.7" dy="10.1">19:35</tspan></text><text x="1182.1" y="49.5">0m60<tspan x="1182.1" dy="10.1">08:00</tspan></text><text x="1222.5" y="50.1">0m60<tspan x="1222.5" dy="10.1">20:25</tspan></text><text x="1262.9" y="50.5">0m60<tspan x="1262.9" dy="10.1">08:51</tspan></text><text x="1303.3" y="50.6">0m60<tspan x="1303.3" dy="10.1">21:16</tspan></text><text x="1343.7" y="50.5">0m50<tspan x="1343.7" dy="10.1">09:41</tspan></text><text x="1384.1" y="50.1">0m60<tspan x="1384.1" dy="10.1">22:06</tspan></text><text x="1424.5" y="49.5">0m60<tspan x="1424.5" dy="10.1">10:32</tspan></text><text x="1464.9" y="48.7">0m60<tspan x="1464.9" dy="10.1">22:57</tspan></text><text x="1505.3" y="47.8">0m70<tspan x="1505.3" dy="10.1">11:22</tspan></text><text x="1545.7" y="46.7">0m70<tspan x="1545.7" dy="10.1">23:47</tspan></text><text x="1586.1" y="45.6">0m70<tspan x="1586.1" dy="10.1">12:13</tspan></text><text x="1626.5" y="44.4">0m90<tspan x="1626.5" dy="10.1">00:38</tspan></text><text x="1666.9" y="43.3">0m90<tspan x="1666.9" dy="10.1">13:03</tspan></text><text x="1707.3" y="42.3">0m90<tspan x="1707.3" dy="10.1">01:28</tspan></text><text x="1747.7" y="41.5">1m00<tspan x="1747.7" dy="10.1">13:53</tspan></text><text x="1788.1" y="40.8">1m00<tspan x="1788.1" dy="10.1">02:19</tspan></text><text x="1828.5" y="40.4">1m00<tspan x="1828.5" dy="10.1">14:44</tspan></text><text x="1868.9" y="40.2">1m00<tspan x="1868.9" dy="10.1">03:09</tspan></text><text x="1909.3" y="40.3">1m00<tspan x="1909.3" dy="10.1">15:34</tspan></text><text x="1949.7" y="40.6">1m00<tspan x="1949.7" dy="10.1">04:00</tspan></text><text x="1990.1" y="41.1">1m00<tspan x="1990.1" dy="10.1">16:25</tspan></text><text x="2030.5" y="41.8">0m90<tspan x="2030.5" dy="10.1">04:50</tspan></text><text x="2070.9" y="42.8">0m90<tspan x="2070.9" dy="10.1">17:15</tspan></text><text x="2111.3" y="43.8">0m90<tspan x="2111.3" dy="10.1">05:41</tspan></text><text x="2151.7" y="44.9">0m80<tspan x="2151.7" dy="10.1">18:06</tspan></text><text x="2192.1" y="46.1">0m70<tspan x="2192.1" dy="10.1">06:31</tspan></text><text x="2232.6" y="47.2">0m70<tspan x="2232.6" dy="10.1">18:56</tspan></text><text x="2273" y="48.2">0m70<tspan x="2273" dy="10.1">07:22</tspan></text><text x="2313.4" y="49.1">0m60<tspan x="2313.4" dy="10.1">19:47</tspan></text><text x="2353.8" y="49.8">0m60<tspan x="2353.8" dy="10.1">08:12</tspan></text><text x="2394.2" y="50.3">0m60<tspan x="2394.2" dy="10.1">20:37</tspan></text></g>
<g class="d" transform="scale(0.62 1)"><text x="-11.8" y="-65.9">S 1</text><text x="85.3" y="-67.2">M 2</text><text x="182.4" y="-67.6">D 3</text><text x="279.5" y="-67.2">M 4</text><text x="376.6" y="-65.9">D 5</text><text x="473.7" y="-64.1">F 6</text><text x="570.8" y="-62.1">S 7</text><text x="667.9" y="-60.3">S 8</text><text x="765" y="-59">M 9</text><text x="862.1" y="-58.4">D 10</text><text x="959.2" y="-58.7">M 11</text><text x="1056.3" y="-59.9">D 12</text><text x="1153.4" y="-61.6">F 13</text><text x="1201.9" y="-62.6">S 14</text><text x="1299" y="-64.6">S 15</text><text x="1396.1" y="-66.3">M 16</text><text x="1493.2" y="-67.3">D 17</text><text x="1590.3" y="-67.6">M 18</text><text x="1687.4" y="-66.9">D 19</text><text x="1784.5" y="-65.5">F 20</text><text x="1881.6" y="-63.7">S 21</text><text x="1978.7" y="-61.7">S 22</text><text x="2075.8" y="-59.9">M 23</text><text x="2172.9" y="-58.7">D 24</text><text x="2270" y="-58.4">M 25</text><text x="2367.1" y="-58.9">D 26</text><text x="2464.2" y="-60.2">F 27</text><text x="2561.3" y="-62.1">S 28</text><text x="2609.8" y="-63.1">S 29</text><text x="2706.9" y="-65">M 30</text><text x="2804" y="-66.6">D 31</text><text x="12.5" y="78.1">S 1</text><text x="109.6" y="79.3">M 2</text><text x="206.7" y="79.6">D 3</text><text x="303.8" y="78.8">M 4</text><text x="400.9" y="77.2">D 5</text><text x="498" y="75.1">F 6</text><text x="546.5" y="74">S 7</text><text x="643.6" y="71.8">S 8</text><text x="740.7" y="70.1">M 9</text><text x="837.8" y="69.3">D 10</text><text x="934.9" y="69.4">M 11</text><text x="1032" y="70.5">D 12</text><text x="1129.1" y="72.3">F 13</text><text x="1226.2" y="74.5">S 14</text><text x="1323.3" y="76.7">S 15</text><text x="1420.4" y="78.5">M 16</text><text x="1517.5" y="79.5">D 17</text><text x="1614.6" y="79.5">M 18</text><text x="1711.7" y="78.5">D 19</text><text x="1808.8" y="76.8">F 20</text><text x="1905.9" y="74.6">S 21</text><text x="1954.4" y="73.4">S 22</text><text x="2051.5" y="71.3">M 23</text><text x="2148.6" y="69.8">D 24</text><text x="2245.7" y="69.2">M 25</text><text x="2342.8" y="69.6">D 26</text><text x="2439.9" y="70.8">F 27</text><text x="2537" y="72.8">S 28</text><text x="2634.1" y="75.1">S 29</text><text x="2731.2" y="77.2">M 30</text><text x="2828.3" y="78.8">D 31</text></g>
<g class="h" transform="scale(0.63 1)"><text x="-50.3" y="-53.4" text-anchor="end">HOCHWASSER</text><text x="-23.5" y="-53.4" text-anchor="end">ZEIT</text><text x="-23.5" y="-43.5" text-anchor="end">HÖHE</text><text x="-32.4" y="47.3" text-anchor="end">NIEDRIGWASSER</text><text x="-0.8" y="47.3" text-anchor="end">HÖHE</text><text x="-0.8" y="57.7" text-anchor="end">ZEIT</text></g>
</g>
<text x="220" y="756.7" font-size="2.1" font-weight="bold" fill="#10191d" stroke="#10191d" stroke-width="0.12" textLength="222" lengthAdjust="spacingAndGlyphs">Scan ▸ <tspan font-size="3.1">WWW.LES-MAREES.COM</tspan> und gestalte Ihre persönliche Landkarte, Gezeitenkalender. · Husum 2024 · Mit Genehmigung des Bundesamtes für Seeschifffahrt und Hydrographie, Hamburg · Printed by Marquet Studio, France</text>
<g font-size="2.7" font-weight="bold" fill="#10191d" stroke="#10191d" stroke-width="0.18">
<circle cx="543.6" cy="755.5" r="1.35" fill="#111" stroke="none"/>
<text x="545.5" y="756.4" textLength="12" lengthAdjust="spacingAndGlyphs">Neumond</text>
<circle cx="562.4" cy="755.5" r="1.15" fill="#dfe8ec" stroke="#111" stroke-width="0.4"/><path d="M562.4 754.1a1.35 1.35 0 0 0 0 2.7z" fill="#111" stroke="none"/>
<text x="564.3" y="756.4" textLength="17" lengthAdjust="spacingAndGlyphs">erstes Viertel</text>
<circle cx="587.1" cy="755.5" r="1.15" fill="none" stroke="#111" stroke-width="0.4"/>
<text x="589" y="756.4" textLength="12.4" lengthAdjust="spacingAndGlyphs">Vollmond</text>
<circle cx="606.2" cy="755.5" r="1.15" fill="#dfe8ec" stroke="#111" stroke-width="0.4"/><path d="M606.2 754.1a1.35 1.35 0 0 1 0 2.7z" fill="#111" stroke="none"/>
<text x="608.1" y="756.4" textLength="17.6" lengthAdjust="spacingAndGlyphs">letztes Viertel</text>
</g>
<text class="lb" x="148.4" y="224.8" textLength="20.2" lengthAdjust="spacingAndGlyphs">Titel</text>
<path d="M174.5 221.4H349.7L361.4 217" fill="none" stroke="#333" stroke-width="0.85"/>
<path d="M369.3 214.1L361.6 220.3L359.4 214.5z" fill="#000"/>
<text class="lb" x="140.8" y="261.7" textLength="27.8" lengthAdjust="spacingAndGlyphs">Mond</text>
<path d="M174.5 258.3H258L267.3 248.2" fill="none" stroke="#333" stroke-width="0.85"/>
<path d="M273 242L268.9 251L264.4 246.8z" fill="#000"/>
<text class="lb" x="137.6" y="290.2" textLength="31" lengthAdjust="spacingAndGlyphs">Monat</text>
<path d="M174.5 286.8H403.6L416.6 278.5" fill="none" stroke="#333" stroke-width="0.85"/>
<path d="M423.7 274L417.4 281.7L414.1 276.4z" fill="#000"/>
<text class="lb" x="136.2" y="332.9" textLength="32.4" lengthAdjust="spacingAndGlyphs">Datum</text>
<path d="M174.5 329.5H268.8L275.4 325.7" fill="none" stroke="#333" stroke-width="0.85"/>
<path d="M282.7 321.5L276.1 328.9L273 323.5z" fill="#000"/>
<text class="lb" x="111.5" y="388" textLength="57.1" lengthAdjust="spacingAndGlyphs">Hochwasser</text>
<text class="lb" x="150.4" y="400.6" textLength="18.2" lengthAdjust="spacingAndGlyphs">Zeit</text>
<path d="M174.5 391.4H252.5L266 402.2" fill="none" stroke="#333" stroke-width="0.85"/>
<path d="M272.5 407.5L263.2 404L267.1 399.2z" fill="#000"/>
<text class="lb" x="111.5" y="430.4" textLength="57.1" lengthAdjust="spacingAndGlyphs">Hochwasser</text>
<text class="lb" x="143" y="442.6" textLength="25.6" lengthAdjust="spacingAndGlyphs">Höhe</text>
<path d="M174.5 434.3H262L276 445.7" fill="none" stroke="#333" stroke-width="0.85"/>
<path d="M282.5 451L273.3 447.5L277.2 442.7z" fill="#000"/>
<text class="lb" x="100.4" y="501.6" textLength="68.2" lengthAdjust="spacingAndGlyphs">Niedrigwasser</text>
<text class="lb" x="143" y="514.2" textLength="25.6" lengthAdjust="spacingAndGlyphs">Höhe</text>
<path d="M174.5 505H245L258 513.8" fill="none" stroke="#333" stroke-width="0.85"/>
<path d="M265 518.5L255.5 515.8L258.9 510.7z" fill="#000"/>
<text class="lb" x="100.4" y="540.6" textLength="68.2" lengthAdjust="spacingAndGlyphs">Niedrigwasser</text>
<text class="lb" x="150.4" y="553.2" textLength="18.2" lengthAdjust="spacingAndGlyphs">Zeit</text>
<path d="M174.5 544H250L260.7 557" fill="none" stroke="#333" stroke-width="0.85"/>
<path d="M266 563.5L257.6 558.2L262.4 554.3z" fill="#000"/>
<text class="lb" x="108.1" y="734.2" textLength="50.7" lengthAdjust="spacingAndGlyphs">Lizenz BSH</text>
<path d="M174.5 732.2H334L347.2 748.3" fill="none" stroke="#333" stroke-width="0.85"/>
<path d="M352.5 754.8L344.1 749.5L348.9 745.6z" fill="#000"/>
<text class="lb" x="108.1" y="772.5" textLength="56.2" lengthAdjust="spacingAndGlyphs">Referenzort</text>
<path d="M174.5 771.3H327L331.4 764.7" fill="none" stroke="#333" stroke-width="0.85"/>
<path d="M336 757.7L333.4 767.2L328.2 763.8z" fill="#000"/>
<rect x="58.4" y="809" width="29.8" height="165.6" fill="#000"/>
<rect x="88" y="809" width="565.3" height="165.6" fill="#7ea4b4"/>
<text transform="translate(79.7 913.4) rotate(-90)" font-size="19.3" fill="#fff" letter-spacing="1" textLength="43.2" lengthAdjust="spacingAndGlyphs">ZOOM</text>
<g clip-path="url(#zc)"><g transform="translate(165.1 892.7)">
<path class="z" d="M0 -31.7 15.1 29.5 30.1 -27.5 45.2 23.5 60.2 -33 75.2 22.5 90.3 -27.5 105.4 28.5 120.4 -30.5 135.5 22.5 150.5 -23.5 165.6 20 180.6 -25.9 195.7 21.5 210.7 -24.3 225.8 21.7 240.8 -23.8 255.9 22 270.9 -23.8 286 22 301 -24.9 316.1 22 331.1 -25.5 346.2 25.5 361.2 -26.5 376.3 27.5 391.3 -29.5 406.4 28.2 421.4 -29.5 436.5 30 451.5 -32.2 466.6 34.1 481.6 -31.1 496.7 34.2 511.7 -32.8 526.8 34.7 541.8 -32.8"/>
<path class="y" d="M-2.7 0H560"/>
<circle cx="136.1" cy="-28.7" r="6.5" fill="#fff" stroke="#111" stroke-width="1.4"/><path d="M136.1 -35.9a7.2 7.2 0 0 1 0 14.4z" fill="#111"/>
<path class="dt" d="M-7.3 -63.2l27.5 0M22.8 -63.2l18 0M52.9 -63.2l27.5 1.3M83 -61.8l18 0.5M113.1 -60.9l27.5 1.8M143.2 -58.9l18 0.3M173.3 -58.4l27.5 0.7M203.4 -57.6l18 0.8M233.5 -56.2l27.5 0M263.6 -56.2l18 0.1M293.7 -56l27.5 -0.5M323.8 -56.5l18 -1.4M353.9 -58.9l27.5 -1.8M384 -60.9l18 -0.9M414.1 -62.4l27.5 -1.3M444.2 -63.8l27.5 -0.9M474.3 -64.8l18 -0.4M504.4 -65.4l27.5 -0.5M534.5 -66l18 0M7.8 60.9l27 0M37.9 60.9l17.5 -0.9M68 59.4l27 -0.8M98.1 58.5l27 -0.8M128.2 57.6l17.5 -0.9M158.2 56.1l27 -0.8M188.4 55.2l17.5 -0.9M218.5 53.6l27 -0.4M248.6 53.1l17.5 0M278.7 53.1l27 0M308.8 53.1l17.5 1.5M338.9 55.6l27 1.6M369 57.4l17.5 1.1M399.1 59.3l27 1.6M429.2 61.1l17.5 1M459.2 62.9l27 0.9M489.4 63.9l17.5 0.3M519.5 64.5l27 0"/>
<g class="w" transform="scale(0.745 1)"><text x="-9.8" y="-52.7">05:28<tspan x="-9.8" dy="10.1">4m30</tspan></text><text x="30.6" y="-52.7">17:48<tspan x="30.6" dy="10.1">4m00</tspan></text><text x="71" y="-52.7">05:58<tspan x="71" dy="10.1">4m20</tspan></text><text x="111.4" y="-51.3">18:15<tspan x="111.4" dy="10.1">4m00</tspan></text><text x="151.8" y="-50.4">06:25<tspan x="151.8" dy="10.1">4m10</tspan></text><text x="192.2" y="-48.4">18:46<tspan x="192.2" dy="10.1">3m90</tspan></text><text x="232.6" y="-47.9">07:04<tspan x="232.6" dy="10.1">4m00</tspan></text><text x="273" y="-47.1">19:37<tspan x="273" dy="10.1">3m80</tspan></text><text x="313.4" y="-45.7">08:10<tspan x="313.4" dy="10.1">3m90</tspan></text><text x="353.8" y="-45.7">20:53<tspan x="353.8" dy="10.1">3m80</tspan></text><text x="394.2" y="-45.5">09:37<tspan x="394.2" dy="10.1">3m80</tspan></text><text x="434.6" y="-46">22:19<tspan x="434.6" dy="10.1">3m90</tspan></text><text x="475" y="-48.4">11:05<tspan x="475" dy="10.1">3m90</tspan></text><text x="515.4" y="-50.4">23:40<tspan x="515.4" dy="10.1">4m00</tspan></text><text x="555.8" y="-51.9">12:22<tspan x="555.8" dy="10.1">4m00</tspan></text><text x="596.2" y="-53.3">00:47<tspan x="596.2" dy="10.1">4m20</tspan></text><text x="636.6" y="-54.3">13:37<tspan x="636.6" dy="10.1">4m10</tspan></text><text x="677" y="-54.9">01:58<tspan x="677" dy="10.1">4m30</tspan></text><text x="717.4" y="-55.5">14:41<tspan x="717.4" dy="10.1">4m20</tspan></text><text x="10.4" y="48.2">0m60<tspan x="10.4" dy="10.1">11:52</tspan></text><text x="50.8" y="48.2">0m70<tspan x="50.8" dy="10.1">23:54</tspan></text><text x="91.2" y="46.7">0m70<tspan x="91.2" dy="10.1">12:14</tspan></text><text x="131.6" y="45.8">0m80<tspan x="131.6" dy="10.1">00:13</tspan></text><text x="172" y="44.9">0m80<tspan x="172" dy="10.1">12:30</tspan></text><text x="212.4" y="43.4">0m90<tspan x="212.4" dy="10.1">00:40</tspan></text><text x="252.8" y="42.5">0m90<tspan x="252.8" dy="10.1">13:04</tspan></text><text x="293.2" y="40.9">1m00<tspan x="293.2" dy="10.1">01:34</tspan></text><text x="333.6" y="40.4">1m00<tspan x="333.6" dy="10.1">14:10</tspan></text><text x="374" y="40.4">1m00<tspan x="374" dy="10.1">02:59</tspan></text><text x="414.4" y="40.4">1m00<tspan x="414.4" dy="10.1">15:42</tspan></text><text x="454.8" y="42.9">0m90<tspan x="454.8" dy="10.1">04:37</tspan></text><text x="495.2" y="44.7">0m80<tspan x="495.2" dy="10.1">17:16</tspan></text><text x="535.6" y="46.6">0m70<tspan x="535.6" dy="10.1">06:08</tspan></text><text x="576" y="48.4">0m70<tspan x="576" dy="10.1">18:37</tspan></text><text x="616.4" y="50.2">0m50<tspan x="616.4" dy="10.1">07:23</tspan></text><text x="656.8" y="51.2">0m50<tspan x="656.8" dy="10.1">19:49</tspan></text><text x="697.2" y="51.8">0m40<tspan x="697.2" dy="10.1">08:32</tspan></text></g>
<g class="d" transform="scale(0.62 1)"><text x="-11.8" y="-65.6">D 1</text><text x="85.3" y="-65.6">F 2</text><text x="182.4" y="-63.3">S 3</text><text x="279.5" y="-60.8">S 4</text><text x="376.6" y="-58.6">M 5</text><text x="473.7" y="-58.4">D 6</text><text x="570.8" y="-61.3">M 7</text><text x="667.9" y="-64.8">D 8</text><text x="716.5" y="-66.2">F 9</text><text x="813.5" y="-67.8">S 10</text><text x="12.5" y="72.2">D 1</text><text x="109.6" y="70.7">F 2</text><text x="158.1" y="69.8">S 3</text><text x="255.2" y="67.4">S 4</text><text x="352.3" y="64.9">M 5</text><text x="449.4" y="64.4">D 6</text><text x="546.5" y="66.9">M 7</text><text x="643.6" y="70.6">D 8</text><text x="740.7" y="74.2">F 9</text><text x="837.8" y="75.8">S 10</text></g>
<g class="h" transform="scale(0.63 1)"><text x="-50.3" y="-53.4" text-anchor="end">HOCHWASSER</text><text x="-23.5" y="-53.4" text-anchor="end">ZEIT</text><text x="-23.5" y="-43.5" text-anchor="end">HÖHE</text><text x="-32.4" y="47.3" text-anchor="end">NIEDRIGWASSER</text><text x="-0.8" y="47.3" text-anchor="end">HÖHE</text><text x="-0.8" y="57.7" text-anchor="end">ZEIT</text></g>
</g></g>
</svg></body></html>
